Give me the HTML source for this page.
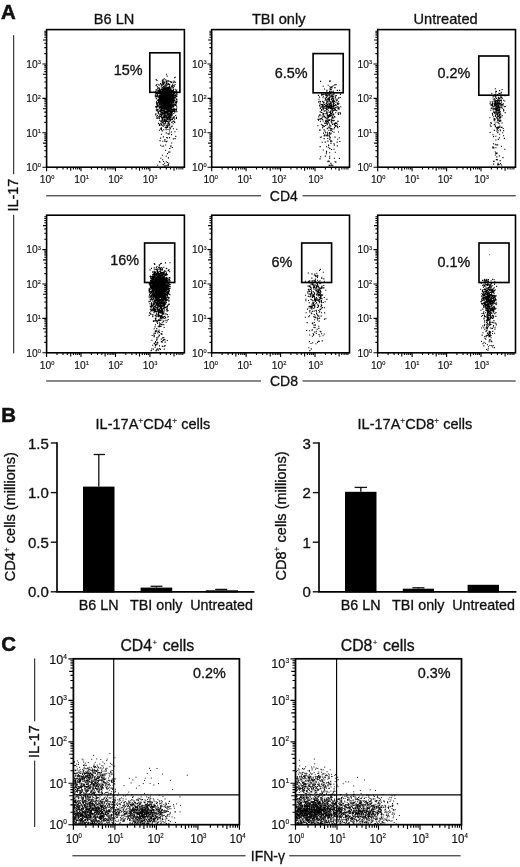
<!DOCTYPE html>
<html lang="en">
<head>
<meta charset="utf-8">
<title>Figure</title>
<style>
html,body{margin:0;padding:0;background:#fff;}
body{width:520px;height:867px;overflow:hidden;}
svg{display:block;will-change:transform;}
svg text{font-family:"Liberation Sans", sans-serif;fill:#111;}
svg text.h{stroke:#111;stroke-width:.32px;}
svg text.b{stroke:#111;stroke-width:.55px;}
svg text.k{stroke:#111;stroke-width:.16px;}
</style>
</head>
<body>
<svg width="520" height="867" viewBox="0 0 520 867">
<rect x="0" y="0" width="520" height="867" fill="#fff"/>
<g id="secA">
<text x="0.9" y="19.2" font-size="20.4" font-weight="bold" class="b">A</text>
<text x="114.1" y="23.9" font-size="14.6" text-anchor="middle" class="h">B6 LN</text>
<text x="278.7" y="23.9" font-size="14.6" text-anchor="middle" class="h">TBI only</text>
<text x="445.6" y="23.9" font-size="14.6" text-anchor="middle" class="h">Untreated</text>
<line x1="13.7" y1="35.2" x2="13.7" y2="174.2" stroke="#111" stroke-width="1.0"/>
<line x1="13.7" y1="214.8" x2="13.7" y2="353.4" stroke="#111" stroke-width="1.0"/>
<text transform="translate(17.9 211.5) rotate(-90)" font-size="14.4" class="h">IL-17</text>
<path d="M160.8 94.3h1.1M157.5 100.8h1.1M159.1 101.8h1.1M168.5 96.8h1.1M164.1 92.7h1.1M160.3 102.3h1.1M163.2 90.1h1.1M173.5 100.9h1.1M164.2 99.6h1.1M162.9 91.6h1.1M172.4 94.5h1.1M168.1 98h1.1M166 90h1.1M162.8 95.2h1.1M158.2 99.6h1.1M160.1 92.9h1.1M163.4 103.1h1.1M164.7 95.6h1.1M167.5 102.9h1.1M168.5 112h1.1M166.9 102.1h1.1M166.9 92.1h1.1M160.9 101.2h1.1M155.2 92.2h1.1M163.2 92h1.1M161.1 103.5h1.1M162.6 90.9h1.1M164.5 105.9h1.1M159.7 98h1.1M160.4 102.9h1.1M165.3 97.6h1.1M166.4 91.1h1.1M162.6 92.5h1.1M168.2 96.4h1.1M164.7 99.1h1.1M160.8 95.5h1.1M166 93.1h1.1M175 82.3h1.1M162.5 104.3h1.1M171.5 95.9h1.1M172.6 94.8h1.1M173.1 101.3h1.1M161.8 101.3h1.1M175.7 98.8h1.1M166.4 95.4h1.1M164.6 98.7h1.1M164.7 97.2h1.1M168.7 91.4h1.1M166.1 101.9h1.1M164.9 98.3h1.1M172.1 90.6h1.1M162.3 103.2h1.1M160.7 91.5h1.1M169.7 90.1h1.1M169.2 93.3h1.1M171.2 96.8h1.1M160.6 105.3h1.1M171.1 93.7h1.1M168.2 103.9h1.1M174.4 100.8h1.1M159.7 95.3h1.1M166.9 99.8h1.1M164.4 98.6h1.1M158 90.6h1.1M162.3 94.1h1.1M171.3 94.2h1.1M163.5 95.8h1.1M162.3 89.9h1.1M170.1 100.3h1.1M170.6 98.3h1.1M170.6 99.6h1.1M161.9 98.3h1.1M165.5 106h1.1M170.8 101.1h1.1M162.6 102.2h1.1M162.1 97.2h1.1M169.9 105.2h1.1M173.5 100h1.1M160.2 105.4h1.1M159.3 100h1.1M158.7 85.1h1.1M160.8 97.5h1.1M165.1 100.2h1.1M168.8 96.5h1.1M165.1 104.2h1.1M162.4 98.1h1.1M166.6 99.5h1.1M161.1 98.2h1.1M165.6 95.5h1.1M162.7 98.2h1.1M171.4 82.1h1.1M169.8 103.7h1.1M161.7 92.1h1.1M160.9 101.4h1.1M163.7 93.8h1.1M157.7 95.9h1.1M162.2 93.1h1.1M162.2 91.5h1.1M170.1 87.7h1.1M163.7 86h1.1M161.9 101.9h1.1M159.2 100.7h1.1M160 100.3h1.1M165.5 96.5h1.1M164.7 105.4h1.1M171.4 95.1h1.1M162.7 97.4h1.1M171 101.3h1.1M167.1 99.6h1.1M165.8 95.6h1.1M156 98.7h1.1M159.5 100.7h1.1M169.4 93.2h1.1M172.6 97.9h1.1M166.8 95.6h1.1M169.5 98h1.1M163.8 102.2h1.1M164 89.3h1.1M162.6 97.4h1.1M170.6 102h1.1M167.5 89.6h1.1M164.7 106.7h1.1M164.2 101.6h1.1M168.5 104.4h1.1M167.4 103.4h1.1M161.7 91h1.1M174.2 91.8h1.1M167.1 97.1h1.1M165.9 93.5h1.1M173 95.3h1.1M170.8 100.6h1.1M165.4 90h1.1M168.4 94.1h1.1M160.6 84.9h1.1M162.7 103.4h1.1M164.3 93.1h1.1M171.8 99.2h1.1M156.5 96.1h1.1M169.1 98.2h1.1M161.7 95.2h1.1M161 92.2h1.1M164.8 93.2h1.1M167.1 87.4h1.1M168.8 97h1.1M174.5 102.5h1.1M167.6 97.1h1.1M170.1 94.7h1.1M162.9 90.3h1.1M169.3 98.3h1.1M166.6 100.5h1.1M163.5 93.8h1.1M165.3 102.6h1.1M165.5 106.2h1.1M166.7 100h1.1M167.8 98.8h1.1M163.3 98h1.1M162.2 97.4h1.1M169.5 94.6h1.1M157.5 97h1.1M162.8 91.6h1.1M173.4 100.9h1.1M161.4 93.1h1.1M162.4 99.4h1.1M169.2 96.2h1.1M157.7 96.5h1.1M175.8 93.2h1.1M173.6 96.7h1.1M172.8 92.8h1.1M173.4 95.1h1.1M170.3 112.2h1.1M164.7 101.2h1.1M167.6 93.6h1.1M161.4 94.6h1.1M169.8 91.6h1.1M160.3 96.1h1.1M164.5 92.4h1.1M170.7 96.9h1.1M160.3 104h1.1M164 103h1.1M166.6 90.9h1.1M159.2 96.7h1.1M171.5 93.7h1.1M167.5 98.1h1.1M158.4 87.7h1.1M165.6 104.6h1.1M162 89.1h1.1M162.6 93.6h1.1M166.2 99.3h1.1M162.3 99h1.1M170.5 89.1h1.1M162.3 97h1.1M170.6 102.4h1.1M165.6 88.5h1.1M170 93.8h1.1M163.1 92.6h1.1M163.3 92.1h1.1M160.2 97.6h1.1M168.6 84.6h1.1M170.4 97.1h1.1M176.2 96.1h1.1M172.1 99.3h1.1M167 99.3h1.1M164.8 99.2h1.1M167.7 92.4h1.1M165.7 102.4h1.1M173 82.7h1.1M170.4 100.2h1.1M161.7 99h1.1M162.4 101.3h1.1M172.5 92.7h1.1M167.3 91.2h1.1M164.7 92.1h1.1M171.6 95.8h1.1M163.9 99.7h1.1M164.4 97.3h1.1M163.5 103.3h1.1M156.2 110.6h1.1M170 94h1.1M159.9 93.9h1.1M163 110.3h1.1M162.2 104.4h1.1M169.4 94.3h1.1M165.5 96.8h1.1M165.9 96.1h1.1M157.6 97.1h1.1M165.4 90h1.1M158.6 101.7h1.1M167.3 96.6h1.1M167.6 98.6h1.1M165.7 95.2h1.1M175.8 94.7h1.1M168.4 95.5h1.1M168.7 100.2h1.1M166.5 105.6h1.1M164.9 94.5h1.1M170.5 93.6h1.1M171.2 100h1.1M159.4 93.9h1.1M171 97h1.1M168.3 100.5h1.1M170.5 98.6h1.1M168.1 89.5h1.1M159.7 101.9h1.1M160.1 98.7h1.1M174.7 89.2h1.1M167 93.4h1.1M158.9 89.9h1.1M167.5 99.3h1.1M164 97.5h1.1M156.8 100.2h1.1M160.9 92.1h1.1M157.9 87.7h1.1M167.1 90.5h1.1M165.6 85.5h1.1M164.6 94.7h1.1M167.2 100.8h1.1M168.7 94.8h1.1M155.5 94h1.1M164.3 94.5h1.1M161.7 102h1.1M159.8 93.4h1.1M163.1 99.8h1.1M165.2 97.1h1.1M164.5 103h1.1M158.7 98.1h1.1M163.4 92.7h1.1M175.7 102.8h1.1M160.6 96.8h1.1M157.5 92.1h1.1M167.1 96.1h1.1M168.7 98.4h1.1M168.1 89.3h1.1M160.3 95.8h1.1M170.7 101.5h1.1M162 105.2h1.1M160.2 95.6h1.1M162.8 91.8h1.1M165.3 98.7h1.1M169.3 101.7h1.1M168.9 104.8h1.1M165.7 96.7h1.1M170.4 91.9h1.1M166.2 85h1.1M170.2 93.1h1.1M158.9 101.9h1.1M158.1 93.5h1.1M169.6 89.9h1.1M159 95.6h1.1M164.3 99.7h1.1M165.3 103.4h1.1M163.4 90.1h1.1M163.6 92.2h1.1M172.6 92.5h1.1M164.4 93.6h1.1M170.1 106.1h1.1M167.2 93.2h1.1M165.9 100.3h1.1M165.7 101.6h1.1M169.4 98.3h1.1M174.8 92.2h1.1M160 98.1h1.1M166.2 93.2h1.1M164.9 99.4h1.1M168.5 91.8h1.1M166.6 98.7h1.1M169 92.6h1.1M163.7 93.1h1.1M166 96.9h1.1M162.5 94.3h1.1M162.5 104.4h1.1M165.1 95.2h1.1M165.1 99.4h1.1M160.1 102.3h1.1M173.5 104.1h1.1M165.1 101.3h1.1M159 99.9h1.1M171.2 100.8h1.1M162.1 99h1.1M168.3 87h1.1M165.7 100.6h1.1M167 100.1h1.1M166.6 91.3h1.1M163 91.9h1.1M166 96.7h1.1M175.8 101.4h1.1M154.8 96.3h1.1M166.1 96.4h1.1M167.9 101.9h1.1M160.6 91.7h1.1M159.1 89.7h1.1M176.4 99.3h1.1M164 95.2h1.1M176 102.1h1.1M168.4 100.7h1.1M166.2 101.3h1.1M168.1 87.3h1.1M168.9 96.2h1.1M171.6 85.8h1.1M167.9 91.5h1.1M166.5 97h1.1M166.7 95.7h1.1M172.4 88.3h1.1M169.8 102h1.1M160.9 101.6h1.1M162.7 90.3h1.1M167.4 99.5h1.1M162.7 99.7h1.1M164 102.7h1.1M161.1 96.6h1.1M164.5 100.6h1.1M167.9 98.8h1.1M170.7 97.6h1.1M165.8 97.3h1.1M176 99.6h1.1M165.4 86.1h1.1M158.9 92.6h1.1M170.7 102.2h1.1M168.2 95h1.1M163.4 97.1h1.1M164.3 97.2h1.1M165 90.3h1.1M166.7 103.2h1.1M175.2 97.2h1.1M159 97.9h1.1M175.1 102.1h1.1M164.6 101.7h1.1M169.3 97.1h1.1M161.4 89.7h1.1M166.5 98.1h1.1M164.1 91.3h1.1M169.1 88.6h1.1M166.2 93.3h1.1M160.2 107.2h1.1M170.4 99.7h1.1M169.2 89h1.1M168.7 110.6h1.1M170.7 91.6h1.1M171.2 91.7h1.1M165.7 97.8h1.1M159.2 103.2h1.1M159 88.7h1.1M172.4 98.1h1.1M169.3 95.9h1.1M166.3 88.1h1.1M163.7 94.6h1.1M166 99.6h1.1M165.9 98.4h1.1M164.2 101.1h1.1M162.4 100.1h1.1M176.3 111.6h1.1M166.9 96.2h1.1M162.8 106.5h1.1M159.4 98.6h1.1M162.2 98.9h1.1M169.3 97.6h1.1M169.5 96.8h1.1M164.7 105h1.1M166.1 94.4h1.1M164.3 99h1.1M160.4 95.6h1.1M172.2 97h1.1M167.6 104.1h1.1M172.2 98.8h1.1M162.1 98.7h1.1M165.1 96.7h1.1M170.1 108.4h1.1M164.6 98.3h1.1M159 94h1.1M161.2 89.4h1.1M166.3 94.1h1.1M167.5 105.8h1.1M165.3 94.9h1.1M170.7 107h1.1M170.7 98.5h1.1M167.4 103.1h1.1M165.9 103.2h1.1M164.6 100.1h1.1M168.5 94.1h1.1M170.3 99.1h1.1M166.1 94.3h1.1M168 95.1h1.1M164.2 99.7h1.1M158.9 98.7h1.1M160.9 92.2h1.1M169.6 92.5h1.1M168 98.1h1.1M173.6 97.2h1.1M166.1 99.3h1.1M170 99h1.1M172.3 100.3h1.1M170.7 92.7h1.1M162.8 96.8h1.1M164.9 95h1.1M166.4 100.1h1.1M161 102.4h1.1M168.1 80.8h1.1M170.8 93.1h1.1M163.4 99.2h1.1M175.5 103.9h1.1M164.4 93.2h1.1M164.8 98.9h1.1M164.6 87.8h1.1M162.3 99.4h1.1M167.8 108.6h1.1M165.9 93.5h1.1M173.9 95.4h1.1M168.8 92.8h1.1M168.4 102.8h1.1M164.7 108.7h1.1M158.9 103.3h1.1M165.4 101.7h1.1M161.6 100.4h1.1M170.5 96.2h1.1M165.7 104.4h1.1M174 93.2h1.1M169.4 94.9h1.1M169.9 98.6h1.1M166.9 99.3h1.1M166.8 101.3h1.1M169 97.1h1.1M170.3 93.2h1.1M162.3 94.2h1.1M168.2 97.1h1.1M157.5 92h1.1M165.4 95h1.1M164.5 90.1h1.1M162.4 98.6h1.1M158.7 92.2h1.1M171.6 90.6h1.1M166.1 92.3h1.1M167.3 92.4h1.1M174.8 97.3h1.1M175.9 109.3h1.1M161.4 91.4h1.1M171 94.6h1.1M168.9 102.5h1.1M167.8 97.9h1.1M168.2 96.4h1.1M165.7 103.1h1.1M173.6 91.8h1.1M168.8 89.6h1.1M167.5 88.9h1.1M171.9 97.4h1.1M170.2 103.7h1.1M168.1 89.4h1.1M167.4 92.1h1.1M174.4 97.6h1.1M168.3 100.1h1.1M165.4 99.1h1.1M161.6 103.8h1.1M164.1 97.8h1.1M160.7 86.7h1.1M166.3 99.8h1.1M167.1 98.5h1.1M155.8 96.5h1.1M165.9 83h1.1M169 99.7h1.1M166.6 97.9h1.1M161.1 103.4h1.1M172 84.2h1.1M162.4 106.9h1.1M159.8 95.7h1.1M160.5 104.5h1.1M165.7 101.7h1.1M170.6 103.9h1.1M171.5 97h1.1M166.8 90.5h1.1M160 99.9h1.1M162.6 90.5h1.1M161.4 84.2h1.1M164.9 111h1.1M157.1 102.8h1.1M166.4 99.5h1.1M169 95.6h1.1M165.1 106.5h1.1M168.1 102.9h1.1M161.2 98.4h1.1M158.7 98.8h1.1M162.7 88.9h1.1M171.5 97.7h1.1M170.9 86.2h1.1M163.6 91.2h1.1M171.7 94.5h1.1M164.2 92.4h1.1M173.2 96.4h1.1M168.2 97.8h1.1M163.6 101.6h1.1M169.7 107.4h1.1M162 94.2h1.1M161.2 99.7h1.1M158.7 90.8h1.1M167.1 90.5h1.1M165.5 99.8h1.1M165.4 94.6h1.1M163.8 98h1.1M172.8 87.8h1.1M163.7 93.2h1.1M162.3 101.7h1.1M171.9 96.6h1.1M172.8 97.6h1.1M167.5 97.8h1.1M157.3 93.7h1.1M162.9 93h1.1M168.8 105.9h1.1M165.9 109.5h1.1M173.4 97.1h1.1M159.1 91.1h1.1M169.1 99.1h1.1M162.7 95.3h1.1M172.3 96.2h1.1M165.4 97.4h1.1M170.8 99.5h1.1M162.6 95.3h1.1M158.9 90.3h1.1M160.4 91.4h1.1M162.8 87.1h1.1M160.8 100.1h1.1M171.7 85.5h1.1M172.4 92.7h1.1M167.1 89h1.1M160.7 96.9h1.1M165.2 93.3h1.1M162.4 90.4h1.1M172.9 89.6h1.1M167.3 90.3h1.1M168.2 103.2h1.1M163.8 100.4h1.1M156 101.7h1.1M162 94.3h1.1M160.3 102h1.1M167.6 94h1.1M166.3 99.3h1.1M161.9 98.8h1.1M163.9 89.5h1.1M173.4 109.8h1.1M161.1 98.4h1.1M161.3 94.3h1.1M164.7 98.6h1.1M162.4 98.9h1.1M163.7 94h1.1M168.4 95.6h1.1M174.3 98.3h1.1M157.1 94.4h1.1M165.7 95.7h1.1M166 96.6h1.1M165.4 100.8h1.1M164.9 111.3h1.1M164.1 99.3h1.1M170.7 99.1h1.1M163.5 90.6h1.1M165.2 93.5h1.1M165.8 103.2h1.1M166.3 97.9h1.1M165 100.2h1.1M170.7 94.7h1.1M165.8 92.6h1.1M166.7 89.9h1.1M165.5 97.2h1.1M160.9 96.9h1.1M161.7 99.1h1.1M160.7 103.5h1.1M166.7 97.2h1.1M162.3 91.2h1.1M160.6 93.3h1.1M167 92.3h1.1M168.4 97.6h1.1M157.2 105.8h1.1M174.1 99.8h1.1M166 101.4h1.1M165.3 93.6h1.1M171 97.7h1.1M166.1 95h1.1M162.8 96.5h1.1M176.6 94.1h1.1M160.5 89.4h1.1M165.3 103.1h1.1M170 92.3h1.1M160.6 92h1.1M165.3 95h1.1M167.7 105.8h1.1M160.4 95.7h1.1M161.4 101.7h1.1M165.6 105.1h1.1M169 100.5h1.1M166.2 98h1.1M159.9 95.7h1.1M167.8 111.7h1.1M166.3 87.4h1.1M168 101.9h1.1M171.3 98.7h1.1M170.8 99.1h1.1M167.8 103.9h1.1M167.3 97.5h1.1M160.4 91.5h1.1M165.1 101.5h1.1M166.9 94.3h1.1M163.8 91.8h1.1M166.3 95.6h1.1M161.8 95.7h1.1M173.3 101.5h1.1M176.3 96.4h1.1M163.9 93.6h1.1M167.8 106.8h1.1M164.7 104.5h1.1M172 98.6h1.1M167.9 97.8h1.1M166.2 98.6h1.1M164.7 97.9h1.1M166.4 93.3h1.1M160.9 94.8h1.1M169.1 102.4h1.1M162.3 106h1.1M168.4 91.4h1.1M166.4 98.6h1.1M171.2 98h1.1M165.7 100.4h1.1M170.8 102.1h1.1M161.3 89.3h1.1M168.8 95.3h1.1M164.7 98.4h1.1M166.8 92.8h1.1M166.2 92.4h1.1M170.4 93.6h1.1M155.9 90h1.1M167.4 103.1h1.1M158.5 89.7h1.1M171.7 103.2h1.1M156.1 96.1h1.1M160.9 97.1h1.1M157.6 97.2h1.1M173.8 85.7h1.1M159.5 92h1.1M166.4 88h1.1M163.2 99.2h1.1M157 103.2h1.1M164.1 95.4h1.1M169 87.4h1.1M164.9 104.1h1.1M170.4 101.4h1.1M164 107.6h1.1M165.8 92.7h1.1M163.9 93.2h1.1M167.5 95h1.1M175.1 105h1.1M167.6 96.1h1.1M166.8 94.2h1.1M162.8 100.5h1.1M162.1 96h1.1M173 93.8h1.1M160.4 110.4h1.1M161.3 94.8h1.1M165.3 86.8h1.1M163.7 93.5h1.1M175.4 96.1h1.1M162.3 94.9h1.1M167.6 97h1.1M169.3 99h1.1M160.3 97.8h1.1M162.6 91.2h1.1M167.9 89.2h1.1M173.8 101h1.1M161.3 97.6h1.1M158.1 99.4h1.1M170.6 105.5h1.1M173.3 100.2h1.1M164.2 93.5h1.1M155 106.9h1.1M172.9 99.6h1.1M164.8 91.5h1.1M171.3 101.3h1.1M165.6 102.1h1.1M164 89h1.1M163.6 97.6h1.1M173 98.7h1.1M172.8 87.2h1.1M155.3 93.5h1.1M161.2 94.1h1.1M174.5 95.4h1.1M164 91.8h1.1M159.1 95.9h1.1M165.8 92.2h1.1M165.3 100.8h1.1M165.3 96.6h1.1M163.5 95.1h1.1M164.3 88.7h1.1M163.6 92.2h1.1M167.4 106.3h1.1M161.8 98.4h1.1M164.4 89.5h1.1M165.1 99.6h1.1M172.2 91.7h1.1M167.6 95.2h1.1M165.3 102.5h1.1M168.4 96.5h1.1M167.8 83.6h1.1M171.1 93.1h1.1M168.3 92.7h1.1M174.6 94.9h1.1M172.4 92.4h1.1M165.6 89.2h1.1M163.8 96.5h1.1M170.1 98.4h1.1M168.3 100.1h1.1M165.3 94.2h1.1M158.6 97.1h1.1M156.8 95.2h1.1M167.5 107h1.1M169.6 92.7h1.1M169.7 98.2h1.1M159.5 92.7h1.1M170.9 92.4h1.1M163.2 99.8h1.1M167.7 100.6h1.1M167.8 89.5h1.1M161.9 91.9h1.1M162.9 99.2h1.1M155.6 89.7h1.1M161.3 94.4h1.1M157 88.3h1.1M167.9 92.9h1.1M166.1 93h1.1M170.3 106.9h1.1M167.5 92.6h1.1M162.7 89.4h1.1M167.5 92.5h1.1M163.9 99h1.1M168.8 96.8h1.1M167.3 96.5h1.1M161 108.3h1.1M165.8 96.7h1.1M166.1 107.2h1.1M164.3 102.6h1.1M170.2 97.2h1.1M174.2 93.4h1.1M164 93.5h1.1M164.1 92.5h1.1M154.8 95.1h1.1M165.2 88.9h1.1M163.7 105.4h1.1M155.2 91.2h1.1M167.2 97.3h1.1M168.7 95.5h1.1M162.2 91.7h1.1M164 103.8h1.1M161.1 93.7h1.1M169.5 88.7h1.1M158.4 102.6h1.1M164.3 93h1.1M175.4 90.7h1.1M166.1 92.5h1.1M168.1 98.2h1.1M165.1 91.3h1.1M160.1 106.4h1.1M165.6 93.6h1.1M167.8 98.3h1.1M160.8 101.1h1.1M167.5 94.4h1.1M171.9 100.8h1.1M171 93.3h1.1M158 91.5h1.1M161 97h1.1M157.9 91.2h1.1M171 98.9h1.1M168.8 93.6h1.1M169.2 100.4h1.1M161.5 92.2h1.1M160.1 104.4h1.1M166.2 88.2h1.1M166.3 93.5h1.1M161.6 100h1.1M166.5 96.9h1.1M169 89.6h1.1M166.9 97.5h1.1M160.7 95.7h1.1M155.4 97.9h1.1M164.5 102h1.1M166.6 92.3h1.1M164.5 92.9h1.1M163.7 91.7h1.1M162.4 97.9h1.1M169.3 84.2h1.1M165.5 97.1h1.1M166.4 97.6h1.1M161 94.2h1.1M162.8 100.2h1.1M166.6 104.5h1.1M160.9 95.2h1.1M159.6 98.2h1.1M164.2 94.9h1.1M171.7 99.8h1.1M166.7 104.9h1.1M173 95h1.1M165.2 100.9h1.1M164.3 99h1.1M159 93.7h1.1M163 88.5h1.1M172.8 97.8h1.1M167.4 102.9h1.1M169.4 89h1.1M169.3 101.1h1.1M165.8 93h1.1M164.8 96.9h1.1M166.4 88.4h1.1M169.1 93.6h1.1M168 97.8h1.1M168.2 94.8h1.1M166.6 98.2h1.1M162 82.9h1.1M164.5 101.9h1.1M161.2 89.3h1.1M170.7 105.7h1.1M155.5 85.7h1.1M164.7 96.9h1.1M157.1 92.4h1.1M164.1 105.7h1.1M160.2 90.5h1.1M165.7 95.4h1.1M172.1 111.7h1.1M165 98.4h1.1M168.8 88.7h1.1M166.3 95.9h1.1M164 93.6h1.1M174.3 104.1h1.1M166.1 102.2h1.1M163.2 91.9h1.1M163.4 84h1.1M167.7 96.5h1.1M167.8 102h1.1M169.6 95.5h1.1M166.5 98.3h1.1M158.8 91.3h1.1M168.4 91.3h1.1M164.3 85.7h1.1M164.4 95.6h1.1M158.5 100.2h1.1M163 90.7h1.1M162.3 108.7h1.1M165.6 91.6h1.1M158.7 91.3h1.1M166 105.3h1.1M166.4 108.8h1.1M160.3 100.4h1.1M162.7 87.1h1.1M161.6 96.3h1.1M170.2 97.3h1.1M172.6 91.6h1.1M164.1 88.2h1.1M157.7 96.9h1.1M163.7 98.9h1.1M169.9 87.7h1.1M162.7 91.3h1.1M166.5 98.1h1.1M161.7 96.2h1.1M175.3 95.4h1.1M170.3 97h1.1M171.3 103.1h1.1M159.3 92.2h1.1M160.4 99h1.1M171.1 101.9h1.1M164.9 112.2h1.1M164.5 117.5h1.1M167.4 102.9h1.1M159.7 99.2h1.1M169.5 116.6h1.1M165.9 98.2h1.1M168.1 88h1.1M162.5 117.5h1.1M168.3 101.3h1.1M162.4 105.2h1.1M170.5 95.1h1.1M171.3 95.8h1.1M170.3 97.3h1.1M168.3 104.7h1.1M168.9 111.4h1.1M156.9 86.8h1.1M169.9 115h1.1M164.5 97.1h1.1M166.3 98.1h1.1M164.4 114.3h1.1M159 107.3h1.1M163.2 93.8h1.1M169 125h1.1M172.7 100h1.1M162.8 110.3h1.1M161.4 109.8h1.1M172.8 121h1.1M161.5 103.8h1.1M175.9 117.3h1.1M166 101.1h1.1M161.5 118.4h1.1M170.6 101h1.1M174.1 104.7h1.1M158.9 125.5h1.1M173.4 110.9h1.1M164.4 109h1.1M172.9 128.7h1.1M163.9 111.3h1.1M158.1 100.5h1.1M168.2 114.8h1.1M170.3 97.1h1.1M175.9 118.4h1.1M174.1 119.1h1.1M169.2 102.7h1.1M164.6 102.2h1.1M163.3 109.6h1.1M164.4 108.1h1.1M161.7 99h1.1M164.5 113.2h1.1M166.4 89.1h1.1M166.7 104h1.1M165.7 104.3h1.1M163.6 105.5h1.1M169.5 110.8h1.1M163.4 96.7h1.1M168.5 113.4h1.1M159.8 106.3h1.1M162.8 102h1.1M156.6 95.4h1.1M172.8 97.1h1.1M168.7 111.3h1.1M160 99.1h1.1M165.5 108.6h1.1M170.4 117.8h1.1M168.2 117.5h1.1M167.6 122.4h1.1M161.6 105.3h1.1M162.7 98h1.1M166.3 117.4h1.1M170.3 110.9h1.1M161.8 118.4h1.1M160.3 108.1h1.1M171.3 119h1.1M161.3 115.8h1.1M171 114.6h1.1M167 112.7h1.1M170.1 111.7h1.1M174.3 110.2h1.1M169.2 110.1h1.1M169.6 117.1h1.1M161.3 103.3h1.1M162.5 124h1.1M168.9 107h1.1M173.2 117.1h1.1M172.6 107.2h1.1M168 105.7h1.1M167.3 126.8h1.1M166.8 105.1h1.1M170.7 96.2h1.1M165.9 101.4h1.1M165.5 105.1h1.1M160.8 127.9h1.1M170.6 109.9h1.1M160.6 116.6h1.1M168.3 98.7h1.1M158.9 111.3h1.1M171.1 114.2h1.1M160.9 124.6h1.1M169.9 101.6h1.1M158.1 113.6h1.1M163.7 110.8h1.1M171.6 98.6h1.1M161.9 107.8h1.1M166.1 105.6h1.1M163.5 86.5h1.1M162.4 113.5h1.1M167.3 113h1.1M167.9 103.9h1.1M160.4 95.6h1.1M168.6 121.7h1.1M161.9 110.5h1.1M160.9 117.4h1.1M165.8 121h1.1M162.5 103.2h1.1M175.1 115.5h1.1M158.2 105.8h1.1M169.4 107.4h1.1M170.6 107.2h1.1M156.1 108h1.1M157.4 118.3h1.1M168.5 109.1h1.1M163.4 106.6h1.1M167.7 105.4h1.1M171.4 111.2h1.1M164 99.7h1.1M160.6 103.4h1.1M160 107.5h1.1M166.8 102.8h1.1M161.3 106.9h1.1M167.3 102.4h1.1M166.9 126.5h1.1M159.1 120.3h1.1M174.2 112.2h1.1M171.1 107.5h1.1M169.9 128.2h1.1M160 111h1.1M163.8 107.2h1.1M163.1 110.8h1.1M163.8 110.8h1.1M160.4 121h1.1M167.9 107.8h1.1M166.9 127.4h1.1M167.6 99.9h1.1M163.3 114.4h1.1M172.1 98.7h1.1M166.7 124.8h1.1M172.4 104.9h1.1M162.7 107.5h1.1M165.5 116.5h1.1M170.5 119.6h1.1M164.3 97.7h1.1M164.6 104.8h1.1M162.6 95.1h1.1M169 109.3h1.1M163.6 107.1h1.1M162.8 104.8h1.1M162.2 101.7h1.1M168.5 104.4h1.1M163.2 101.1h1.1M157.6 112.9h1.1M168.8 122h1.1M162.4 90.2h1.1M167.5 106.9h1.1M167.6 104.1h1.1M171.7 112.5h1.1M170.9 99.2h1.1M163 106.6h1.1M165 98.4h1.1M159.5 114.4h1.1M174 108.9h1.1M168 106.5h1.1M172.6 111.4h1.1M164.2 105.7h1.1M155.8 93.6h1.1M173.3 113.5h1.1M166.3 110.7h1.1M166.5 106.6h1.1M166.1 117.1h1.1M168.9 119.3h1.1M168.4 97.9h1.1M158 100.8h1.1M171 122.3h1.1M163.2 121.1h1.1M163.5 101.2h1.1M174.3 97.1h1.1M170.3 102.1h1.1M164.1 103.4h1.1M156.7 93.4h1.1M166.6 108.3h1.1M168.4 96.2h1.1M165.4 96.8h1.1M159.8 116.5h1.1M161.9 101.7h1.1M159.7 107.3h1.1M166.8 113.8h1.1M169.8 115.5h1.1M170.8 104.9h1.1M162.2 108.4h1.1M167 100.4h1.1M168.5 124.1h1.1M163.3 114h1.1M165.1 97.8h1.1M176.2 108h1.1M166.8 114.6h1.1M170.1 112.4h1.1M163.7 124.9h1.1M166 120.7h1.1M157.4 103h1.1M165.7 107.2h1.1M171.6 96.2h1.1M176 110.3h1.1M171.6 109.4h1.1M169.1 133h1.1M166.1 108.9h1.1M162.9 88.7h1.1M165 101.8h1.1M168.8 109h1.1M162 96.4h1.1M170.4 100h1.1M161 104.6h1.1M157.1 111.2h1.1M160.9 106.5h1.1M157.6 99.8h1.1M159.1 115.3h1.1M171.3 103h1.1M164.8 103.4h1.1M166.9 95.3h1.1M171.5 100.7h1.1M171.9 114h1.1M163.3 93.1h1.1M172.3 107.3h1.1M167.7 114.6h1.1M165.8 104.5h1.1M168 110.2h1.1M158.8 97.7h1.1M162 120.1h1.1M165.3 118.2h1.1M168.8 110.2h1.1M164 91.8h1.1M165.2 98.3h1.1M170.5 117h1.1M172.6 123.8h1.1M169.5 110.7h1.1M171.9 119.5h1.1M163.8 102.4h1.1M164.3 106.3h1.1M167.4 108h1.1M164.3 111.9h1.1M163.3 93.9h1.1M173.8 116.7h1.1M164.8 120.2h1.1M161.1 97.4h1.1M168.2 95.5h1.1M174.7 111.2h1.1M166.2 102h1.1M171.8 86.1h1.1M163.7 115.5h1.1M163.4 109.4h1.1M162.4 103.6h1.1M165.1 127.5h1.1M174.8 109.3h1.1M160.1 101h1.1M173.8 108.9h1.1M160.9 98.4h1.1M164.7 101h1.1M169.9 111.6h1.1M168.9 102.9h1.1M167.2 103.8h1.1M157.9 123.4h1.1M167.6 115.9h1.1M160.8 115.4h1.1M161 112.9h1.1M164.8 112.5h1.1M166.7 121.5h1.1M160.2 107.8h1.1M163.5 125.1h1.1M159.5 99.2h1.1M170.6 105.6h1.1M164.5 95.3h1.1M168.6 104.8h1.1M162.5 112.8h1.1M163.4 121.4h1.1M172.1 101.9h1.1M161.1 108h1.1M157 104.7h1.1M167.8 101.2h1.1M160.2 97h1.1M163.7 108.6h1.1M170.3 92h1.1M161.8 109h1.1M170.1 108.2h1.1M162.5 101.9h1.1M173.1 98.7h1.1M172.3 95.2h1.1M163.5 125.3h1.1M164.8 95.6h1.1M161.8 122.4h1.1M166.8 113.5h1.1M171.4 104.6h1.1M158.7 97.3h1.1M170.2 117.6h1.1M159.4 124h1.1M161.6 99.4h1.1M157.1 105.2h1.1M176 117.7h1.1M166.1 111.1h1.1M167 126.5h1.1M162.5 102.7h1.1M171 113h1.1M155.5 96.4h1.1M165.9 127.4h1.1M176.6 101.3h1.1M163.9 87.6h1.1M165.9 106.8h1.1M169.1 106.7h1.1M161.9 125.7h1.1M165.9 104.9h1.1M170.5 107.9h1.1M166.7 113.5h1.1M167.6 122.7h1.1M164.1 107.4h1.1M167.3 117.6h1.1M166.1 112.8h1.1M172.9 105.3h1.1M169.3 108.7h1.1M164.6 108.3h1.1M168.9 99.5h1.1M169.3 119.2h1.1M169.5 95.2h1.1M161.4 118.8h1.1M156.1 116.8h1.1M160.2 107.1h1.1M170.3 100.9h1.1M160.6 105.9h1.1M163.6 112.4h1.1M166.9 114.9h1.1M171.8 110.7h1.1M165.7 117.2h1.1M165.3 102.8h1.1M163.1 110.2h1.1M173.8 93.5h1.1M171 115.1h1.1M165.3 109.4h1.1M159 104.2h1.1M162 118.7h1.1M168.6 114.4h1.1M162.3 82h1.1M170.2 108.4h1.1M167.6 94.6h1.1M167.2 117.9h1.1M168.9 131h1.1M168.2 103.2h1.1M161.6 108.7h1.1M164.2 105.7h1.1M164.3 111.2h1.1M159.9 114h1.1M163.5 119.9h1.1M171 98.9h1.1M165 122.5h1.1M161.8 99.4h1.1M159.3 110.6h1.1M168.4 118.7h1.1M170.8 114.6h1.1M172.7 99.3h1.1M166.1 101.5h1.1M170.9 103.7h1.1M160.8 107.5h1.1M166.6 118.6h1.1M162.5 96.1h1.1M166.6 112.3h1.1M169.5 113.6h1.1M171 113.2h1.1M161 112.3h1.1M171.9 122h1.1M163.5 112.5h1.1M160.8 115.9h1.1M165 113.2h1.1M158.8 124.6h1.1M165.8 90.4h1.1M167.2 119.8h1.1M164.8 105.6h1.1M168.4 105.4h1.1M164.3 99h1.1M165.8 90.7h1.1M158.8 104.5h1.1M166 101.6h1.1M161.7 112.6h1.1M163.6 94.4h1.1M165.3 121.2h1.1M166.7 110.5h1.1M157.7 105.7h1.1M158.1 101.4h1.1M164.3 100.7h1.1M168.1 97.6h1.1M167.6 103h1.1M170.2 108.1h1.1M172.2 106.4h1.1M168.2 94.9h1.1M165.7 105.5h1.1M160.7 99.7h1.1M161.2 109.5h1.1M163.6 125.2h1.1M167.1 113.8h1.1M166.9 105.1h1.1M165.8 93h1.1M165.1 94.9h1.1M168.9 92.4h1.1M166.8 114.7h1.1M167.3 100.9h1.1M167.3 108.6h1.1M163.1 102.3h1.1M160.8 108.8h1.1M168.2 121h1.1M167.8 101.7h1.1M164.7 104.8h1.1M163.8 100.5h1.1M166.3 116.1h1.1M162.1 98.5h1.1M164.7 97.5h1.1M167.1 95.2h1.1M160.1 95h1.1M166.4 112.4h1.1M174.3 131.7h1.1M170.4 98.8h1.1M168.9 116.8h1.1M168.7 110.3h1.1M166.3 97.8h1.1M170.5 105.4h1.1M165 105.8h1.1M163.7 101.6h1.1M166.3 125.8h1.1M170.2 90.4h1.1M167.4 111.5h1.1M169.1 111.1h1.1M155.9 102.6h1.1M171.6 109.4h1.1M166.2 116.1h1.1M172.3 109.4h1.1M164.3 111.9h1.1M161.7 114.4h1.1M167.2 89.2h1.1M161 121.7h1.1M169.3 129.1h1.1M163.3 117.1h1.1M170.5 117.4h1.1M172.5 95h1.1M155.9 106.9h1.1M167.2 100.5h1.1M162.4 102.6h1.1M159 116.9h1.1M162.8 100.6h1.1M164.7 106.8h1.1M170.9 90.4h1.1M158.4 106.5h1.1M170.9 108.8h1.1M175.7 101.5h1.1M168.7 101.3h1.1M168.4 125.4h1.1M165.7 96.8h1.1M160 98.3h1.1M168.4 100.5h1.1M167.7 119.1h1.1M169.3 127.4h1.1M168.4 111.1h1.1M169.4 101.4h1.1M167.9 104h1.1M173.4 117.8h1.1M159.2 99.6h1.1M160.3 121.4h1.1M164 121.1h1.1M162.6 108.6h1.1M169.2 114h1.1M164.3 114.9h1.1M174.2 122.4h1.1M173.2 98.3h1.1M169.5 118.9h1.1M163.9 104.5h1.1M168.8 100.9h1.1M169.8 108.9h1.1M160.6 106h1.1M167.5 98.9h1.1M169.3 93.2h1.1M166.9 99.3h1.1M173.4 121.4h1.1M171.6 126.1h1.1M161.8 114h1.1M166.4 119h1.1M161.7 103.2h1.1M168.6 107.3h1.1M161.6 110.6h1.1M170.3 98h1.1M167.7 98.9h1.1M170.5 108.9h1.1M165.1 105h1.1M158.7 98.2h1.1M174.4 111.6h1.1M165 105.6h1.1M172.5 117.4h1.1M167.9 108h1.1M169.1 105.2h1.1M174.7 109.2h1.1M167.5 106.4h1.1M172.7 101.8h1.1M158.5 104.3h1.1M170 114.9h1.1M164.6 114h1.1M165.2 119.9h1.1M165.8 92.4h1.1M167.5 104.4h1.1M173.9 104.2h1.1M156.8 109.6h1.1M166 103.8h1.1M162.3 103.3h1.1M171.5 115.2h1.1M163.7 109.6h1.1M168 97.2h1.1M163.9 120.3h1.1M169 117.2h1.1M170.8 102.7h1.1M163.9 115.7h1.1M166 101.2h1.1M158.9 118.4h1.1M167.3 106h1.1M170 100.6h1.1M163.1 104.6h1.1M171.3 100.9h1.1M155.7 109.8h1.1M156.8 109.6h1.1M159 108.3h1.1M163.4 102.9h1.1M165.9 74.2h1.1M165.4 108.9h1.1M165.5 90.5h1.1M169.3 110.3h1.1M163.5 118.4h1.1M159.6 110.5h1.1M159.7 104.4h1.1M176.1 106.3h1.1M156.9 106.8h1.1M164.9 102.9h1.1M172.9 102.6h1.1M168.2 99.5h1.1M161.8 119h1.1M165.8 107.9h1.1M170 116.8h1.1M171.7 105.7h1.1M161.4 108.7h1.1M169.5 106.4h1.1M167 112.3h1.1M171.2 115.6h1.1M172.6 110.2h1.1M164.1 101.8h1.1M158.7 100.8h1.1M167.7 123.3h1.1M174.5 105.4h1.1M169.2 105.3h1.1M166.9 121.5h1.1M156.8 118.1h1.1M160.7 112.9h1.1M170.2 104.3h1.1M163.1 129.7h1.1M166 111.6h1.1M166.2 113.1h1.1M173.2 106.4h1.1M161.2 94.9h1.1M163.2 95.7h1.1M158 111.8h1.1M168.2 111.6h1.1M163.6 105.8h1.1M167.9 97.2h1.1M160.5 94.7h1.1M164 105h1.1M170.9 94.5h1.1M165 116.3h1.1M168.8 118.7h1.1M168.3 134.1h1.1M164.1 116.1h1.1M158.2 102.5h1.1M170.6 99.9h1.1M166.6 76.1h1.1M170.6 102.5h1.1M156 106.4h1.1M157.8 116.9h1.1M155.4 113.7h1.1M161.5 113.4h1.1M170.9 110h1.1M168.6 114.1h1.1M165.6 121.4h1.1M166.4 98.2h1.1M169.5 103.8h1.1M164.3 95.2h1.1M167.7 123h1.1M166.5 120h1.1M155.2 115h1.1M163.9 96.9h1.1M172.4 109.6h1.1M163.9 105.8h1.1M165.1 108.7h1.1M162.8 106.3h1.1M163.4 112.8h1.1M171.3 104.4h1.1M164.5 115.9h1.1M160.8 110.2h1.1M175.5 105.3h1.1M163 107h1.1M156.2 103.9h1.1M156.9 115.5h1.1M169.7 105.5h1.1M169.3 110.7h1.1M156.4 104.4h1.1M170 94.3h1.1M168 116.4h1.1M162 98.2h1.1M169.4 114.3h1.1M157.9 111.9h1.1M159.9 92.7h1.1M158.7 99.3h1.1M160.4 103.2h1.1M170.1 100.4h1.1M159.3 97.1h1.1M160.2 114.8h1.1M161.1 105.8h1.1M166.8 111.6h1.1M164.1 104h1.1M170 110.8h1.1M162.3 101.1h1.1M159.5 107.8h1.1M163.3 113.4h1.1M166 108.4h1.1M161.2 103.8h1.1M167.1 98h1.1M174.6 109.5h1.1M162.9 111.2h1.1M166 105.6h1.1M172.4 100.9h1.1M162.6 113h1.1M161.7 130.9h1.1M160.4 105.2h1.1M167.7 111.1h1.1M168.2 111.5h1.1M165 84.3h1.1M165.9 109.1h1.1M172 101.5h1.1M169.9 120.8h1.1M158.9 105.7h1.1M165.7 100.8h1.1M166.2 106h1.1M169.2 109.5h1.1M164.6 102.8h1.1M162.5 107.5h1.1M163.4 95.5h1.1M157 105.9h1.1M165.5 115.2h1.1M162.8 126.2h1.1M167.9 114.5h1.1M160.7 110.5h1.1M163.5 118.9h1.1M160.9 117.4h1.1M160.5 123.4h1.1M169 118h1.1M163.4 106.9h1.1M167.8 110.4h1.1M160.2 109.7h1.1M166.1 110.8h1.1M157.4 109.9h1.1M163.3 100.8h1.1M163.2 88.6h1.1M168.5 101.8h1.1M166.5 89.3h1.1M164.8 108.6h1.1M169.7 108h1.1M166.5 92.5h1.1M168.2 114.4h1.1M169.3 116h1.1M165.3 108.9h1.1M164.2 123.4h1.1M167.2 125.3h1.1M163.5 96.9h1.1M167.5 117.6h1.1M171 112.1h1.1M169.7 111.9h1.1M163.7 116.6h1.1M159.3 101.4h1.1M165.3 102.5h1.1M165 100.4h1.1M171 101h1.1M163.7 107.1h1.1M164.6 94.6h1.1M169.2 98.3h1.1M163.3 113.3h1.1M164.8 107.3h1.1M173.9 111.5h1.1M172.9 90.5h1.1M168.6 100.8h1.1M166.9 102.9h1.1M160.8 108.3h1.1M168.3 102.6h1.1M165.9 116.6h1.1M166.6 107.5h1.1M163 108.2h1.1M165.5 108.1h1.1M164.7 114.5h1.1M167.1 103.6h1.1M172.5 118.4h1.1M167.3 112.3h1.1M157.5 109.4h1.1M160.8 108.4h1.1M157.9 112.8h1.1M161.7 117.4h1.1M168.3 116.7h1.1M167.5 111.5h1.1M162.7 116.1h1.1M166.9 109.1h1.1M161.9 119.6h1.1M158.6 107.8h1.1M158.7 88.8h1.1M161.4 120.4h1.1M172.5 109h1.1M159 97.2h1.1M171.6 106.2h1.1M172.1 99.8h1.1M164.7 127.4h1.1M165.3 112.6h1.1M162.6 93.5h1.1M165.4 113h1.1M168.8 104.3h1.1M165.6 125.7h1.1M170.4 98.3h1.1M171.4 87.2h1.1M167.2 108.6h1.1M167.1 104.8h1.1M165.3 104.2h1.1M167.2 88.2h1.1M160.1 111.9h1.1M167.5 123.5h1.1M166.6 90.4h1.1M161.4 118.8h1.1M176.1 102.7h1.1M160.9 129.7h1.1M161.3 112h1.1M166.9 106.3h1.1M156.2 118.2h1.1M161.7 112.9h1.1M158.1 102.5h1.1M160.9 114.6h1.1M164.9 103.3h1.1M167.1 91.5h1.1M170.8 126.8h1.1M169.5 104.8h1.1M171.3 102.4h1.1M168.4 111.1h1.1M163.2 93.6h1.1M171 95.5h1.1M163.2 103.4h1.1M162.5 103.2h1.1M173 108.7h1.1M169.3 118.4h1.1M166.6 103.6h1.1M169.2 119.9h1.1M169.8 112.3h1.1M158.9 108.3h1.1M165.1 150.2h1.1M159.9 129h1.1M166.1 137.5h1.1M162.7 164.6h1.1M171.8 147.5h1.1M167.9 157.9h1.1M161.9 155.2h1.1M165.5 165.6h1.1M159.6 109.9h1.1M165.7 132.9h1.1M167.9 165.3h1.1M166.8 137.9h1.1M157.2 165.2h1.1M163.9 119.4h1.1M168 109.3h1.1M166.9 162.5h1.1M171 134.6h1.1M159.5 140.6h1.1M167.8 164.6h1.1M162.4 121.9h1.1M167.5 133.7h1.1M168.8 123.9h1.1M162.7 122.9h1.1M166.4 141.2h1.1M160.1 138.1h1.1M159.4 162h1.1M168.2 108.4h1.1M165.3 107.8h1.1M157.7 117h1.1M161.6 146.3h1.1M165.6 156.2h1.1M172.8 138.9h1.1M170.3 146.8h1.1M169.2 148.5h1.1M156.8 105.2h1.1M165.1 123.8h1.1M167.4 129.5h1.1M167.3 165.2h1.1M164.4 139.6h1.1M174 122.1h1.1M172.7 102.9h1.1M165.1 121.8h1.1M160.8 128.9h1.1M175.2 136.4h1.1M162.9 136.9h1.1M171.1 143h1.1M174.5 138.5h1.1M160.9 106.7h1.1M166.9 125.2h1.1M164 166h1.1M168 106.1h1.1M167 153.6h1.1M174.6 138.6h1.1M168.2 152.1h1.1M165.5 129.6h1.1M170.9 132h1.1M164.3 141.1h1.1M164 163.2h1.1M176.2 129.3h1.1M161.5 111.6h1.1M163.1 107.2h1.1M165.7 161.7h1.1M160.5 128.4h1.1M155.3 114.4h1.1M170.4 145.8h1.1M162.1 159.7h1.1M163 146h1.1M163.7 116.9h1.1M160.9 134.3h1.1M160.4 125.2h1.1M166.3 104.9h1.1M169 137.6h1.1M169.1 115.6h1.1M158.9 161.9h1.1M160.3 158.2h1.1M169.2 124.3h1.1M164.4 119.8h1.1M165.7 141.6h1.1M165.1 145h1.1M163 161.5h1.1M168.1 163.3h1.1M158.9 130.2h1.1M160.1 145.2h1.1M164.1 114.7h1.1M162.2 141.2h1.1M166.8 110.3h1.1M170.4 113.7h1.1M166.7 114.6h1.1M166.5 127.5h1.1M165.6 128.1h1.1M169.4 152h1.1M156.5 110.8h1.1M167.3 113.7h1.1M160.9 89h1.1M159.5 91.1h1.1M165.5 90.3h1.1M163.6 96.9h1.1M168.4 88.8h1.1M170.9 93.8h1.1M162.9 81.8h1.1M165.2 79.9h1.1M175.1 94.9h1.1M169.8 95.1h1.1M172.6 90h1.1M166 88.5h1.1M158.5 88.2h1.1M160 83.6h1.1M169 95.5h1.1M170.2 90.8h1.1M161.9 90h1.1M164.2 89.3h1.1M166.8 92.9h1.1M156.9 90h1.1M163.8 91.2h1.1M173.4 81.1h1.1M176.2 90h1.1M165 98.9h1.1M174.5 84.5h1.1M162.9 86.6h1.1M161.5 92h1.1M160.4 92.4h1.1M170.2 90.6h1.1M163.7 78.7h1.1M168.8 89.9h1.1M167.1 81h1.1M166.4 82.9h1.1M156.7 90.2h1.1M172.9 85.7h1.1M163.7 91.6h1.1M164.7 104h1.1M175.8 91.4h1.1M170.1 91.1h1.1M170.4 82.5h1.1M162.5 83.9h1.1M166 81.6h1.1M167.4 84.4h1.1M170.2 81.5h1.1M166 83.8h1.1M174 86.2h1.1M164.3 82h1.1M162.6 79.7h1.1M163.2 80h1.1M163.8 89.7h1.1M161.6 87.6h1.1M170.5 92.7h1.1M166.8 92.8h1.1M161.5 85.5h1.1M167.2 90.8h1.1M155.6 79.6h1.1M164.1 99.4h1.1M168.1 93.6h1.1M169 86.1h1.1M161.7 81.1h1.1M170 89.3h1.1M174.7 77.3h1.1M163.4 83.1h1.1M169.2 91.3h1.1M157.9 87.7h1.1M155.9 84.7h1.1M168.5 92.3h1.1M165.7 81.8h1.1M166.5 88.8h1.1M162.7 84.6h1.1M164.1 82.8h1.1M169.5 89.7h1.1M174 82h1.1M164.5 97.4h1.1M157.5 84.2h1.1M171.8 97.9h1.1M168.5 81.5h1.1M168.9 90.5h1.1M166.4 80.9h1.1M162.1 80.1h1.1M165.9 88.1h1.1M168.1 90.9h1.1M156.5 80.5h1.1M162.7 93.6h1.1M162.2 83h1.1M165.4 88h1.1M167.3 89.3h1.1M161.9 90.4h1.1M174 77.7h1.1M160.3 95.9h1.1M163.3 90.3h1.1M166.7 85h1.1" stroke="#000" stroke-opacity="1.0" stroke-width="1.1" fill="none"/>
<rect x="46.6" y="29.6" width="137.8" height="137.6" fill="none" stroke="#000" stroke-width="1.6"/>
<path d="M42.4 167.2H46.6M46.6 167.2V171.3M44.3 156.8H46.6M57 167.2V169.5M44.3 150.7H46.6M63 167.2V169.5M44.3 146.4H46.6M67.3 167.2V169.5M43 143.1H46.6M70.7 167.2V170.8M44.3 140.4H46.6M73.4 167.2V169.5M44.3 138.1H46.6M75.7 167.2V169.5M44.3 136.1H46.6M77.7 167.2V169.5M44.3 134.3H46.6M79.5 167.2V169.5M42.4 132.8H46.6M81 167.2V171.3M44.3 122.4H46.6M91.4 167.2V169.5M44.3 116.4H46.6M97.5 167.2V169.5M44.3 112.1H46.6M101.8 167.2V169.5M43 108.7H46.6M105.1 167.2V170.8M44.3 106H46.6M107.8 167.2V169.5M44.3 103.7H46.6M110.1 167.2V169.5M44.3 101.7H46.6M112.1 167.2V169.5M44.3 99.9H46.6M113.9 167.2V169.5M42.4 98.4H46.6M115.5 167.2V171.3M44.3 88H46.6M125.8 167.2V169.5M44.3 82H46.6M131.9 167.2V169.5M44.3 77.7H46.6M136.2 167.2V169.5M43 74.3H46.6M139.5 167.2V170.8M44.3 71.6H46.6M142.3 167.2V169.5M44.3 69.3H46.6M144.6 167.2V169.5M44.3 67.3H46.6M146.6 167.2V169.5M44.3 65.6H46.6M148.3 167.2V169.5M42.4 64H46.6M149.9 167.2V171.3M44.3 53.6H46.6M160.3 167.2V169.5M44.3 47.6H46.6M166.3 167.2V169.5M44.3 43.3H46.6M170.6 167.2V169.5M43 40H46.6M174 167.2V170.8M44.3 37.2H46.6M176.7 167.2V169.5M44.3 34.9H46.6M179 167.2V169.5M44.3 32.9H46.6M181 167.2V169.5M44.3 31.2H46.6M182.8 167.2V169.5" stroke="#000" stroke-width="1.1" fill="none"/>
<text transform="translate(41 171.1) scale(0.92 1)" font-size="11.2" text-anchor="end" class="k">10<tspan font-size="6.2" dy="-3.7">0</tspan></text>
<text transform="translate(39.8 183) scale(0.92 1)" font-size="11.2" class="k">10<tspan font-size="6.2" dy="-3.7">0</tspan></text>
<text transform="translate(41 136.6) scale(0.92 1)" font-size="11.2" text-anchor="end" class="k">10<tspan font-size="6.2" dy="-3.7">1</tspan></text>
<text transform="translate(74.2 183) scale(0.92 1)" font-size="11.2" class="k">10<tspan font-size="6.2" dy="-3.7">1</tspan></text>
<text transform="translate(41 102.2) scale(0.92 1)" font-size="11.2" text-anchor="end" class="k">10<tspan font-size="6.2" dy="-3.7">2</tspan></text>
<text transform="translate(108.2 183) scale(0.92 1)" font-size="11.2" class="k">10<tspan font-size="6.2" dy="-3.7">2</tspan></text>
<text transform="translate(41 67.7) scale(0.92 1)" font-size="11.2" text-anchor="end" class="k">10<tspan font-size="6.2" dy="-3.7">3</tspan></text>
<text transform="translate(142.8 183) scale(0.92 1)" font-size="11.2" class="k">10<tspan font-size="6.2" dy="-3.7">3</tspan></text>
<rect x="149.8" y="52.8" width="30.1" height="39.5" fill="none" stroke="#000" stroke-width="1.65"/>
<text x="113.7" y="75.4" font-size="14.4" class="h">15%</text>
<path d="M319 97.1h1.1M332.6 102.2h1.1M329.4 104.1h1.1M326.7 93.2h1.1M326.5 108.7h1.1M337.7 121.2h1.1M336.7 100h1.1M338.2 97.9h1.1M322.7 107.1h1.1M325.3 94.6h1.1M333.4 106.1h1.1M322.4 97.7h1.1M325 93.9h1.1M319.4 114.5h1.1M338.3 103.6h1.1M334.2 105.5h1.1M331.1 113.6h1.1M329.8 93.3h1.1M326.5 107.3h1.1M326.6 105.2h1.1M331.9 101.6h1.1M325 117.5h1.1M335.1 99h1.1M326.1 106.4h1.1M324.2 116.4h1.1M335.4 102.3h1.1M328 106.4h1.1M331.6 95.9h1.1M326.5 102.3h1.1M333.5 101.1h1.1M331.5 109.9h1.1M321.7 104.8h1.1M334.3 109.5h1.1M320.7 112.5h1.1M319 105.9h1.1M330.9 89.7h1.1M329.3 97.4h1.1M322.4 108.6h1.1M333.3 103.3h1.1M321.1 110.4h1.1M326.3 113.4h1.1M324.6 108h1.1M326.7 107h1.1M333.1 115h1.1M325.4 95h1.1M331.6 108.8h1.1M332.3 111.1h1.1M319.8 108.4h1.1M322.6 86.3h1.1M326.7 112.3h1.1M325.6 95.3h1.1M330.3 107h1.1M318.7 115.6h1.1M332.4 100.2h1.1M332.6 107.3h1.1M327.8 110.7h1.1M321.5 107.3h1.1M328.7 99.7h1.1M325.9 102.1h1.1M331.6 100.3h1.1M328.3 100h1.1M332.5 102.6h1.1M326.4 106.8h1.1M336.2 100.6h1.1M329.4 93h1.1M323.4 108.2h1.1M331.3 105.8h1.1M320.9 110.4h1.1M332.5 97.7h1.1M322.4 101.7h1.1M329.2 99.6h1.1M324 111h1.1M326.4 90.4h1.1M329.6 114.9h1.1M328.2 103.1h1.1M326.7 106.5h1.1M339.9 94.4h1.1M328.7 94.5h1.1M323.7 111.1h1.1M333.5 100.9h1.1M333 105.6h1.1M335.1 104.6h1.1M338 101.7h1.1M323.8 104.7h1.1M334.2 87.7h1.1M334.6 107.8h1.1M328.7 94.2h1.1M330 112.8h1.1M332.1 116h1.1M325.7 103.5h1.1M338 114.4h1.1M319.4 101.4h1.1M325.9 97.5h1.1M330.2 87.7h1.1M331.7 117.4h1.1M337.2 106.9h1.1M319.5 104.9h1.1M328.9 97.6h1.1M333.2 98.9h1.1M321.9 104.6h1.1M328.5 95.7h1.1M338.5 107.5h1.1M335.5 105.6h1.1M331.5 86.6h1.1M322.7 114.6h1.1M328 94.1h1.1M330.7 96.3h1.1M327.1 117.8h1.1M328.4 100.1h1.1M329.4 105.5h1.1M327.6 107.5h1.1M323.7 94.2h1.1M330 113.6h1.1M327.1 95.8h1.1M327.1 116.1h1.1M328.2 108.4h1.1M332.7 110.3h1.1M329.9 103.4h1.1M322.5 113.2h1.1M328 98.2h1.1M331.2 107.5h1.1M326.3 103.8h1.1M334.7 107.6h1.1M332.7 100h1.1M323.6 106.7h1.1M330.4 101.8h1.1M339 90.4h1.1M336.8 104.1h1.1M328.4 101.4h1.1M333.4 108.4h1.1M325.2 98.6h1.1M321.2 112.5h1.1M331.6 108.9h1.1M330 111.8h1.1M331.4 88h1.1M328.6 106.9h1.1M330.4 116.3h1.1M326 95.8h1.1M331.2 114h1.1M333 103.1h1.1M328.4 98.5h1.1M332.9 100.4h1.1M319.5 103.2h1.1M324.6 98h1.1M336.2 110.6h1.1M337.9 98.2h1.1M330 101.9h1.1M328.2 98.7h1.1M322.1 101.4h1.1M330.6 102.2h1.1M332.7 85.7h1.1M321 93.8h1.1M331.6 94.5h1.1M331.3 104.6h1.1M331 99.5h1.1M322.8 105.1h1.1M331.5 96.9h1.1M320.9 104.6h1.1M336.4 99.3h1.1M329.4 88.9h1.1M322.7 109.6h1.1M335.7 95.6h1.1M334.7 110.3h1.1M325.3 95.8h1.1M340.2 106.8h1.1M323.5 106.9h1.1M330.3 105h1.1M334.8 107.6h1.1M331.5 108.2h1.1M333.9 108.2h1.1M328.4 101.3h1.1M328.6 112.5h1.1M323.1 94.4h1.1M330.4 115.8h1.1M322.9 102.9h1.1M323.7 106.5h1.1M326.4 100.6h1.1M322.3 115h1.1M336.9 103h1.1M321.8 94.6h1.1M324.8 110.8h1.1M327.1 109.3h1.1M328.7 108h1.1M332.8 96.5h1.1M333 106.1h1.1M327.1 104.6h1.1M326.7 113.9h1.1M328.9 104.5h1.1M333 105h1.1M332.3 100h1.1M326 108.2h1.1M318 101.9h1.1M339.8 97.5h1.1M333.6 110.3h1.1M330.1 107.4h1.1M330.5 103.2h1.1M326 105.4h1.1M323.5 102.3h1.1M327 99.2h1.1M327.5 107h1.1M325.4 105.6h1.1M321.1 94.9h1.1M327.1 115.3h1.1M331.7 112.8h1.1M326.1 111.9h1.1M328.8 98.4h1.1M317.9 95.4h1.1M327.6 94.1h1.1M328.1 99.3h1.1M322.3 105.8h1.1M319.7 108.3h1.1M330.8 119.6h1.1M324.5 117.6h1.1M331.2 95.4h1.1M326.5 96.6h1.1M331.9 108.6h1.1M326.9 101.9h1.1M320.9 118.5h1.1M328.3 116.8h1.1M327 98.9h1.1M332.1 96h1.1M326.4 109.1h1.1M326.7 104.3h1.1M333.2 101.5h1.1M334.8 97.4h1.1M332.6 106.5h1.1M334.1 101.8h1.1M331.1 108.6h1.1M332.7 96.2h1.1M333.3 93.6h1.1M330.8 105h1.1M329 81.1h1.1M329.4 95.1h1.1M330.2 111.4h1.1M328.8 97.6h1.1M327.5 106.4h1.1M326.8 109.2h1.1M328.5 94.2h1.1M330 108.6h1.1M322.8 96.3h1.1M318.4 99.3h1.1M330.2 105.7h1.1M320.4 112.3h1.1M330 137.3h1.1M329.4 125.5h1.1M334.5 137h1.1M337.2 127.6h1.1M330.6 103.4h1.1M325.9 122.7h1.1M322.7 125.7h1.1M324.6 100.2h1.1M328.9 136.9h1.1M318 120.2h1.1M329.1 124.1h1.1M328.6 107.4h1.1M332 120.2h1.1M327 123.2h1.1M329.2 114.9h1.1M324.9 120.3h1.1M326.3 91.3h1.1M319.8 137.2h1.1M329.3 104.5h1.1M336.8 90.4h1.1M329.5 106.6h1.1M330.6 108.2h1.1M323.7 126.4h1.1M336.1 107.2h1.1M324.8 123h1.1M332.9 106.6h1.1M329.2 148.4h1.1M323.8 126.4h1.1M333.8 145.1h1.1M328.8 105.8h1.1M329.6 128h1.1M331.1 106.6h1.1M328.6 126.9h1.1M326.8 128.2h1.1M331.1 98.2h1.1M326.6 104.2h1.1M329 103.8h1.1M325.2 99.4h1.1M321 109.6h1.1M325.2 106.5h1.1M326.1 100.1h1.1M328.8 120.5h1.1M334.8 126.4h1.1M319.9 101.8h1.1M329.4 111.8h1.1M317.3 119.3h1.1M323.3 116.1h1.1M326.1 109.9h1.1M323.5 129.9h1.1M319.3 130.4h1.1M329.5 128.1h1.1M329.1 116.4h1.1M328.1 145.4h1.1M324.7 142.1h1.1M339.9 113.9h1.1M327.9 117.6h1.1M324.4 134.8h1.1M337.4 108.6h1.1M331.9 124.4h1.1M326.8 119.8h1.1M334.9 109.9h1.1M329.5 116.1h1.1M332 98.4h1.1M329.9 112h1.1M323.4 92.8h1.1M333.4 149.2h1.1M329.5 139h1.1M323.6 135.3h1.1M324.8 123.1h1.1M333.5 132.3h1.1M326.8 135.9h1.1M328.9 132.5h1.1M332 131.2h1.1M329.4 107.1h1.1M320.9 124.8h1.1M332 112h1.1M333.6 103.5h1.1M333.2 104h1.1M337 124.7h1.1M330.5 133h1.1M332.7 101h1.1M336.6 142.1h1.1M327.2 138.5h1.1M337.7 114h1.1M337.7 112.9h1.1M332.7 118.1h1.1M338 132h1.1M333.1 114h1.1M324.1 104.4h1.1M334.5 123.6h1.1M330.4 91.8h1.1M330.8 120.9h1.1M329.5 134.3h1.1M335.7 123.1h1.1M331.5 129.3h1.1M325.1 125.5h1.1M331.2 128.6h1.1M332.5 120.9h1.1M324.9 108.1h1.1M326.5 116h1.1M326.7 118h1.1M325.6 135.6h1.1M330.4 140.5h1.1M333.9 124.6h1.1M338.5 109.1h1.1M334.9 109.4h1.1M334 116.5h1.1M334.4 137.3h1.1M335.6 123.4h1.1M326.8 118.3h1.1M332.3 108.9h1.1M330.3 130.6h1.1M328 122.8h1.1M326.4 118.3h1.1M326.1 120.4h1.1M327.4 141.3h1.1M322.3 116.9h1.1M331.3 141.3h1.1M328.6 135.4h1.1M329.2 119.7h1.1M330.4 130.7h1.1M332.4 117.4h1.1M325.6 108.1h1.1M328.1 115.5h1.1M320.3 107h1.1M317.3 125.8h1.1M318.7 119.2h1.1M336.6 126.5h1.1M319.4 129.9h1.1M336.3 123.1h1.1M326.3 95.2h1.1M337.1 121.2h1.1M338.3 107.4h1.1M333.6 120.4h1.1M320.8 137h1.1M331.9 96.5h1.1M325 121.5h1.1M331.4 118h1.1M326.4 94h1.1M322.1 127.6h1.1M322.1 119.5h1.1M332.1 112.3h1.1M325.9 109.5h1.1M328.6 161.4h1.1M325.3 113.8h1.1M329.5 95.2h1.1M327.5 106.7h1.1M326.6 114.2h1.1M322.5 113.9h1.1M321.5 118h1.1M324.9 105.2h1.1M330.3 126.1h1.1M339.5 112.6h1.1M334.2 101h1.1M338.2 108.2h1.1M331.3 113.9h1.1M328.3 130.2h1.1M322 125.4h1.1M328.8 114.5h1.1M317.7 119.3h1.1M327.2 121.8h1.1M336.8 145.9h1.1M330.5 110.8h1.1M334.6 125.2h1.1M326.8 128.6h1.1M321.6 106.4h1.1M326.3 121.5h1.1M326.8 121.2h1.1M335.1 112.8h1.1M338.9 126.5h1.1M325.1 132.6h1.1M327 133.9h1.1M328.1 116.5h1.1M327 121.5h1.1M322.8 150h1.1M329.3 104.4h1.1M330.7 121.9h1.1M330.8 130.7h1.1M322.6 121h1.1M328.2 127.7h1.1M319.9 121.3h1.1M333.5 128.9h1.1M323.7 135.9h1.1M327.4 116.1h1.1M326.5 121.6h1.1M325.8 118.3h1.1M323.4 113.7h1.1M319.7 118.7h1.1M337.9 104.1h1.1M330.1 128.8h1.1M330.2 141.5h1.1M339.3 141.5h1.1M328.3 135.8h1.1M331.7 106.3h1.1M329 139.1h1.1M335 109.6h1.1M331.4 118.3h1.1M330.4 143.4h1.1M327.5 104.9h1.1M330.3 130.1h1.1M334.8 122.7h1.1M318.1 117h1.1M328.2 107.4h1.1M326.7 124.6h1.1M327.3 123.3h1.1M319.5 158.9h1.1M332.2 165.4h1.1M324.8 156.1h1.1M327.7 121.1h1.1M326.3 123.7h1.1M320.3 119.1h1.1M326.6 134.7h1.1M320.1 156.7h1.1M324 123.2h1.1M327.3 141h1.1M328.8 115.7h1.1M329.1 152.8h1.1M328.2 119.9h1.1M338.9 158.4h1.1M331 149.5h1.1M322.6 126.1h1.1M325.9 153.8h1.1M325.6 135.6h1.1M328 145h1.1M325.9 146.7h1.1M324.5 131.1h1.1M337.1 139.3h1.1M329.1 158h1.1M327.3 161.7h1.1M327.7 161h1.1M327.8 147.3h1.1M335.3 162.1h1.1M331.3 122.9h1.1M320.3 115.8h1.1M330.4 163.4h1.1M333.9 158.3h1.1M338.8 137.8h1.1M329 158.2h1.1M331.9 124.4h1.1M326 151.4h1.1M319.6 111.7h1.1M325.9 152.1h1.1M334.3 117.1h1.1M334.7 152.3h1.1M332.6 114.2h1.1M323.6 138.6h1.1M334.5 161.8h1.1M323 133.1h1.1M321.7 142.2h1.1M335.6 125.6h1.1M330.9 165.1h1.1M333.4 123.9h1.1M329.3 148.6h1.1M328.6 165.4h1.1M329.7 165.3h1.1M319.6 146.6h1.1M334 127.5h1.1M333.4 143.8h1.1M326.9 132.3h1.1M328.8 133.6h1.1M330.4 133.8h1.1M336.9 126.8h1.1M331.1 115.2h1.1M329.1 156.3h1.1M326.3 112.8h1.1M321.1 95.1h1.1M325.8 105.2h1.1M329.3 86.8h1.1M327.6 85.3h1.1M332.8 91.2h1.1M331.2 95.9h1.1M330.4 87.4h1.1M332.3 98.4h1.1M329.9 89.6h1.1M328.8 100.9h1.1M331.4 91.9h1.1M320 81.4h1.1M335.5 84.6h1.1M329 91.4h1.1M334.7 96h1.1M329.1 104.3h1.1M324 89h1.1M334.5 87.6h1.1M329.9 81h1.1M329.6 96.9h1.1M329.4 92.4h1.1M334.2 84.9h1.1M333.2 94.6h1.1M330.2 93.7h1.1" stroke="#000" stroke-opacity="1.0" stroke-width="1.1" fill="none"/>
<rect x="211.7" y="29.6" width="137.8" height="137.6" fill="none" stroke="#000" stroke-width="1.6"/>
<path d="M207.5 167.2H211.7M211.7 167.2V171.3M209.4 156.8H211.7M222.1 167.2V169.5M209.4 150.7H211.7M228.1 167.2V169.5M209.4 146.4H211.7M232.4 167.2V169.5M208.1 143.1H211.7M235.8 167.2V170.8M209.4 140.4H211.7M238.5 167.2V169.5M209.4 138.1H211.7M240.8 167.2V169.5M209.4 136.1H211.7M242.8 167.2V169.5M209.4 134.3H211.7M244.6 167.2V169.5M207.5 132.8H211.7M246.1 167.2V171.3M209.4 122.4H211.7M256.5 167.2V169.5M209.4 116.4H211.7M262.6 167.2V169.5M209.4 112.1H211.7M266.9 167.2V169.5M208.1 108.7H211.7M270.2 167.2V170.8M209.4 106H211.7M272.9 167.2V169.5M209.4 103.7H211.7M275.2 167.2V169.5M209.4 101.7H211.7M277.2 167.2V169.5M209.4 99.9H211.7M279 167.2V169.5M207.5 98.4H211.7M280.6 167.2V171.3M209.4 88H211.7M290.9 167.2V169.5M209.4 82H211.7M297 167.2V169.5M209.4 77.7H211.7M301.3 167.2V169.5M208.1 74.3H211.7M304.6 167.2V170.8M209.4 71.6H211.7M307.4 167.2V169.5M209.4 69.3H211.7M309.7 167.2V169.5M209.4 67.3H211.7M311.7 167.2V169.5M209.4 65.6H211.7M313.4 167.2V169.5M207.5 64H211.7M315 167.2V171.3M209.4 53.6H211.7M325.4 167.2V169.5M209.4 47.6H211.7M331.4 167.2V169.5M209.4 43.3H211.7M335.7 167.2V169.5M208.1 40H211.7M339.1 167.2V170.8M209.4 37.2H211.7M341.8 167.2V169.5M209.4 34.9H211.7M344.1 167.2V169.5M209.4 32.9H211.7M346.1 167.2V169.5M209.4 31.2H211.7M347.9 167.2V169.5" stroke="#000" stroke-width="1.1" fill="none"/>
<text transform="translate(206.6 171.1) scale(0.92 1)" font-size="11.2" text-anchor="end" class="k">10<tspan font-size="6.2" dy="-3.7">0</tspan></text>
<text transform="translate(203.4 183) scale(0.92 1)" font-size="11.2" class="k">10<tspan font-size="6.2" dy="-3.7">0</tspan></text>
<text transform="translate(206.6 136.6) scale(0.92 1)" font-size="11.2" text-anchor="end" class="k">10<tspan font-size="6.2" dy="-3.7">1</tspan></text>
<text transform="translate(237.5 183) scale(0.92 1)" font-size="11.2" class="k">10<tspan font-size="6.2" dy="-3.7">1</tspan></text>
<text transform="translate(206.6 102.2) scale(0.92 1)" font-size="11.2" text-anchor="end" class="k">10<tspan font-size="6.2" dy="-3.7">2</tspan></text>
<text transform="translate(271.8 183) scale(0.92 1)" font-size="11.2" class="k">10<tspan font-size="6.2" dy="-3.7">2</tspan></text>
<text transform="translate(206.6 67.7) scale(0.92 1)" font-size="11.2" text-anchor="end" class="k">10<tspan font-size="6.2" dy="-3.7">3</tspan></text>
<text transform="translate(308.2 183) scale(0.92 1)" font-size="11.2" class="k">10<tspan font-size="6.2" dy="-3.7">3</tspan></text>
<rect x="313.1" y="53.6" width="30.1" height="39.2" fill="none" stroke="#000" stroke-width="1.65"/>
<text x="274.7" y="77.6" font-size="14.4" class="h">6.5%</text>
<path d="M500.3 97.8h1.1M495.8 106.5h1.1M495.4 106.1h1.1M499.1 112.5h1.1M492.6 108.5h1.1M497 103.7h1.1M498.9 110.2h1.1M494.2 112.5h1.1M494 104.7h1.1M497.7 108.4h1.1M496.5 113.2h1.1M496 108.5h1.1M497.6 103.2h1.1M497.6 99.6h1.1M493.6 100.8h1.1M494.5 104.1h1.1M498.4 100.5h1.1M500.8 100.1h1.1M501.6 115.8h1.1M493.9 109h1.1M500.7 101.2h1.1M499.5 120.5h1.1M496.8 108.4h1.1M498.6 106.9h1.1M499.8 111.8h1.1M503.1 111h1.1M493.2 106.9h1.1M499 114.4h1.1M496.4 107.4h1.1M496.2 100.5h1.1M500.9 104.3h1.1M499.7 104.9h1.1M493.4 101.2h1.1M495.9 112.8h1.1M497.7 116.4h1.1M492 103.1h1.1M499.9 103.5h1.1M496.6 114.6h1.1M497.5 105.7h1.1M498.1 105.6h1.1M503.2 110.5h1.1M497 112.8h1.1M495.7 113.3h1.1M502.9 104h1.1M495.2 103.3h1.1M495.1 107.8h1.1M492.1 104.7h1.1M500.6 106.1h1.1M497.8 100.4h1.1M498.5 97.9h1.1M497.5 106.1h1.1M496.4 106.9h1.1M494.2 105.1h1.1M494.2 113.5h1.1M498.4 107.8h1.1M497.3 104.3h1.1M502.5 105.9h1.1M494.3 99.3h1.1M495.2 91.3h1.1M493.4 111.2h1.1M501.7 98.4h1.1M492.6 99.1h1.1M499.6 100.5h1.1M501.9 115.8h1.1M496.4 103.1h1.1M499.4 103.4h1.1M489.5 103.7h1.1M495.6 100.7h1.1M491.2 93.2h1.1M497.5 115.4h1.1M496.9 114.4h1.1M494.2 105.7h1.1M500.2 116.7h1.1M498.1 106h1.1M495.1 104.7h1.1M495.1 103.6h1.1M491.8 101.8h1.1M496.3 107.8h1.1M504.2 101h1.1M494.5 119.4h1.1M498.4 102.1h1.1M495 109.3h1.1M499.7 107.2h1.1M498.4 103.1h1.1M496.1 104.4h1.1M490.7 108.4h1.1M495.1 108.5h1.1M501.1 97.1h1.1M496.1 100.9h1.1M499.1 110h1.1M495.2 105.7h1.1M490.5 105.1h1.1M498.4 104.6h1.1M498 103.4h1.1M494.9 105.8h1.1M495.6 109.8h1.1M497.9 110.1h1.1M494.9 102.9h1.1M498.1 107.5h1.1M496.2 108.9h1.1M495.7 109.1h1.1M496.4 111.3h1.1M494.9 108.2h1.1M494 118.5h1.1M498.3 106h1.1M495.2 110.2h1.1M498.8 101.2h1.1M500.7 92.4h1.1M497.4 107.3h1.1M491.6 105.6h1.1M494.4 95.8h1.1M500.1 96.7h1.1M496 104.9h1.1M494.1 102.2h1.1M496.6 105.1h1.1M498.7 116.7h1.1M497.8 106.4h1.1M499.2 109.3h1.1M494.1 104.8h1.1M496 98.3h1.1M496.1 117.8h1.1M496.9 94.6h1.1M489.7 102h1.1M496.1 110.4h1.1M492.3 104h1.1M501.7 108.3h1.1M502.3 95.3h1.1M502.7 103.9h1.1M499.7 113.9h1.1M495.3 111.6h1.1M500.2 114.3h1.1M496.2 109.8h1.1M499 115.3h1.1M493.8 106h1.1M494.9 101.3h1.1M498.5 109.9h1.1M503.1 109.4h1.1M496.8 101.6h1.1M504.7 106.5h1.1M504.2 106.6h1.1M492.5 96.9h1.1M496.8 108.8h1.1M493.6 96h1.1M496.5 114.7h1.1M495.1 97.1h1.1M496.7 118.3h1.1M500.3 120.9h1.1M500.2 116.3h1.1M497.8 105.6h1.1M497 100h1.1M497.4 114.2h1.1M497.4 108.8h1.1M498.9 103.8h1.1M497 101.8h1.1M498.7 117.4h1.1M492.4 103.2h1.1M499.7 103.2h1.1M503 100.2h1.1M497.6 103h1.1M492.1 114.6h1.1M501.6 104.5h1.1M495.8 98.4h1.1M492.1 106.2h1.1M496.2 102.2h1.1M499 118.7h1.1M498.3 93.2h1.1M501.2 107.6h1.1M499.1 115.4h1.1M497.4 95.4h1.1M490.1 102h1.1M493.1 116.8h1.1M497.6 106.9h1.1M499.3 99.2h1.1M493.4 109.3h1.1M494.8 101.9h1.1M498.6 111.7h1.1M490.3 110.2h1.1M490.3 122.6h1.1M496.2 131h1.1M497.8 122.9h1.1M495.3 96h1.1M490.4 126.4h1.1M497 120.1h1.1M492.4 109.8h1.1M499.2 134.3h1.1M496.6 100.8h1.1M497.8 139.4h1.1M499.2 112.7h1.1M495.2 136.2h1.1M499.8 119h1.1M501.3 105.2h1.1M498.3 120.4h1.1M501.5 123h1.1M494.8 125.2h1.1M500.1 130.8h1.1M497.9 109.8h1.1M493.6 124.7h1.1M496.7 127.3h1.1M495.1 116.5h1.1M495 109.4h1.1M497.3 109.2h1.1M500.6 127.4h1.1M495.9 127.9h1.1M497.4 110.6h1.1M491.9 105.1h1.1M497.3 132.6h1.1M501 102.8h1.1M499.7 121.1h1.1M498.6 110.8h1.1M495.1 100.7h1.1M493.6 120.7h1.1M496.6 117.4h1.1M492.4 134.8h1.1M492.9 143.7h1.1M500.2 117.4h1.1M493.8 130.4h1.1M503.1 130.6h1.1M492 113.8h1.1M498.5 110.1h1.1M493 136.6h1.1M497.6 115.5h1.1M493.4 119.1h1.1M497.1 116.3h1.1M496.4 118h1.1M495.4 113h1.1M498.7 127.4h1.1M502.1 132.8h1.1M494.9 115.4h1.1M500 104.7h1.1M497.3 119.9h1.1M496.9 103.5h1.1M504.6 112.6h1.1M489.6 132.5h1.1M494.7 144.2h1.1M490.7 123.4h1.1M495.9 108h1.1M496.2 127.7h1.1M496.8 95.4h1.1M498.2 112h1.1M503 135.7h1.1M501.4 127.4h1.1M495.4 104.7h1.1M498.6 101.6h1.1M502.7 128.5h1.1M497.6 118.9h1.1M497.7 113.1h1.1M498.7 123.8h1.1M491.8 113.3h1.1M494.1 98.9h1.1M498.1 128h1.1M498.8 112.5h1.1M493.8 108.7h1.1M495.8 105.2h1.1M496.5 122.1h1.1M496.4 110.8h1.1M499.3 126.1h1.1M497.3 116.5h1.1M497.5 130.9h1.1M492.1 115.3h1.1M493.3 112.4h1.1M498.1 98.4h1.1M491.4 107.7h1.1M497.9 127.1h1.1M494.8 152h1.1M494.1 106h1.1M499.2 108.3h1.1M494.6 123h1.1M494 124.5h1.1M494.8 155h1.1M497.1 144.9h1.1M498.8 155.9h1.1M489.7 125h1.1M496.9 159.8h1.1M499.9 163.6h1.1M495.8 159.6h1.1M495.3 140h1.1M501 165h1.1M493.4 147.9h1.1M496.7 129.4h1.1M492.4 146.9h1.1M493.5 161.4h1.1M495.3 153.4h1.1M499.6 160.6h1.1M499.8 117.2h1.1M498.5 164.6h1.1M495.7 144.9h1.1M497.3 164.6h1.1M497.4 127.4h1.1M499 137.8h1.1M494.8 126.6h1.1M496.5 153.1h1.1M497.6 164.4h1.1M497.2 165h1.1M494.2 120.7h1.1M502.4 157.6h1.1M495.4 147.7h1.1M499.5 129.8h1.1M497.5 163.4h1.1M500.9 146.2h1.1M489.3 117.8h1.1M503.8 138.4h1.1M496.2 153.6h1.1M493.1 161.4h1.1M497.3 128.5h1.1M504.3 149.3h1.1M498.6 121.2h1.1M493.1 164.1h1.1M495.3 114.8h1.1M492.3 148h1.1M496.3 156.9h1.1M496 153h1.1M504.4 95.6h1.1M495.9 91.4h1.1M501.5 89.5h1.1M494.5 100h1.1M494.1 103.6h1.1M500.4 93.9h1.1M499.1 98.5h1.1M490.9 104.2h1.1M499.1 90.6h1.1M499.1 93.6h1.1M494.8 88.8h1.1M497.7 102.9h1.1M497.8 97.3h1.1M495.2 92.9h1.1M494.6 94.6h1.1" stroke="#000" stroke-opacity="1.0" stroke-width="1.1" fill="none"/>
<rect x="377.7" y="29.6" width="137.8" height="137.6" fill="none" stroke="#000" stroke-width="1.6"/>
<path d="M373.5 167.2H377.7M377.7 167.2V171.3M375.4 156.8H377.7M388.1 167.2V169.5M375.4 150.7H377.7M394.1 167.2V169.5M375.4 146.4H377.7M398.4 167.2V169.5M374.1 143.1H377.7M401.8 167.2V170.8M375.4 140.4H377.7M404.5 167.2V169.5M375.4 138.1H377.7M406.8 167.2V169.5M375.4 136.1H377.7M408.8 167.2V169.5M375.4 134.3H377.7M410.6 167.2V169.5M373.5 132.8H377.7M412.1 167.2V171.3M375.4 122.4H377.7M422.5 167.2V169.5M375.4 116.4H377.7M428.6 167.2V169.5M375.4 112.1H377.7M432.9 167.2V169.5M374.1 108.7H377.7M436.2 167.2V170.8M375.4 106H377.7M438.9 167.2V169.5M375.4 103.7H377.7M441.2 167.2V169.5M375.4 101.7H377.7M443.2 167.2V169.5M375.4 99.9H377.7M445 167.2V169.5M373.5 98.4H377.7M446.6 167.2V171.3M375.4 88H377.7M456.9 167.2V169.5M375.4 82H377.7M463 167.2V169.5M375.4 77.7H377.7M467.3 167.2V169.5M374.1 74.3H377.7M470.6 167.2V170.8M375.4 71.6H377.7M473.4 167.2V169.5M375.4 69.3H377.7M475.7 167.2V169.5M375.4 67.3H377.7M477.7 167.2V169.5M375.4 65.6H377.7M479.4 167.2V169.5M373.5 64H377.7M481 167.2V171.3M375.4 53.6H377.7M491.4 167.2V169.5M375.4 47.6H377.7M497.4 167.2V169.5M375.4 43.3H377.7M501.7 167.2V169.5M374.1 40H377.7M505.1 167.2V170.8M375.4 37.2H377.7M507.8 167.2V169.5M375.4 34.9H377.7M510.1 167.2V169.5M375.4 32.9H377.7M512.1 167.2V169.5M375.4 31.2H377.7M513.9 167.2V169.5" stroke="#000" stroke-width="1.1" fill="none"/>
<text transform="translate(372.1 171.1) scale(0.92 1)" font-size="11.2" text-anchor="end" class="k">10<tspan font-size="6.2" dy="-3.7">0</tspan></text>
<text transform="translate(370.9 183) scale(0.92 1)" font-size="11.2" class="k">10<tspan font-size="6.2" dy="-3.7">0</tspan></text>
<text transform="translate(372.1 136.6) scale(0.92 1)" font-size="11.2" text-anchor="end" class="k">10<tspan font-size="6.2" dy="-3.7">1</tspan></text>
<text transform="translate(404.7 183) scale(0.92 1)" font-size="11.2" class="k">10<tspan font-size="6.2" dy="-3.7">1</tspan></text>
<text transform="translate(372.1 102.2) scale(0.92 1)" font-size="11.2" text-anchor="end" class="k">10<tspan font-size="6.2" dy="-3.7">2</tspan></text>
<text transform="translate(437.8 183) scale(0.92 1)" font-size="11.2" class="k">10<tspan font-size="6.2" dy="-3.7">2</tspan></text>
<text transform="translate(372.1 67.7) scale(0.92 1)" font-size="11.2" text-anchor="end" class="k">10<tspan font-size="6.2" dy="-3.7">3</tspan></text>
<text transform="translate(474.2 183) scale(0.92 1)" font-size="11.2" class="k">10<tspan font-size="6.2" dy="-3.7">3</tspan></text>
<rect x="478.8" y="56" width="29.9" height="39.2" fill="none" stroke="#000" stroke-width="1.65"/>
<text x="437.5" y="77.6" font-size="14.4" class="h">0.2%</text>
<line x1="46.2" y1="195.8" x2="261" y2="195.8" stroke="#111" stroke-width="1.0"/>
<line x1="302.5" y1="195.8" x2="515.7" y2="195.8" stroke="#111" stroke-width="1.0"/>
<text x="283.8" y="200.7" font-size="14" text-anchor="middle" class="h">CD4</text>
<path d="M159.1 274.7h1.1M159.1 286.1h1.1M161.8 287.2h1.1M150.8 285.5h1.1M151.9 286.8h1.1M163 289.4h1.1M157 283.1h1.1M165.1 282.2h1.1M160.6 288.4h1.1M152.3 288.2h1.1M161.8 283.5h1.1M154.2 295.1h1.1M160.4 286.3h1.1M165.1 280.6h1.1M169.4 282.5h1.1M158.8 288.4h1.1M162.6 283h1.1M160.5 294.3h1.1M163 288.6h1.1M150.4 282h1.1M157.3 289.5h1.1M160.4 295.3h1.1M161.5 284.1h1.1M155.5 289.5h1.1M163.1 292.2h1.1M164.4 293.1h1.1M159.5 288.2h1.1M158 292.8h1.1M157.4 292.3h1.1M159.8 288.7h1.1M164.9 279.6h1.1M166.4 286.3h1.1M156.9 278.7h1.1M154.6 289.6h1.1M155.3 287.3h1.1M164 283.3h1.1M160.2 290.2h1.1M160.5 292.6h1.1M161.5 279.9h1.1M161 287h1.1M158.4 296.1h1.1M154.2 285h1.1M156.2 289.4h1.1M159.7 289.9h1.1M161.1 281.6h1.1M157.4 283.8h1.1M157.1 290.6h1.1M165.8 284.8h1.1M156.9 273.6h1.1M160.2 288.4h1.1M157.6 290.7h1.1M155.1 281.5h1.1M151.8 289.6h1.1M156.6 278.9h1.1M155.2 281.5h1.1M163.2 293.3h1.1M153.5 293.8h1.1M157.2 285.8h1.1M162.3 283.4h1.1M158.7 281.6h1.1M161.6 285.8h1.1M163.1 292.7h1.1M151.2 280.4h1.1M157.2 285h1.1M154.6 272.1h1.1M165.7 283.7h1.1M158.6 285.2h1.1M161.5 289.4h1.1M167.3 292.1h1.1M157.4 289.8h1.1M159.5 287.4h1.1M161.1 289.4h1.1M157.8 293.1h1.1M165.2 286.3h1.1M163.1 287.8h1.1M164 283.1h1.1M159.3 296.7h1.1M157.5 279.4h1.1M157.5 284.1h1.1M157.4 279h1.1M151.3 278.2h1.1M160.9 289.8h1.1M163 290.1h1.1M159.1 290h1.1M156.8 288.4h1.1M159.3 292.3h1.1M160.3 275.7h1.1M160.7 288.8h1.1M167.6 297.9h1.1M154.9 298.1h1.1M160.9 281.4h1.1M162.5 280h1.1M159.6 285.5h1.1M158 287.5h1.1M154.3 279.8h1.1M156.3 285.3h1.1M162.6 282.7h1.1M166.1 281.4h1.1M156 288.4h1.1M161.4 288.3h1.1M161.7 283.8h1.1M163.9 293.6h1.1M160.4 285.5h1.1M161.3 286.2h1.1M163.5 283.4h1.1M153.6 281.8h1.1M159.4 277.9h1.1M150.8 285h1.1M149.8 285.8h1.1M155.2 291h1.1M151.8 287.2h1.1M161.6 272.9h1.1M163.9 284.2h1.1M157.6 290.6h1.1M158.5 275h1.1M158.1 282.1h1.1M157.9 284.2h1.1M159.8 286.3h1.1M160.8 281.8h1.1M156.9 290h1.1M155.4 279.5h1.1M156.7 276.9h1.1M163 278.1h1.1M157.1 289.7h1.1M166 289.3h1.1M158 278.3h1.1M165.7 268.2h1.1M153.4 290.9h1.1M155.9 279.2h1.1M161.4 288h1.1M161.5 282.8h1.1M158.4 290.3h1.1M168.8 277.6h1.1M159.5 285.1h1.1M160.5 290.2h1.1M156.5 284.1h1.1M167 274.8h1.1M163.2 276.7h1.1M161.1 288.5h1.1M151.3 295.1h1.1M160.9 281.4h1.1M156.9 288.8h1.1M161 286.5h1.1M163.5 287.3h1.1M155.6 286.3h1.1M160.2 281.4h1.1M163.3 285.6h1.1M159.9 283h1.1M157.6 288.2h1.1M154.1 287.9h1.1M156 275.5h1.1M153.2 284.1h1.1M163.8 281.8h1.1M159.6 285.7h1.1M153.3 294.4h1.1M159.1 284.5h1.1M153 289.1h1.1M165.5 290.5h1.1M164.9 280.6h1.1M164.7 284h1.1M152.2 287.3h1.1M155.8 280h1.1M160.1 280.3h1.1M157.2 293.7h1.1M155 293.4h1.1M156.7 284.3h1.1M157.9 291.2h1.1M156.5 288.9h1.1M160.1 290.6h1.1M157.9 299.1h1.1M155.5 292h1.1M159.3 282.7h1.1M151.3 285.1h1.1M165.9 289.4h1.1M150.9 285.3h1.1M158.7 279.2h1.1M160.7 287.6h1.1M161.1 277.5h1.1M160.4 277h1.1M165.1 282.4h1.1M153.8 283.1h1.1M158.8 282.2h1.1M159.8 272.3h1.1M156.7 292h1.1M156.3 286.9h1.1M165.1 288.9h1.1M155.8 283.4h1.1M156.8 287.9h1.1M157.8 279.5h1.1M158 294.4h1.1M159.9 282.8h1.1M158.1 290.9h1.1M160.7 294.5h1.1M159.7 288h1.1M161.4 287.5h1.1M165.6 280h1.1M155 293.8h1.1M166.9 279.8h1.1M157 284h1.1M162.1 292.3h1.1M159.9 286.6h1.1M157.7 284.7h1.1M149.9 286h1.1M166.7 280.6h1.1M155.4 294.7h1.1M155.3 293.2h1.1M164.1 284.7h1.1M159.5 282h1.1M168 282.6h1.1M166.9 292.1h1.1M162.3 291.9h1.1M160.2 291.5h1.1M162.7 283.4h1.1M152.9 278.7h1.1M159.9 285.7h1.1M159.6 296.6h1.1M156.7 296.2h1.1M160.3 283.4h1.1M152.3 282.9h1.1M163.3 282.7h1.1M165.1 289.1h1.1M153 283.7h1.1M159.7 290.3h1.1M166.3 281.9h1.1M161 288.2h1.1M154.3 273.3h1.1M154.5 287.4h1.1M163.1 287.6h1.1M167.7 270.6h1.1M153.9 291.1h1.1M159.3 284.7h1.1M155.5 277.9h1.1M157.8 284.2h1.1M160.4 293.1h1.1M158.9 285.3h1.1M155.8 294.2h1.1M168.9 279.4h1.1M158.4 280.1h1.1M158.1 294.1h1.1M164.3 287.1h1.1M159 293.1h1.1M158.1 274.2h1.1M163.5 282.2h1.1M154.3 273.7h1.1M162.6 285.9h1.1M163.9 282.2h1.1M162.2 274.3h1.1M158.3 283.4h1.1M159.1 281.6h1.1M150.9 297.9h1.1M158.3 295.3h1.1M160.4 284.7h1.1M163.1 287.5h1.1M159.8 283h1.1M157.3 278h1.1M155.2 278.7h1.1M158.9 286.5h1.1M159.7 274.5h1.1M164.7 282.1h1.1M159.1 278.7h1.1M156.8 284.4h1.1M158.5 289.4h1.1M156.8 287.1h1.1M158 282h1.1M148.8 282.6h1.1M151.6 288.3h1.1M153.5 281.2h1.1M161.3 274.7h1.1M158.7 286.8h1.1M159.8 286.5h1.1M164.5 284h1.1M154.1 292.9h1.1M164.4 281.9h1.1M160.7 298.7h1.1M155.7 286.8h1.1M166 273.9h1.1M152.5 276.5h1.1M153.8 290.6h1.1M158 291h1.1M161 285.7h1.1M158.2 286.6h1.1M149.1 291.6h1.1M157.7 281.8h1.1M158.7 284.3h1.1M154.8 282.7h1.1M165.5 280.4h1.1M159.7 277.3h1.1M153.9 290.1h1.1M160.7 284h1.1M153.7 276.1h1.1M159.9 292.6h1.1M160.6 295.1h1.1M157.2 284.1h1.1M160.2 289.5h1.1M157.5 288h1.1M156.4 286.7h1.1M166.2 285.9h1.1M161.8 283.3h1.1M157.6 286.6h1.1M155.5 288.6h1.1M159.8 290.3h1.1M161.6 290.9h1.1M163 286.1h1.1M165.9 288.6h1.1M161.2 281.6h1.1M153.9 286h1.1M168.5 283.6h1.1M164.5 279.8h1.1M162.9 283.8h1.1M165.3 281.1h1.1M152.2 283.3h1.1M157.3 283.4h1.1M156.7 285.7h1.1M164.4 294.4h1.1M153.5 296.1h1.1M157.6 286.8h1.1M166.1 288.2h1.1M162.1 282.3h1.1M157.3 280.9h1.1M167.8 285.5h1.1M152.9 277.2h1.1M161.2 273.8h1.1M158 276.2h1.1M161.4 282.2h1.1M157.6 295h1.1M155.2 283.5h1.1M160 288h1.1M152.9 289.1h1.1M161.5 282.1h1.1M157.6 279.5h1.1M163.3 284.5h1.1M156.9 290.7h1.1M155.9 269.5h1.1M160.9 287.6h1.1M164.7 290h1.1M149.5 269.9h1.1M159.5 290.9h1.1M161.9 287.6h1.1M152.5 284.6h1.1M154.9 287.5h1.1M162 288.9h1.1M155.2 280.2h1.1M156.1 282.9h1.1M167 284.3h1.1M154.6 289.6h1.1M154.9 297.5h1.1M165.9 277.6h1.1M153.9 289.5h1.1M153.2 292.7h1.1M166.9 291.9h1.1M164.7 287.2h1.1M153.2 282.3h1.1M168.1 291.7h1.1M162.5 291.4h1.1M158.2 280.6h1.1M162.8 273h1.1M160.8 285.1h1.1M155.5 283.9h1.1M150.9 288h1.1M154.8 280.9h1.1M159 275.4h1.1M157.3 291h1.1M155.5 291.4h1.1M163.6 279.9h1.1M154.1 286.5h1.1M163 293.2h1.1M156.8 287.6h1.1M159.5 282.7h1.1M153.8 282.9h1.1M159 282h1.1M155.4 288.2h1.1M150.9 292.7h1.1M158.9 283.4h1.1M158.8 284.1h1.1M162.7 295.8h1.1M160.4 279.1h1.1M154.3 281h1.1M156.1 289.3h1.1M152.1 272.3h1.1M153.8 288h1.1M165 273.8h1.1M166.1 282.3h1.1M162.6 277.4h1.1M160.4 275.6h1.1M161.8 280.3h1.1M161.3 280.6h1.1M151 281.5h1.1M154.9 288.2h1.1M164.5 286.1h1.1M164.4 294.3h1.1M160.1 282.8h1.1M157.6 278.6h1.1M157.2 280.7h1.1M156.2 304.8h1.1M154.6 298.8h1.1M150.1 284.3h1.1M159.7 283.2h1.1M156.9 284.7h1.1M158 286.5h1.1M166.8 297.3h1.1M161.8 285.3h1.1M155.8 284.9h1.1M161.6 294.8h1.1M152 277.1h1.1M163.9 282.2h1.1M160.2 281.2h1.1M158.1 285.8h1.1M161.7 287.2h1.1M165.8 280.5h1.1M156.9 282.6h1.1M154.4 287.8h1.1M168.8 290.5h1.1M159.1 283h1.1M165.9 287.1h1.1M155.9 278.5h1.1M160.7 293h1.1M156 281.8h1.1M161.9 287.8h1.1M157.7 285.7h1.1M155.9 278.8h1.1M166.2 289.5h1.1M160.5 290.1h1.1M149.6 276.4h1.1M157.9 288.3h1.1M154.8 272.8h1.1M153.3 292.1h1.1M156.3 279.8h1.1M156.8 281.2h1.1M159.2 285.1h1.1M155.3 280.7h1.1M150.3 289h1.1M156.5 284.7h1.1M163 290.4h1.1M152.6 292.7h1.1M161.9 281.7h1.1M161.2 280.4h1.1M156.8 296.2h1.1M160.5 279.7h1.1M155.5 286.9h1.1M157.1 283.1h1.1M154.3 275.5h1.1M161.2 282.3h1.1M165.4 285.5h1.1M155.8 274.6h1.1M164.6 286.2h1.1M149 290.7h1.1M154.8 293.1h1.1M154.3 285.7h1.1M167 280.7h1.1M156.2 291.5h1.1M162.6 290.1h1.1M149.4 283.2h1.1M159.5 279.5h1.1M161.6 289.6h1.1M158.7 296.1h1.1M149.4 297h1.1M159.8 279.6h1.1M162.8 278.5h1.1M165.2 283.6h1.1M160.8 289.5h1.1M151.1 279.9h1.1M158 285.5h1.1M163.2 283.6h1.1M155.2 278.7h1.1M161.6 270.1h1.1M156.8 282.5h1.1M159.4 286h1.1M162.5 290.1h1.1M155.7 274h1.1M166 288.4h1.1M159.7 278.1h1.1M160.5 289.8h1.1M155.5 281.1h1.1M159.3 285.8h1.1M157.6 293.8h1.1M152.2 284.4h1.1M151.8 278.6h1.1M160.2 294.7h1.1M158.5 288.8h1.1M166.7 285.9h1.1M148.8 292.2h1.1M157.4 295.2h1.1M158.6 293.2h1.1M161.8 290.5h1.1M153.2 285.6h1.1M161.8 283.9h1.1M157.6 278.5h1.1M156.6 280.4h1.1M158.3 285.9h1.1M163.6 281.4h1.1M161.6 282.2h1.1M163.2 286.6h1.1M155.7 289.3h1.1M157.7 272.3h1.1M153.5 288.6h1.1M156.4 283h1.1M157.1 281.8h1.1M156.8 288.6h1.1M162.3 287.1h1.1M161 280h1.1M162.6 279.3h1.1M159.6 279.9h1.1M164 283.5h1.1M159.4 295h1.1M163.5 286.4h1.1M161.4 283h1.1M162.5 285.3h1.1M158.7 279.1h1.1M153.2 286.4h1.1M152.2 271.7h1.1M168.2 270.6h1.1M160.7 293.5h1.1M161 291.4h1.1M158.2 282.2h1.1M156.8 287.1h1.1M158.8 287.7h1.1M153.7 280.6h1.1M158.7 283.8h1.1M158.7 286.8h1.1M153.7 286.4h1.1M153 284h1.1M155.6 288.9h1.1M157.3 289.1h1.1M156.7 282.9h1.1M162.8 276.2h1.1M153.5 285h1.1M160.9 287.4h1.1M165.9 273.4h1.1M163 295.1h1.1M153.6 276.7h1.1M167.1 287.9h1.1M163 281.7h1.1M161.3 280.1h1.1M156.1 296.1h1.1M164.9 291.4h1.1M157.1 285.9h1.1M159.5 285.4h1.1M154.1 279.9h1.1M160.4 292.4h1.1M156.9 290.3h1.1M156.6 282h1.1M163.9 294.2h1.1M159.9 290.5h1.1M151.9 293.2h1.1M162.3 284.3h1.1M162.9 283.5h1.1M155.1 286.4h1.1M157.1 288.3h1.1M159.3 277.5h1.1M157.8 282.6h1.1M159.6 283.4h1.1M162 286.5h1.1M156.7 285h1.1M168.5 300.8h1.1M155.6 287.4h1.1M156.4 292.5h1.1M168.3 285.1h1.1M150.9 268.4h1.1M159.2 279.8h1.1M158 292.2h1.1M154 275.7h1.1M164.2 295.1h1.1M159.8 286.1h1.1M155 286.2h1.1M160.9 285h1.1M165.4 274.8h1.1M162.2 288.7h1.1M169.4 280.5h1.1M164.5 285.2h1.1M161 291.5h1.1M158.7 297h1.1M161.5 290.7h1.1M164.7 282.9h1.1M163 282.9h1.1M163.9 287.9h1.1M160 288.4h1.1M162.4 296.9h1.1M164.6 291.5h1.1M158.2 286.6h1.1M152.9 288h1.1M166.9 295.5h1.1M161.7 272.3h1.1M156.9 283.2h1.1M160.1 283.2h1.1M157.8 288.2h1.1M151 281.9h1.1M158.1 284.4h1.1M152.3 281.7h1.1M159.9 289.1h1.1M158.5 276.8h1.1M164.3 278.1h1.1M158.4 289.9h1.1M160.7 288.8h1.1M157.5 288.9h1.1M157.2 279.8h1.1M152.4 278.7h1.1M163.4 301.6h1.1M159.7 292.2h1.1M156.3 280.9h1.1M159.9 288h1.1M156.9 296.1h1.1M155.6 285.4h1.1M160.2 277.1h1.1M164.7 288.3h1.1M157.7 286.8h1.1M152.3 279.4h1.1M156.1 277.2h1.1M167.4 280.6h1.1M155.2 282.6h1.1M164.6 282.3h1.1M157.8 291.6h1.1M162.5 274h1.1M158.5 277.7h1.1M151.6 285.6h1.1M156.9 293.9h1.1M168.9 289h1.1M158.3 289.4h1.1M161.7 270.3h1.1M157.4 279.6h1.1M158.4 280.9h1.1M160.5 285.1h1.1M161.2 280h1.1M169.4 286.8h1.1M158.9 282.7h1.1M158 296.5h1.1M155.8 288.8h1.1M152.8 284.7h1.1M151.4 279h1.1M162.1 282.6h1.1M150.2 287.1h1.1M165.6 286.1h1.1M163 284.3h1.1M157.5 293.2h1.1M153.5 289.2h1.1M159.1 285.1h1.1M159.1 288.3h1.1M164.2 290h1.1M155.5 286h1.1M157.2 280h1.1M158.8 278.6h1.1M157.7 287.6h1.1M156.1 287.2h1.1M150.8 295.6h1.1M151.3 276.5h1.1M155.8 284.9h1.1M157.9 288.5h1.1M163.5 295.2h1.1M152.1 284.4h1.1M167.1 280.8h1.1M160.7 294.1h1.1M167.8 287.2h1.1M158.5 281.8h1.1M156.5 270.9h1.1M168.2 290.2h1.1M153.9 289.1h1.1M157.1 285.6h1.1M157.8 277.2h1.1M165.9 275.1h1.1M156.2 287.1h1.1M162.7 285.4h1.1M157 293.4h1.1M153.3 278.6h1.1M160.1 289h1.1M159.8 289.2h1.1M153.6 287.4h1.1M155 275.3h1.1M155.3 285.3h1.1M163.5 290.4h1.1M161.2 282.2h1.1M160.1 284.1h1.1M161.3 280.4h1.1M156.8 283.1h1.1M161.3 280.8h1.1M156.2 274.2h1.1M152.8 283.7h1.1M155.7 279.8h1.1M160 285.7h1.1M159.4 281.7h1.1M164 272.3h1.1M151.1 283.5h1.1M158 287.5h1.1M160.9 282.3h1.1M154.4 291.2h1.1M160.1 290h1.1M157.1 286.4h1.1M153.6 291h1.1M164.3 281.9h1.1M152.5 285.8h1.1M163.7 280.9h1.1M157.1 272.6h1.1M154.6 274.5h1.1M154.9 282.2h1.1M155.5 289.4h1.1M155 286.8h1.1M160.2 290h1.1M150.3 281.3h1.1M164.9 284.6h1.1M162.8 293h1.1M165.4 292.9h1.1M154.4 284.5h1.1M167.6 288.5h1.1M156.1 279h1.1M158.2 284.8h1.1M160.4 290.3h1.1M156.6 282.8h1.1M158.6 277.9h1.1M159.7 285.5h1.1M151.8 283.1h1.1M167.5 278.3h1.1M153.8 280.5h1.1M160.3 285h1.1M164.1 283.8h1.1M155.2 294h1.1M159 289.7h1.1M166.6 292.4h1.1M157.6 293.9h1.1M163.9 288.6h1.1M160.4 278.8h1.1M160.1 288.2h1.1M162.4 285.1h1.1M157.7 300.5h1.1M158 288.7h1.1M163.5 291.4h1.1M160.1 295.7h1.1M161.4 273.4h1.1M153.4 287.7h1.1M159.1 284.6h1.1M164.8 281.9h1.1M163.3 280.8h1.1M160.7 280.1h1.1M156.6 288.9h1.1M156.1 293.4h1.1M161.1 286.8h1.1M165.6 291.2h1.1M159.3 274h1.1M165.1 289.6h1.1M157.6 288.6h1.1M164.7 274.6h1.1M154.3 287.9h1.1M159.9 283h1.1M154.1 282.1h1.1M162.2 276.9h1.1M161.8 283.4h1.1M154.6 283.1h1.1M155.5 292.4h1.1M156.9 291.3h1.1M152 292.8h1.1M154.7 290.4h1.1M155 285.9h1.1M162.6 292.1h1.1M165.6 277.2h1.1M157 285.8h1.1M157.7 287.8h1.1M160.1 283.3h1.1M156.6 283.4h1.1M157.7 287.4h1.1M163 274.4h1.1M160.2 283.6h1.1M158.7 279.1h1.1M156.4 277.5h1.1M166 285.8h1.1M156.2 284.8h1.1M159.6 269.1h1.1M154.2 275.2h1.1M156.3 281.4h1.1M159.4 290.4h1.1M157.2 282.7h1.1M161.5 292.8h1.1M159.3 290.2h1.1M152.5 287.6h1.1M162.8 288.2h1.1M163.7 289.9h1.1M156.3 284.5h1.1M166 281.3h1.1M159.1 285.1h1.1M155.5 279.2h1.1M161.7 286.7h1.1M157.6 295.2h1.1M159.1 281.9h1.1M154.7 282.6h1.1M162 287.4h1.1M164.2 281h1.1M156.6 286.4h1.1M167.4 286.5h1.1M156.3 292.4h1.1M160.2 269.2h1.1M151.4 287.7h1.1M150 280.4h1.1M168.9 288.6h1.1M165.6 295.9h1.1M164.5 282.9h1.1M151.1 282.7h1.1M160.1 277.5h1.1M161 281.8h1.1M159.3 294.5h1.1M160.4 286.6h1.1M154.7 288.2h1.1M158.3 288.9h1.1M153.7 287.8h1.1M157.4 287.7h1.1M160.6 295.6h1.1M155.4 280.8h1.1M157.8 285.8h1.1M157 281.3h1.1M159.1 285.3h1.1M163.4 281.8h1.1M160.2 280.9h1.1M160.9 278.7h1.1M152.3 279.5h1.1M157.4 284.2h1.1M162.9 287.6h1.1M155 286.6h1.1M157 287.6h1.1M154.5 286h1.1M165.1 298.4h1.1M156.9 286h1.1M155.6 280.3h1.1M161.9 278.3h1.1M164.1 291.3h1.1M161.4 285.2h1.1M163.7 280.5h1.1M160 284.3h1.1M158.3 291.7h1.1M156.9 288.5h1.1M156.7 285.1h1.1M156.2 281.6h1.1M160.8 279.1h1.1M158.5 267.2h1.1M159.5 283.9h1.1M161.7 296.3h1.1M158.8 286.4h1.1M152.6 289.6h1.1M155.3 284.9h1.1M153.8 284.3h1.1M150.1 282.1h1.1M159.5 276.3h1.1M153.4 276.7h1.1M153 281.4h1.1M153.9 292.9h1.1M163 293.4h1.1M157.6 278.6h1.1M163.6 290.9h1.1M158.5 291.3h1.1M157 281.2h1.1M161.7 275.6h1.1M161.8 275.9h1.1M159.6 273.4h1.1M154.2 282.4h1.1M156.9 279.9h1.1M153.4 290.4h1.1M157.8 286.4h1.1M159.5 285.3h1.1M166 282.1h1.1M165.7 285.4h1.1M162.2 282.8h1.1M163.5 285.7h1.1M160 289.7h1.1M155.7 277.8h1.1M166.2 277.6h1.1M163.1 291h1.1M160.8 280.9h1.1M161 283.6h1.1M163.9 288.6h1.1M159.8 289.4h1.1M160.5 284.9h1.1M154.2 295.9h1.1M163.4 287.9h1.1M159.6 285.8h1.1M162.8 280.4h1.1M157.9 289.6h1.1M150.7 286.4h1.1M161.4 284.5h1.1M164.4 289.7h1.1M153 279.8h1.1M154.4 280.9h1.1M157.6 276.3h1.1M157.7 296.3h1.1M151 285.9h1.1M167.3 282.7h1.1M163.8 273.8h1.1M156.1 280.2h1.1M150.5 277.6h1.1M160.4 304.4h1.1M168.3 285.3h1.1M162.9 284.6h1.1M164.4 288.5h1.1M154.5 290.4h1.1M160.1 276.6h1.1M151.9 290.4h1.1M168.3 283.3h1.1M161.7 275.8h1.1M149 289.5h1.1M150.3 278.5h1.1M161.2 286.2h1.1M159.6 278.1h1.1M157.5 289.1h1.1M161.9 275.4h1.1M168.3 291.9h1.1M160.7 282.3h1.1M150.5 283.6h1.1M158.1 295.3h1.1M152.8 284.7h1.1M155.1 296.5h1.1M160.5 289h1.1M158.1 293h1.1M154 284.1h1.1M158.9 285.8h1.1M155.1 278.5h1.1M161.5 283.4h1.1M157.7 291.3h1.1M160.8 277.6h1.1M157.7 287h1.1M162.5 281h1.1M158.3 283.4h1.1M158.9 282.4h1.1M156.3 283.8h1.1M159.6 282.3h1.1M150.6 287h1.1M149.1 284.8h1.1M155.8 283h1.1M159.3 291.9h1.1M156.7 274.8h1.1M156.6 286.3h1.1M160.8 288.4h1.1M156.5 284.1h1.1M156.9 289.4h1.1M152.3 297.2h1.1M154.6 279.6h1.1M153.3 293.6h1.1M167.4 288.3h1.1M152.7 279.5h1.1M153.9 284.9h1.1M159.8 289.1h1.1M165.5 294.4h1.1M150.9 292.1h1.1M151.6 286.3h1.1M159.4 294.7h1.1M160.5 288.3h1.1M152.3 276.9h1.1M150.5 283.7h1.1M154.4 276.5h1.1M162.4 277.7h1.1M158.7 285.9h1.1M162.4 277.6h1.1M158.3 293.1h1.1M158.8 284.3h1.1M161.8 279.5h1.1M158.3 286.7h1.1M160 278.9h1.1M154.6 279.8h1.1M156.1 279.1h1.1M161.1 280.3h1.1M157.8 279.1h1.1M155.4 278.9h1.1M161.9 291.9h1.1M161.5 278.4h1.1M158.8 289.3h1.1M155.3 285.7h1.1M163.1 286.8h1.1M156.1 287.9h1.1M154.8 302.9h1.1M151.6 287.2h1.1M155.1 292.2h1.1M154.4 294.5h1.1M153 274.7h1.1M153.3 287.8h1.1M162.9 285.6h1.1M162.9 276.9h1.1M165.7 294.8h1.1M162.3 291.6h1.1M156.5 294.7h1.1M164 282.6h1.1M156 287.8h1.1M157.2 286.8h1.1M153.4 283.7h1.1M164.7 275.5h1.1M163.5 292.2h1.1M156.7 285.9h1.1M157.4 278.5h1.1M159 276.3h1.1M159.8 280.6h1.1M162.8 290.3h1.1M159.2 288.1h1.1M160.7 287.4h1.1M151.7 291.4h1.1M157.4 289.7h1.1M150.4 284.8h1.1M167.2 287.2h1.1M165.3 291.1h1.1M162.2 285.5h1.1M164.1 282.5h1.1M168.3 286h1.1M163.3 285.9h1.1M151.3 288.4h1.1M157.9 287.3h1.1M166 279.2h1.1M155 277.9h1.1M152.9 295.4h1.1M158.8 287.9h1.1M160.7 279.8h1.1M154.4 290.2h1.1M157.5 284.8h1.1M160.2 283.7h1.1M158.1 287.1h1.1M158 284.1h1.1M153.6 281.1h1.1M156.8 285.5h1.1M162.4 294.8h1.1M160 290.5h1.1M151.9 280.2h1.1M157.6 282h1.1M160 290.8h1.1M154.3 283.6h1.1M161.9 294.1h1.1M155 293.2h1.1M157.3 285.1h1.1M158.3 285.6h1.1M169.3 281.5h1.1M157.2 292.4h1.1M156.1 289.6h1.1M162.2 286.7h1.1M156.5 292.2h1.1M159.7 285.3h1.1M151.6 289.3h1.1M160.2 284.2h1.1M158.7 284.5h1.1M152.6 295.5h1.1M165.2 283.8h1.1M157.7 283.9h1.1M157.9 285.5h1.1M152.7 285.2h1.1M151.2 285.2h1.1M156.2 285.4h1.1M151.7 281h1.1M161 290.6h1.1M162.8 290.7h1.1M155.8 288.1h1.1M151.3 279.4h1.1M157 277.8h1.1M153.8 283.5h1.1M159.4 299.5h1.1M159.7 273.9h1.1M156.8 289.5h1.1M159.1 291.8h1.1M163.7 279.3h1.1M166.8 289.8h1.1M156.3 286.8h1.1M162.2 278.8h1.1M157.7 281.8h1.1M153.8 290.4h1.1M164.8 286.3h1.1M160.6 290.7h1.1M159.4 288h1.1M160.5 285.9h1.1M157.9 295.5h1.1M153.8 288.6h1.1M167.2 285.4h1.1M162.9 293h1.1M159.9 293.6h1.1M163.3 285.9h1.1M164.8 288.2h1.1M157.9 279.4h1.1M161.6 275.5h1.1M157.2 292.8h1.1M161.8 285.9h1.1M157.6 284.3h1.1M158.7 295.4h1.1M157 292.8h1.1M161.2 284h1.1M161 284.4h1.1M157.2 287.3h1.1M163.1 293.6h1.1M158.4 273.8h1.1M156.9 284.7h1.1M158.8 283.4h1.1M155.3 276.7h1.1M164.4 282.3h1.1M161.7 275.9h1.1M163.4 280.9h1.1M152.4 289.1h1.1M160 289h1.1M155.2 284.1h1.1M159.2 285.2h1.1M164.8 283.2h1.1M159.9 292.6h1.1M158 277.6h1.1M164.1 279h1.1M163.4 293.5h1.1M167.5 281.6h1.1M150 287.4h1.1M160.3 288.9h1.1M156.8 290.7h1.1M154.7 283.6h1.1M159.3 276.6h1.1M153.2 294.2h1.1M162.4 282.3h1.1M154.5 287.7h1.1M157.5 290.4h1.1M167.5 291.5h1.1M155.4 282.4h1.1M153.1 303.9h1.1M149.4 292.3h1.1M157.1 288.3h1.1M157.7 286.5h1.1M159.4 295h1.1M151.9 295.2h1.1M155.2 288.2h1.1M155.3 286.1h1.1M159.5 288.8h1.1M151.4 285.6h1.1M165.3 286.8h1.1M164.2 286.6h1.1M161.2 286.1h1.1M160.5 281.6h1.1M160.3 292.5h1.1M153.9 277.4h1.1M163.8 289.5h1.1M153.9 281.8h1.1M167.7 292.8h1.1M159.9 269.7h1.1M150 296h1.1M162.9 279.8h1.1M168.1 279.8h1.1M157.5 294.5h1.1M163.8 277.2h1.1M157.8 281h1.1M155.9 273.5h1.1M167 285.5h1.1M164.6 287.8h1.1M156.6 291.4h1.1M160.5 288.9h1.1M153.5 280.7h1.1M154.5 288.4h1.1M164.1 281.4h1.1M157 284.6h1.1M156.8 295h1.1M152.9 279.9h1.1M159.8 285.2h1.1M162.5 283.7h1.1M156.6 291.7h1.1M157.9 280.8h1.1M153.1 286.6h1.1M165.4 289.1h1.1M155.9 282.6h1.1M158 291.5h1.1M166.7 280.5h1.1M157.8 284.5h1.1M151.5 283.1h1.1M154.3 294.2h1.1M157.1 286.6h1.1M167.2 285.1h1.1M159.9 277.9h1.1M157.7 290.9h1.1M162.7 277.8h1.1M164.8 296.7h1.1M155.3 281.9h1.1M165.5 294h1.1M162.9 283.9h1.1M161 286.2h1.1M153.4 289h1.1M159.8 277.8h1.1M165.4 283.1h1.1M157.6 281.7h1.1M156.7 285h1.1M159.2 284.2h1.1M154.1 275h1.1M161.7 282.6h1.1M160.3 276.1h1.1M162.8 276.1h1.1M157.7 291.5h1.1M165 287.6h1.1M156.2 277.1h1.1M159.4 293.1h1.1M153 277.3h1.1M155.1 272h1.1M159.8 290h1.1M155.6 296.1h1.1M156.7 289.9h1.1M157.8 294.9h1.1M160 290.9h1.1M162.5 283.8h1.1M162.5 284.7h1.1M163.7 289.2h1.1M159.7 295.5h1.1M156.3 286.2h1.1M151.4 281.2h1.1M157.2 272.2h1.1M155.1 286.2h1.1M150.3 277.5h1.1M166.5 294.8h1.1M150.2 277.6h1.1M160.5 291.3h1.1M161.5 280.9h1.1M157.7 291.8h1.1M165.6 277.3h1.1M159 284.5h1.1M155.1 296.1h1.1M167.3 283.3h1.1M155.1 278.2h1.1M152 294.4h1.1M154.1 289.3h1.1M155.8 291.2h1.1M159.1 279.2h1.1M160.5 284.6h1.1M151.7 281.4h1.1M160.5 291.9h1.1M169.5 282.2h1.1M155.5 278h1.1M158.3 285.9h1.1M162.2 282.5h1.1M164.6 281.9h1.1M155.6 294.1h1.1M154.3 278.7h1.1M154.1 283.2h1.1M164 295h1.1M163.1 293.4h1.1M148.4 297h1.1M148.7 288.6h1.1M153 277.6h1.1M151.6 293.5h1.1M160.6 299.9h1.1M159.9 284h1.1M168.1 293.1h1.1M162.7 278.8h1.1M159.3 295.4h1.1M164.5 285h1.1M154.6 282.7h1.1M152.2 274.6h1.1M159.1 284.2h1.1M163.3 288.5h1.1M151.1 291.1h1.1M163.2 279.2h1.1M163 285.2h1.1M156.5 280.6h1.1M159.7 281.5h1.1M157.6 284.2h1.1M159.3 283.7h1.1M162.7 290.9h1.1M155 287.7h1.1M163.9 280.6h1.1M163 289.2h1.1M163.2 277.9h1.1M149.4 289.8h1.1M150 287.2h1.1M162.1 289.4h1.1M156.1 283.7h1.1M155.5 290.2h1.1M155.1 292.5h1.1M152.4 290h1.1M157.5 282.5h1.1M155.4 283.6h1.1M155.8 282.8h1.1M161.1 291h1.1M153.2 285.1h1.1M164.1 297.6h1.1M159.1 278.3h1.1M163.9 280.2h1.1M152.4 285.1h1.1M161.7 281.2h1.1M163.3 280.1h1.1M158.7 294.6h1.1M162.4 291h1.1M158.4 284.5h1.1M150.4 288.4h1.1M160.5 280.6h1.1M164.4 282.9h1.1M156.2 288.2h1.1M150.8 286.7h1.1M155.9 296.3h1.1M160.4 279.5h1.1M160.3 290.7h1.1M164.1 288.5h1.1M161.5 290.3h1.1M161.3 286.4h1.1M149.3 283.1h1.1M169.6 284.6h1.1M159.1 284.3h1.1M163 283.8h1.1M157.2 282.8h1.1M158.1 291.3h1.1M159 296.2h1.1M166.4 288.1h1.1M166.2 268.6h1.1M161.8 288.1h1.1M168.4 280h1.1M157 288.1h1.1M161.3 292.6h1.1M156.7 276.6h1.1M165.1 281.8h1.1M159.1 286h1.1M163.6 283.1h1.1M167.1 292h1.1M148.9 289.4h1.1M169.2 294.4h1.1M160.3 293.5h1.1M157.4 281.8h1.1M149.7 287.3h1.1M157.5 282.8h1.1M155.3 285.8h1.1M159.2 292.4h1.1M158 294.1h1.1M167.6 288.7h1.1M157.4 278.3h1.1M164.1 284.1h1.1M164.5 278.3h1.1M168.8 291h1.1M157.6 293.5h1.1M162.6 278.6h1.1M151.6 279.5h1.1M153.6 288.7h1.1M157.6 273.1h1.1M158.8 290.5h1.1M153.1 274.4h1.1M156.8 295h1.1M162.2 291.8h1.1M156.8 285.6h1.1M158.1 291.7h1.1M154.7 281.5h1.1M165.5 290.1h1.1M167.3 299.5h1.1M159.9 284.7h1.1M158.4 288.2h1.1M167 279.7h1.1M161.3 283.4h1.1M155.7 290.2h1.1M152.4 289.8h1.1M156.1 281.6h1.1M169.4 294.8h1.1M156.1 280.2h1.1M165.2 289.5h1.1M159 286h1.1M157.8 293.5h1.1M165.3 274.3h1.1M157.7 290.9h1.1M160.8 287.2h1.1M154 282.6h1.1M152.9 290.5h1.1M155.3 295.2h1.1M159.9 294.3h1.1M155.8 282.5h1.1M149.5 285.1h1.1M161.3 284.2h1.1M158.2 281.5h1.1M157.6 286.9h1.1M156 281.7h1.1M165.3 302.1h1.1M166.6 278.5h1.1M156.6 291h1.1M161.5 285.9h1.1M165.6 291.6h1.1M164.3 290.6h1.1M160 275.1h1.1M159 280.3h1.1M160.4 291.7h1.1M163.4 285.5h1.1M161.6 295h1.1M156.8 284.2h1.1M161.1 286.9h1.1M160.8 287.2h1.1M162.3 289.7h1.1M159.9 291.1h1.1M165.6 282h1.1M160 285.7h1.1M163.3 281.1h1.1M159.2 287.9h1.1M156.2 274.7h1.1M154.4 284.7h1.1M158.2 287h1.1M161.6 280.9h1.1M165.1 278.9h1.1M158.5 290.4h1.1M156.5 278.7h1.1M156.4 294h1.1M165.2 284.5h1.1M159.3 297.4h1.1M156.6 280.3h1.1M162.6 283.7h1.1M152.6 283.3h1.1M159.6 282.6h1.1M158.6 295.1h1.1M158.3 290.2h1.1M153.4 289.8h1.1M163.7 287.7h1.1M166.8 300.1h1.1M152.5 291.3h1.1M159.6 285.2h1.1M162.1 285.1h1.1M164.4 289.5h1.1M156.9 290.6h1.1M154.3 295.4h1.1M159 279.1h1.1M168.6 288.9h1.1M159.3 280.7h1.1M160.1 295.4h1.1M167.5 288.3h1.1M148.6 289.8h1.1M148.5 290.9h1.1M163.3 288.1h1.1M162.7 281.4h1.1M152.3 279.2h1.1M161.4 290.9h1.1M159.1 293.3h1.1M160 290.8h1.1M155 294h1.1M156.8 282.2h1.1M154.8 283.6h1.1M159.1 293.2h1.1M157.9 280.5h1.1M166.9 296.7h1.1M162 287.9h1.1M151.4 287h1.1M160.9 290.7h1.1M165.9 280.9h1.1M160.4 277h1.1M164.2 284.5h1.1M158.8 286.3h1.1M162.4 287.4h1.1M154.4 294.3h1.1M162.8 276.7h1.1M152.4 275.8h1.1M165.2 281.7h1.1M151.7 279.2h1.1M148.8 282.5h1.1M161.6 282.5h1.1M158 294.6h1.1M159.5 285.5h1.1M161.1 283.1h1.1M158.9 280h1.1M154.4 310.2h1.1M159.6 312.4h1.1M160.7 283.2h1.1M161.4 282.2h1.1M168.3 300.2h1.1M155.1 310h1.1M159 309.2h1.1M161.4 300.8h1.1M156.6 305.8h1.1M153 302.2h1.1M156.2 293.2h1.1M163.5 318.4h1.1M157.5 298.8h1.1M161.9 287.5h1.1M155.3 294.1h1.1M161.1 283.1h1.1M155.6 299h1.1M154.6 310.1h1.1M159.5 285.9h1.1M158.9 310.4h1.1M165.3 320.3h1.1M151 302.7h1.1M161.4 287h1.1M166.7 290.1h1.1M165.4 295.4h1.1M157.1 285.8h1.1M155.7 286.1h1.1M156.5 296.2h1.1M160.3 297h1.1M159.6 305.1h1.1M160.7 286.6h1.1M161.3 318h1.1M153.6 309.7h1.1M153.3 308h1.1M153 292.2h1.1M152.2 316.7h1.1M158.4 295.4h1.1M160 317.5h1.1M166 309.8h1.1M161.5 289.7h1.1M158.9 294.2h1.1M165.1 318h1.1M155.2 309.1h1.1M160.5 297.3h1.1M163.4 301h1.1M162.5 300.9h1.1M160.9 291h1.1M157.2 296.8h1.1M152.9 292.1h1.1M158.1 294.5h1.1M155.9 303.7h1.1M162.3 289.1h1.1M158 306.3h1.1M161.5 300h1.1M151 306.7h1.1M163.3 308h1.1M154.6 311.6h1.1M151.3 305.3h1.1M152.1 306.1h1.1M155.8 297h1.1M164.1 304.7h1.1M162.4 289.6h1.1M153.2 296.4h1.1M159.1 306.5h1.1M158.3 298.3h1.1M151.2 303.4h1.1M154.2 288h1.1M149 312.9h1.1M154.7 293h1.1M156.6 302.9h1.1M155 298.6h1.1M154.2 308.4h1.1M155 295h1.1M155 288.6h1.1M164.6 279.4h1.1M157.2 295.7h1.1M160.1 286.6h1.1M162.3 304.4h1.1M162.8 313.7h1.1M162.3 276.1h1.1M156.3 285.6h1.1M153.5 302h1.1M154.9 311.5h1.1M156.5 302h1.1M158.8 302.2h1.1M158.3 304.1h1.1M163.9 304.8h1.1M158.1 315.7h1.1M167.2 305.2h1.1M163.9 286.1h1.1M156.6 294h1.1M162.9 301h1.1M159.2 290.5h1.1M165.4 296.2h1.1M160.9 293.5h1.1M160.8 291.7h1.1M150.7 306h1.1M164.9 294.9h1.1M157.7 287.6h1.1M158.2 291.5h1.1M164.2 299.3h1.1M157.6 320.6h1.1M154.7 301.5h1.1M161.7 314.1h1.1M153.9 303.9h1.1M162.6 276.8h1.1M159.4 302.8h1.1M164.3 290.1h1.1M153.2 284.9h1.1M165 287.8h1.1M159.9 317.3h1.1M168.5 282.6h1.1M155.8 292.5h1.1M167.4 310.8h1.1M162 305.7h1.1M162.8 281.3h1.1M155.3 297.7h1.1M161.6 293.5h1.1M162 296.8h1.1M154.7 306.6h1.1M153.3 292.9h1.1M155.1 295.6h1.1M165.4 313.9h1.1M159.8 279.9h1.1M163.3 295h1.1M160.1 303.7h1.1M159.6 286h1.1M160 292.4h1.1M157 285.3h1.1M164.6 300.4h1.1M159.7 292.4h1.1M159.7 306.9h1.1M152.1 309.4h1.1M160.3 299.3h1.1M155.6 294.9h1.1M156.4 301.5h1.1M163.7 299.4h1.1M153.7 286.3h1.1M157.7 309.9h1.1M161.8 301.2h1.1M164.1 307h1.1M156.5 284.8h1.1M160.2 307.9h1.1M159.8 320.5h1.1M153.3 305.2h1.1M148.7 283.9h1.1M149.6 299.2h1.1M161.7 298.2h1.1M159.2 301.1h1.1M152.4 296.4h1.1M155.7 303.9h1.1M157 294h1.1M157.1 301.2h1.1M158.8 291.7h1.1M163.2 299.8h1.1M154.9 309.1h1.1M159.6 293.7h1.1M155 305.7h1.1M155.9 289.7h1.1M154.6 295h1.1M157.7 296.4h1.1M156 311.7h1.1M160.6 290.9h1.1M159.6 311.4h1.1M154.7 283.7h1.1M168 297.2h1.1M153.1 308.2h1.1M160.4 306h1.1M169.4 288.4h1.1M155.6 286.2h1.1M164.9 307.8h1.1M165.8 285.8h1.1M160.3 304.8h1.1M150 293.4h1.1M165.6 298.7h1.1M158.9 322.7h1.1M156 314.8h1.1M164.7 307.5h1.1M155.5 284.5h1.1M163.8 302.1h1.1M156.2 299.3h1.1M161.4 297.7h1.1M153.5 312.6h1.1M157.1 281h1.1M154.4 302h1.1M155.4 300.1h1.1M159.8 291h1.1M157.7 316.6h1.1M159.9 285.6h1.1M164.9 299h1.1M158.2 299.6h1.1M150.1 276.1h1.1M157.6 283.9h1.1M159.3 288.7h1.1M163.5 306.9h1.1M163.5 308.5h1.1M163.2 304.9h1.1M157.7 301.2h1.1M162.1 276h1.1M151.9 301h1.1M165.1 293.4h1.1M160.7 310.9h1.1M161 312.7h1.1M156.7 321.9h1.1M158.9 306.1h1.1M155.5 307.2h1.1M161.7 288h1.1M152.4 299.5h1.1M163.7 285.9h1.1M161.2 308h1.1M168.7 286.3h1.1M158.6 296.5h1.1M158.5 290.2h1.1M159.8 293.8h1.1M158.9 303.4h1.1M158.4 292.9h1.1M153.5 301h1.1M153.6 288.3h1.1M155.9 313.2h1.1M157.5 292h1.1M153 309.2h1.1M153.1 320.9h1.1M157.6 273.4h1.1M162.5 288.4h1.1M157.9 296.5h1.1M161.8 310.8h1.1M163.5 293.6h1.1M162.4 302.6h1.1M156.9 291.1h1.1M156.8 304.5h1.1M150 286.1h1.1M155.4 307.4h1.1M161.2 267.6h1.1M153.8 279h1.1M164.8 317.6h1.1M165.6 300.4h1.1M157.2 289.3h1.1M162.7 321.6h1.1M151.9 309.6h1.1M153.7 310.4h1.1M157.1 294.3h1.1M158.7 305.1h1.1M157.8 303.9h1.1M154.9 281.4h1.1M168 304.8h1.1M160.2 296.7h1.1M159.9 312h1.1M161.8 312.2h1.1M159.7 291.9h1.1M157.8 292.3h1.1M156.1 300.6h1.1M150.9 305.5h1.1M166 294.3h1.1M154.4 297.4h1.1M150.8 305h1.1M154.9 303h1.1M151.1 310.8h1.1M168.3 301.1h1.1M160.7 289.4h1.1M165.8 280.2h1.1M165.6 307.1h1.1M161.6 295.1h1.1M161.6 295h1.1M155.4 295.6h1.1M158.6 282.2h1.1M156 294.5h1.1M159.2 271.4h1.1M155.5 294.4h1.1M165 289.2h1.1M162.1 317.8h1.1M158.2 303.3h1.1M150.8 296.4h1.1M162 300.3h1.1M162.9 306.2h1.1M158.6 290.7h1.1M152.8 296.2h1.1M160.9 294.9h1.1M163.2 324.6h1.1M149.6 299.3h1.1M161.7 278h1.1M150.1 306.9h1.1M158.7 325.7h1.1M167.3 288.6h1.1M158.7 335.1h1.1M161.1 297.9h1.1M157.1 309.1h1.1M158.9 292.7h1.1M159.6 295.7h1.1M165.4 285.6h1.1M157.5 287.5h1.1M157.2 276.1h1.1M158.7 310.6h1.1M169.5 286.5h1.1M159.7 302.5h1.1M164 302h1.1M157.2 291.7h1.1M152.7 299.1h1.1M165.1 297.6h1.1M158.5 293.3h1.1M155.1 299.1h1.1M155.5 299.1h1.1M155.8 287.8h1.1M156.1 284.9h1.1M151.6 289.6h1.1M164.5 299.8h1.1M160.4 313.1h1.1M163.1 314h1.1M157.1 301.8h1.1M160.3 308.5h1.1M159.6 299.8h1.1M164.2 310.2h1.1M162.7 299.9h1.1M160.4 302.7h1.1M155.7 295.5h1.1M153.1 298.5h1.1M154.8 318.5h1.1M156 285.9h1.1M156.2 298.5h1.1M153 292.3h1.1M166.5 308.6h1.1M159.8 317.7h1.1M149.2 295.2h1.1M153.8 269.2h1.1M152.4 305h1.1M159.8 305h1.1M164.1 280.7h1.1M154.1 295.9h1.1M161.8 297.8h1.1M157.7 274h1.1M164.1 305.6h1.1M165.2 303.1h1.1M160.2 301h1.1M162.4 287.2h1.1M158.9 290.9h1.1M157.1 291.8h1.1M153.2 303.5h1.1M160.5 288h1.1M158.2 314h1.1M156.9 302.5h1.1M158.6 275.4h1.1M157.7 316.3h1.1M153.9 300.1h1.1M156.4 292.6h1.1M164.2 299.5h1.1M157.9 279.1h1.1M165.4 300.4h1.1M153.5 272.3h1.1M152.5 287.6h1.1M159.2 312.8h1.1M162.2 311.8h1.1M155.7 294.8h1.1M161.9 288.1h1.1M163 308.3h1.1M163.9 297.9h1.1M158.2 300.7h1.1M158.5 305.1h1.1M151.1 287h1.1M158.8 306.8h1.1M160.3 275.9h1.1M165.1 313.9h1.1M152.9 281.7h1.1M154.9 291.7h1.1M154.1 291.3h1.1M162.9 306.1h1.1M149.6 306.3h1.1M153.6 302.2h1.1M168.4 304.1h1.1M161.8 303.3h1.1M152.5 297.6h1.1M158.7 278h1.1M163 273.8h1.1M161.6 273.8h1.1M157.8 297.8h1.1M155.1 295.9h1.1M162.8 296.8h1.1M158.7 300.7h1.1M162.7 295.8h1.1M160.9 287.7h1.1M156.8 282.3h1.1M165.9 278.1h1.1M156.3 311.3h1.1M160.7 308h1.1M156 283.8h1.1M157.8 295.4h1.1M157.6 303h1.1M155.5 315.3h1.1M160 291.8h1.1M165 300.1h1.1M167.3 310.6h1.1M165.8 279.7h1.1M158.1 290.4h1.1M165.7 297.8h1.1M160.9 290.6h1.1M166.7 320.8h1.1M152.8 307.5h1.1M165.8 300.3h1.1M156.1 288h1.1M164.1 307.5h1.1M156.5 305h1.1M163.2 292.7h1.1M157.5 293.6h1.1M150.1 282.6h1.1M154.2 297.4h1.1M157.5 307.5h1.1M158.8 308.9h1.1M153.2 304.4h1.1M153.1 307h1.1M155.4 291.9h1.1M157.9 293.2h1.1M159.6 311.1h1.1M154.9 303h1.1M151.8 289.7h1.1M160.1 303.6h1.1M157.1 307.1h1.1M162.8 305.8h1.1M156.3 299.3h1.1M161.9 292.7h1.1M154.6 302.5h1.1M159.8 316.3h1.1M159.2 299.8h1.1M161 291.1h1.1M154.4 301.8h1.1M158.4 285h1.1M154.8 300.6h1.1M158.1 295h1.1M161.6 308.4h1.1M157.9 299.3h1.1M158.8 309.4h1.1M161.7 322.7h1.1M159.4 295.8h1.1M164.3 289.3h1.1M160.9 303.1h1.1M163.8 297.2h1.1M160.5 299.7h1.1M163.9 291.7h1.1M165.2 304.1h1.1M150.8 298.9h1.1M160.4 275.1h1.1M159.2 295.6h1.1M148.4 301.7h1.1M154.6 310.7h1.1M156.7 292h1.1M155.5 289.6h1.1M159.2 310.4h1.1M150.4 291.6h1.1M162.3 299.3h1.1M162.4 303.2h1.1M160.4 306h1.1M157.3 298.2h1.1M159 286.3h1.1M156.5 308.9h1.1M164.3 293.5h1.1M161.3 292.6h1.1M167.6 319.5h1.1M157 307.5h1.1M165.9 286.8h1.1M156.2 293h1.1M158.1 295.5h1.1M154 290.2h1.1M161.5 277.7h1.1M158.4 306.6h1.1M161.6 306.4h1.1M165.8 300.7h1.1M158.6 293.8h1.1M160.6 300.4h1.1M162.9 304.9h1.1M158.7 287h1.1M156.3 294.6h1.1M160.6 292.2h1.1M161.1 305.5h1.1M162.5 300.9h1.1M163 284.3h1.1M155.8 291.6h1.1M160.6 316.9h1.1M164.8 287.8h1.1M156.6 299.7h1.1M160.7 291.4h1.1M155.8 311.3h1.1M159.6 297.4h1.1M167.1 293.5h1.1M159.8 285.6h1.1M154.3 295.5h1.1M160.3 306.9h1.1M159.7 305.2h1.1M164.3 284h1.1M152.3 314.6h1.1M154.6 295.5h1.1M158.6 286.9h1.1M151.5 299.4h1.1M164.3 291.5h1.1M149.4 291.9h1.1M155 291.4h1.1M151.9 297.1h1.1M155.8 292.7h1.1M162.8 279.9h1.1M161.6 303.6h1.1M163.3 292.5h1.1M161.4 310.7h1.1M149.3 303.7h1.1M160.2 304.6h1.1M150.2 300h1.1M156.3 311.7h1.1M157.1 294.6h1.1M156.4 287.5h1.1M161.1 301.7h1.1M155.2 269.2h1.1M167 294.1h1.1M161.6 300.3h1.1M164.5 293.6h1.1M162.1 311.3h1.1M162.9 305.4h1.1M158.6 299.2h1.1M168.1 293.8h1.1M153.8 309.6h1.1M161.1 290.8h1.1M158.9 293.6h1.1M157.7 305.9h1.1M160.2 304.3h1.1M155.1 319.5h1.1M163 295.7h1.1M162.7 278.1h1.1M159.2 305h1.1M162.1 311.3h1.1M154 296.2h1.1M150.3 314.5h1.1M155.9 316.8h1.1M157.8 290.9h1.1M166.9 292.9h1.1M158 284.7h1.1M163.6 303.7h1.1M162.7 305.6h1.1M168.6 304.4h1.1M159.6 284.9h1.1M162.1 289.9h1.1M158.1 282.8h1.1M155 280.9h1.1M154.3 283.7h1.1M155.4 281.3h1.1M165.6 296h1.1M160.1 302.4h1.1M158 304.5h1.1M158.9 297.7h1.1M156.3 290.9h1.1M158.7 297.8h1.1M158.6 304h1.1M162 294.8h1.1M163.1 298.5h1.1M151.2 294.7h1.1M160 292.4h1.1M165.3 298.3h1.1M154.2 286.1h1.1M157.5 309h1.1M159.8 281.4h1.1M163.9 302.8h1.1M161.9 283.6h1.1M157.6 313.8h1.1M161 307.1h1.1M163.9 289.4h1.1M160.8 293.2h1.1M167.8 286h1.1M160.9 297.3h1.1M153.9 302.2h1.1M154.9 324.8h1.1M158.4 283.5h1.1M157.7 311h1.1M161.9 291.8h1.1M160.5 300.8h1.1M166.7 307.2h1.1M162.6 303.6h1.1M165.7 302.4h1.1M155.3 295.8h1.1M156.9 297.8h1.1M162 299.5h1.1M159.1 310.5h1.1M162 282.4h1.1M160.1 292.7h1.1M156.1 284.8h1.1M167 287.8h1.1M164.4 289.5h1.1M151.5 309.5h1.1M155.7 320.5h1.1M158.8 312.2h1.1M162.3 285.4h1.1M158.5 298.7h1.1M152.7 286h1.1M162.7 302.6h1.1M157.7 311.3h1.1M164.4 304.1h1.1M160.2 307.1h1.1M163.6 296.3h1.1M163 277.2h1.1M163.2 277.1h1.1M156.5 296.9h1.1M163.6 303.9h1.1M159.6 311.3h1.1M153.1 294.2h1.1M157 298.7h1.1M157.3 300.6h1.1M160.9 309.1h1.1M162.1 297.2h1.1M153.8 286.4h1.1M162.1 309.3h1.1M158.5 302.2h1.1M153.9 301.9h1.1M163 284.5h1.1M155.4 297.8h1.1M153.5 279.8h1.1M162.7 276.8h1.1M163.2 295.4h1.1M155.9 293.3h1.1M163.7 303.9h1.1M163.3 313h1.1M156.5 297.5h1.1M167.8 316.7h1.1M158.7 291.7h1.1M159.8 305.9h1.1M168.6 284.6h1.1M161.9 299.2h1.1M156.1 294.6h1.1M161 295.7h1.1M150.9 304.1h1.1M164.5 278.1h1.1M165.7 299.1h1.1M167.9 289.4h1.1M156.5 299.1h1.1M161.6 302h1.1M160.6 294h1.1M168.1 294h1.1M155.7 285.8h1.1M158.5 303.7h1.1M165.7 290.8h1.1M155 302.6h1.1M160.1 282.9h1.1M158.5 312.3h1.1M160.8 287.2h1.1M156.9 310h1.1M163.2 293.2h1.1M163.4 303.6h1.1M152.6 296.4h1.1M164.1 305h1.1M155.5 297.9h1.1M157.5 311.2h1.1M164.1 304.9h1.1M159.3 305h1.1M161.4 315.4h1.1M162.8 290.6h1.1M161.5 311.6h1.1M156.5 298.6h1.1M154.7 282.4h1.1M162.1 302.9h1.1M162.6 295.8h1.1M160.4 315.6h1.1M158.2 292.7h1.1M163 298.4h1.1M158.9 300.4h1.1M152.8 277.9h1.1M160.3 303.2h1.1M161.6 287.5h1.1M162.4 312.7h1.1M154.7 315.4h1.1M155.5 297.8h1.1M160.8 281.3h1.1M156.9 299.8h1.1M158.7 299.7h1.1M163.3 305.5h1.1M160.9 294.8h1.1M167.8 285.4h1.1M160.5 296.4h1.1M167.2 288.2h1.1M163.6 316.5h1.1M156.6 290.5h1.1M159.3 291.1h1.1M158.7 297.4h1.1M165.4 284.9h1.1M156.8 293.2h1.1M157 296.5h1.1M160.4 292.8h1.1M160.9 295.3h1.1M152.5 310.9h1.1M160.3 302.4h1.1M157.9 283.9h1.1M159.1 293.4h1.1M159.9 305.7h1.1M158.4 291.1h1.1M164.2 298.8h1.1M161.5 297.6h1.1M158.2 303.4h1.1M159.6 296h1.1M164.1 296.4h1.1M163 288.9h1.1M165 301.7h1.1M158.7 288.2h1.1M159.6 316.1h1.1M168.6 297.7h1.1M159.1 295.6h1.1M166.9 306.2h1.1M163.2 297h1.1M157.3 298.8h1.1M152.8 297.3h1.1M162.3 290.3h1.1M156.1 288.2h1.1M156.1 290.6h1.1M151.1 309.8h1.1M164.9 291.3h1.1M159.8 293.6h1.1M159.5 293.2h1.1M161 305.2h1.1M160.1 318.7h1.1M159.9 288.2h1.1M161.6 303.6h1.1M158 299.2h1.1M152.6 294.7h1.1M162.6 303.2h1.1M161.5 284.6h1.1M159.3 306.6h1.1M166.6 300.2h1.1M152.9 287.5h1.1M166.8 314.6h1.1M166 306.8h1.1M161 310.1h1.1M151.8 282.7h1.1M157.4 295.1h1.1M162.3 292.4h1.1M153.6 304.5h1.1M161.6 312.1h1.1M169.4 277.9h1.1M165.8 298.1h1.1M159.2 296.6h1.1M160.6 308.4h1.1M154.9 297.5h1.1M160.1 284.6h1.1M157.8 295.9h1.1M154.8 287.1h1.1M153.2 289.8h1.1M168.3 298.3h1.1M159.8 292.9h1.1M154.5 300.8h1.1M157.5 282h1.1M165.6 322.2h1.1M166.5 311.1h1.1M156.3 305.4h1.1M160.4 284.4h1.1M163.6 275.3h1.1M157.8 288.9h1.1M153.9 295.5h1.1M154.5 321.2h1.1M159.1 311.6h1.1M155.8 292.4h1.1M153.2 310.5h1.1M158 310.7h1.1M163.6 298.1h1.1M162.2 310.6h1.1M158.2 301.4h1.1M168.3 291h1.1M155.8 285.6h1.1M159 296.6h1.1M152.8 308.3h1.1M163.1 283.7h1.1M158.9 281h1.1M151.4 303.7h1.1M155.6 269.5h1.1M167.1 317h1.1M162.7 293.3h1.1M159.7 305.6h1.1M162.9 317.3h1.1M152 282.7h1.1M155.6 286.9h1.1M152.9 321.4h1.1M155.5 294.9h1.1M157.5 296.6h1.1M161.7 300.3h1.1M163.7 309h1.1M163.5 311.8h1.1M151.1 299h1.1M157 294.4h1.1M159.2 297.5h1.1M161.6 301.1h1.1M155.3 311.6h1.1M157.9 299.3h1.1M160.8 316.9h1.1M155.3 288.9h1.1M161.3 303.5h1.1M164.5 316.3h1.1M153.9 311.4h1.1M148.6 301.4h1.1M159.8 288.7h1.1M154.5 290.4h1.1M160.1 296.3h1.1M157.1 301.1h1.1M160.7 295.3h1.1M164.7 282.7h1.1M163.2 290.2h1.1M157.5 303.3h1.1M153.7 306.6h1.1M158.5 283.3h1.1M149.2 294.1h1.1M155.7 280.4h1.1M159.5 308.8h1.1M156 302.6h1.1M156.3 304h1.1M151.6 335.5h1.1M151.4 340.2h1.1M151.2 349h1.1M161.7 316.6h1.1M149.9 301.3h1.1M161.5 334h1.1M154.5 344.8h1.1M160.7 339.1h1.1M159.7 326.4h1.1M162.2 313.1h1.1M163.5 339.3h1.1M155 345.8h1.1M154.4 309.9h1.1M156.5 338.3h1.1M155 341.5h1.1M158.1 319.7h1.1M158.6 320.7h1.1M160.9 296.8h1.1M156.6 305.8h1.1M162.9 340.1h1.1M150.2 313.4h1.1M159.1 348.6h1.1M160.9 316.3h1.1M154.9 342.8h1.1M155.4 318.8h1.1M162.1 340.7h1.1M157 323.4h1.1M149.8 309.4h1.1M152.5 309h1.1M163.2 314.2h1.1M154.7 302.9h1.1M163.6 346.4h1.1M163.7 349.1h1.1M157.3 342.8h1.1M161.4 292.5h1.1M154.6 347.2h1.1M156.4 342.7h1.1M155.2 345.1h1.1M160.8 334.1h1.1M152.7 309.1h1.1M157.9 315h1.1M158.7 320.5h1.1M161 307.6h1.1M148.9 295.2h1.1M150.6 350.7h1.1M154.5 320.5h1.1M157.3 332.9h1.1M159.4 302h1.1M158.9 345.9h1.1M166.8 340.5h1.1M161.9 296.4h1.1M161.3 308.7h1.1M156 340.1h1.1M162.4 297.9h1.1M162 294.8h1.1M161.8 302.8h1.1M158.1 304.6h1.1M160.8 341.6h1.1M164.6 342.1h1.1M154.8 330.9h1.1M148.7 315.4h1.1M161.6 342.1h1.1M161.4 334.3h1.1M157.7 298.3h1.1M156.6 307.9h1.1M163.2 337.5h1.1M156.2 330.6h1.1M152.9 320.8h1.1M156.2 328.6h1.1M160.8 311.5h1.1M155.5 331.7h1.1M156.8 304.3h1.1M156.2 344.2h1.1M158.9 326.7h1.1M153.6 336.6h1.1M158.5 331.3h1.1M153.1 335h1.1M162.1 337.9h1.1M157.1 342.2h1.1M150.2 311.1h1.1M156.7 298.1h1.1M152.8 349.1h1.1M164.5 339.8h1.1M157.7 331.5h1.1M160.6 326.3h1.1M150.7 350.5h1.1M153 296.6h1.1M157.8 305.5h1.1M152.3 316.2h1.1M156.4 337.5h1.1M158.8 332.5h1.1M159.8 317.7h1.1M157.9 305.7h1.1M162.4 294h1.1M155.5 304.6h1.1M160.3 306.8h1.1M163.6 327.5h1.1M159.3 319.1h1.1M156.6 349.1h1.1M158.5 330h1.1M161.7 306.3h1.1M157.3 316.2h1.1M150.9 295.1h1.1M158.8 335.8h1.1M157.7 320.3h1.1M159.9 349.4h1.1M158.6 316.1h1.1M164.5 345.6h1.1M153 320.8h1.1M153.9 335.3h1.1M161.3 318.5h1.1M153.7 343.4h1.1M160 310.2h1.1M158.5 305.9h1.1M149.6 297.4h1.1M161.3 320h1.1M163.9 339.6h1.1M159.2 324.8h1.1M152.1 345.2h1.1M161.6 331.7h1.1M153.7 328.8h1.1M157.7 326.8h1.1M160.6 296.4h1.1M154.8 331.9h1.1M150.8 308h1.1M158 300h1.1M158.4 301.6h1.1M154.7 306.2h1.1M154.8 333.5h1.1M161.8 314.2h1.1M158 314.8h1.1M156.2 321.9h1.1M155.5 350.9h1.1M159.2 312.4h1.1M158.8 315.2h1.1M157.7 312h1.1M152.2 316h1.1M156.7 315h1.1M155.4 344.5h1.1M163.4 320.8h1.1M161.8 346.4h1.1M161.5 301.9h1.1M158.7 325.9h1.1M156.6 344.1h1.1M160.1 300.7h1.1M156.8 321.1h1.1M154.5 326.9h1.1M157.7 350.3h1.1M157.6 349h1.1M166.8 309.2h1.1M160.7 324.4h1.1M156.4 339.6h1.1M161.6 324.6h1.1M156 350h1.1M163 308.6h1.1M160.6 333.6h1.1M153.5 333.2h1.1M157.8 336.9h1.1M157.9 312.9h1.1M159.6 323.7h1.1M161.7 309.9h1.1M153.9 343.3h1.1M155.1 317h1.1M160.2 277h1.1M163.3 274.3h1.1M153.7 263.6h1.1M151.8 280.8h1.1M164.1 270.7h1.1M162.7 272.4h1.1M163.8 276.6h1.1M154.4 275.8h1.1M157.9 282h1.1M159.9 271.1h1.1M160.8 276.2h1.1M158.3 276.9h1.1M158.6 275.4h1.1M163.4 279.3h1.1M156.9 273.7h1.1M156.4 282.5h1.1M156.9 270.9h1.1M156.5 266.5h1.1M159.4 275h1.1M157.9 282.4h1.1M156.8 272.1h1.1M165.3 271.4h1.1M160.2 273.1h1.1M157.3 276.2h1.1M164.6 274.1h1.1M156.3 277.1h1.1M158.8 264.8h1.1M158.4 284.3h1.1M156.2 278.7h1.1M157.1 270h1.1M159.2 283.5h1.1M152.4 277.9h1.1M157.1 284.1h1.1M160 268.1h1.1M160.1 285.3h1.1M160.2 275.5h1.1M169.4 262.7h1.1M161.8 279.8h1.1M158.2 273.4h1.1M158.3 269.1h1.1M158.8 273.9h1.1M160.8 263.4h1.1M157.5 278.8h1.1M165.6 273.9h1.1M153.9 273.6h1.1M161.7 283.8h1.1M161.1 275.4h1.1M153.7 271.2h1.1M161.7 269.4h1.1M161.3 274.8h1.1M156 281.7h1.1M169.2 271.7h1.1M162 268.9h1.1M157.4 280.8h1.1M156.7 275.6h1.1M155.5 275.1h1.1M160 287.9h1.1M159.1 267.8h1.1M152.5 276.4h1.1M154.2 264.4h1.1M155.6 273.4h1.1M157 278.8h1.1M157.2 282h1.1M155.8 267.5h1.1M161.7 280.3h1.1M163.1 280h1.1M159.2 274.5h1.1M148.9 290.1h1.1M158.1 275.2h1.1M161.3 269.9h1.1M158.5 277.8h1.1M160 263.9h1.1M159.3 284.7h1.1M152.2 281.2h1.1M165.9 272.8h1.1M161.6 278.9h1.1M156.5 278.5h1.1M160.7 286.9h1.1M157.5 271.5h1.1M158.1 267.4h1.1M164.9 262.9h1.1M153.5 273.4h1.1M158.8 265.7h1.1M153.9 274.2h1.1M159.1 277.7h1.1M160.9 272.5h1.1M161.7 269.5h1.1M159.5 282.4h1.1M152.7 274h1.1M159.9 276.6h1.1M162.8 281h1.1M163.3 267.3h1.1M168.4 269.6h1.1M161.3 290.4h1.1M154.3 274.2h1.1M156.5 268.9h1.1M159.2 273.7h1.1M163.5 271.7h1.1M153.7 267.7h1.1M162.9 272.7h1.1" stroke="#000" stroke-opacity="1.0" stroke-width="1.1" fill="none"/>
<rect x="46.6" y="215.2" width="137.8" height="137.6" fill="none" stroke="#000" stroke-width="1.6"/>
<path d="M42.4 352.8H46.6M46.6 352.8V356.9M44.3 342.4H46.6M57 352.8V355.1M44.3 336.3H46.6M63 352.8V355.1M44.3 332H46.6M67.3 352.8V355.1M43 328.7H46.6M70.7 352.8V356.4M44.3 326H46.6M73.4 352.8V355.1M44.3 323.7H46.6M75.7 352.8V355.1M44.3 321.7H46.6M77.7 352.8V355.1M44.3 319.9H46.6M79.5 352.8V355.1M42.4 318.4H46.6M81 352.8V356.9M44.3 308H46.6M91.4 352.8V355.1M44.3 302H46.6M97.5 352.8V355.1M44.3 297.7H46.6M101.8 352.8V355.1M43 294.3H46.6M105.1 352.8V356.4M44.3 291.6H46.6M107.8 352.8V355.1M44.3 289.3H46.6M110.1 352.8V355.1M44.3 287.3H46.6M112.1 352.8V355.1M44.3 285.5H46.6M113.9 352.8V355.1M42.4 284H46.6M115.5 352.8V356.9M44.3 273.6H46.6M125.8 352.8V355.1M44.3 267.6H46.6M131.9 352.8V355.1M44.3 263.3H46.6M136.2 352.8V355.1M43 259.9H46.6M139.5 352.8V356.4M44.3 257.2H46.6M142.3 352.8V355.1M44.3 254.9H46.6M144.6 352.8V355.1M44.3 252.9H46.6M146.6 352.8V355.1M44.3 251.2H46.6M148.3 352.8V355.1M42.4 249.6H46.6M149.9 352.8V356.9M44.3 239.2H46.6M160.3 352.8V355.1M44.3 233.2H46.6M166.3 352.8V355.1M44.3 228.9H46.6M170.6 352.8V355.1M43 225.6H46.6M174 352.8V356.4M44.3 222.8H46.6M176.7 352.8V355.1M44.3 220.5H46.6M179 352.8V355.1M44.3 218.5H46.6M181 352.8V355.1M44.3 216.8H46.6M182.8 352.8V355.1" stroke="#000" stroke-width="1.1" fill="none"/>
<text transform="translate(41 356.6) scale(0.92 1)" font-size="11.2" text-anchor="end" class="k">10<tspan font-size="6.2" dy="-3.7">0</tspan></text>
<text transform="translate(39.8 368.6) scale(0.92 1)" font-size="11.2" class="k">10<tspan font-size="6.2" dy="-3.7">0</tspan></text>
<text transform="translate(41 322.2) scale(0.92 1)" font-size="11.2" text-anchor="end" class="k">10<tspan font-size="6.2" dy="-3.7">1</tspan></text>
<text transform="translate(74.2 368.6) scale(0.92 1)" font-size="11.2" class="k">10<tspan font-size="6.2" dy="-3.7">1</tspan></text>
<text transform="translate(41 287.8) scale(0.92 1)" font-size="11.2" text-anchor="end" class="k">10<tspan font-size="6.2" dy="-3.7">2</tspan></text>
<text transform="translate(108.2 368.6) scale(0.92 1)" font-size="11.2" class="k">10<tspan font-size="6.2" dy="-3.7">2</tspan></text>
<text transform="translate(41 253.3) scale(0.92 1)" font-size="11.2" text-anchor="end" class="k">10<tspan font-size="6.2" dy="-3.7">3</tspan></text>
<text transform="translate(142.8 368.6) scale(0.92 1)" font-size="11.2" class="k">10<tspan font-size="6.2" dy="-3.7">3</tspan></text>
<rect x="144.6" y="243" width="30.1" height="39.5" fill="none" stroke="#000" stroke-width="1.65"/>
<text x="110.2" y="265.2" font-size="14.4" class="h">16%</text>
<path d="M319 298h1.1M316.7 283.8h1.1M316.9 285.3h1.1M313.5 302.7h1.1M316 285.8h1.1M321.2 287.1h1.1M313.2 295.1h1.1M317.8 289.2h1.1M318.9 289.1h1.1M314.1 300.1h1.1M316.5 291.9h1.1M316.4 288h1.1M312.9 286.3h1.1M317.7 286.4h1.1M313.2 289h1.1M323.7 297.5h1.1M320.6 295.5h1.1M305.3 299.2h1.1M316.5 291.1h1.1M320.4 291.9h1.1M319.3 299.9h1.1M310.8 288.3h1.1M316.6 295h1.1M309.4 286.9h1.1M310.2 287.4h1.1M314.1 293.1h1.1M316.2 273.3h1.1M323.2 285.5h1.1M317.1 291.4h1.1M320.5 288.2h1.1M309.4 296.6h1.1M309.6 289.4h1.1M312.9 287.5h1.1M323.9 281.2h1.1M308.7 282.7h1.1M307.5 291.6h1.1M314.9 275.5h1.1M321.1 302.6h1.1M307.2 293h1.1M314 299.6h1.1M308.6 281.2h1.1M322.4 287.7h1.1M318.7 294.9h1.1M316.6 275.2h1.1M315 279.1h1.1M314.1 285h1.1M316 290.1h1.1M312.1 296.9h1.1M310.9 291.1h1.1M309.8 293.7h1.1M315.3 276.3h1.1M311.3 278.1h1.1M319.6 293.1h1.1M304.9 281.2h1.1M318.1 281.9h1.1M317.9 295.7h1.1M321.3 278.5h1.1M314 286.2h1.1M307.8 296.4h1.1M310.7 289.8h1.1M320.9 301.8h1.1M313.8 296.4h1.1M313.2 287.7h1.1M312.4 302.1h1.1M314.9 299.6h1.1M314.1 299.2h1.1M307.5 286.1h1.1M312.3 280.9h1.1M320.3 282.9h1.1M322.4 288.1h1.1M314.7 301.2h1.1M312.7 285.1h1.1M322 295.1h1.1M314.4 280.9h1.1M309.4 291.8h1.1M314.6 299.3h1.1M318.7 297.8h1.1M323 287.8h1.1M312.9 304.3h1.1M317.9 300h1.1M313.6 280.2h1.1M320.9 288.1h1.1M316.5 286.5h1.1M316.6 289.8h1.1M310.4 287.8h1.1M313.7 275h1.1M313.6 296.6h1.1M320.7 304.9h1.1M319.5 288h1.1M315.2 290.8h1.1M314.2 305.3h1.1M313.5 286.2h1.1M315.4 299.9h1.1M316.4 298.5h1.1M308.8 286.1h1.1M315.9 287.8h1.1M315.8 286.9h1.1M315.4 300.4h1.1M307.9 289.4h1.1M314.6 300.9h1.1M308.9 291.4h1.1M317 277.4h1.1M321.8 295h1.1M319.5 309.4h1.1M313.6 292.8h1.1M312.6 291.6h1.1M312.4 300.5h1.1M317 284.1h1.1M311.9 283.9h1.1M312.6 284h1.1M308.4 290.4h1.1M311 292.5h1.1M311.4 281.1h1.1M312.6 294.6h1.1M321.3 277.2h1.1M308.5 294.1h1.1M308.7 302.8h1.1M318.2 287.1h1.1M310.4 299.3h1.1M314.4 281.5h1.1M316.1 282.7h1.1M315.3 288.3h1.1M311.4 282.6h1.1M319.8 290.3h1.1M322.7 272.2h1.1M310.3 296.1h1.1M313.9 297.7h1.1M319.9 298.4h1.1M314.2 287.4h1.1M310.3 295.1h1.1M313.1 296.4h1.1M319.4 283.6h1.1M310.3 284h1.1M316.5 299.6h1.1M317.1 300.2h1.1M312 295.9h1.1M318 294.4h1.1M318.5 299.5h1.1M320.2 288.8h1.1M319.9 282.5h1.1M307.8 273h1.1M319.7 291h1.1M318.1 291.5h1.1M320.1 295.7h1.1M311 293.4h1.1M319.7 297.2h1.1M317.1 293.7h1.1M309.5 285.9h1.1M321.5 298.7h1.1M311.4 293.9h1.1M310.2 294.8h1.1M317.2 285.1h1.1M312.3 305.9h1.1M317 285.3h1.1M314 294.2h1.1M316.6 295h1.1M319.3 295.4h1.1M315.1 281.5h1.1M319.5 294h1.1M319.4 290.4h1.1M311.1 308.8h1.1M319.5 294.5h1.1M318.3 287.7h1.1M315.9 297.6h1.1M320.8 297h1.1M323.4 287.8h1.1M319 292.6h1.1M308 300.5h1.1M317.4 318.6h1.1M314.6 289.3h1.1M313.9 304.8h1.1M317 280.2h1.1M313.7 314.5h1.1M323.3 278.9h1.1M316.6 293.7h1.1M315.4 310.4h1.1M319.1 302.6h1.1M319.2 301.5h1.1M321.1 294.9h1.1M318.4 301.2h1.1M315.1 285h1.1M315.9 311.1h1.1M304.8 317.2h1.1M308.2 316.7h1.1M320.4 306.6h1.1M313.7 322.5h1.1M324.1 312.9h1.1M323.9 319.1h1.1M309.2 312h1.1M316.8 307.5h1.1M311.8 297.5h1.1M311.4 273.9h1.1M317.2 315.2h1.1M314.1 305.6h1.1M314.2 332.1h1.1M313.9 282.1h1.1M315.2 317.6h1.1M319 295.1h1.1M311.3 307h1.1M317.8 295.9h1.1M311.8 311.4h1.1M317.9 306.7h1.1M316.8 318.1h1.1M311.5 308.9h1.1M316 313.1h1.1M311.8 323.1h1.1M311.2 313.6h1.1M321 305.4h1.1M306.6 322.6h1.1M318 305.6h1.1M318.7 312.2h1.1M312.4 303h1.1M320.7 298.7h1.1M319.8 269.4h1.1M309 315.8h1.1M317.9 292.6h1.1M317.5 316.3h1.1M311.8 329.7h1.1M318.1 290.5h1.1M318.9 318.1h1.1M311.7 305.9h1.1M305.6 312.8h1.1M317.3 292.1h1.1M311.6 307.5h1.1M306.9 309.1h1.1M313.5 325.1h1.1M323.7 334h1.1M313.6 311.1h1.1M322.7 302.5h1.1M309.1 335h1.1M317.5 305.8h1.1M310.8 306.4h1.1M313.3 308.4h1.1M310.8 313h1.1M318.4 316h1.1M315.2 299.9h1.1M311.4 305.8h1.1M309.1 330.7h1.1M313.3 327.3h1.1M320.9 312.7h1.1M309.3 310.6h1.1M317.3 304.3h1.1M316.9 320h1.1M305.4 300.7h1.1M320.7 308.7h1.1M315.1 301.4h1.1M326.3 299.4h1.1M323.8 307.7h1.1M314.1 307.2h1.1M314.5 299.9h1.1M310.3 306.4h1.1M308.5 308h1.1M319.2 301.3h1.1M314 299h1.1M313.3 305.5h1.1M314.5 316h1.1M318.6 321.1h1.1M319.9 309.5h1.1M315.3 303.8h1.1M314.3 306.8h1.1M315.8 331.2h1.1M325.3 318.7h1.1M305 295.3h1.1M309.6 306.6h1.1M317.6 300.6h1.1M316 302.6h1.1M321.4 286.1h1.1M321.8 307.6h1.1M325.2 290.2h1.1M311.3 299.8h1.1M318.2 326.3h1.1M314.1 319.8h1.1M320.1 296.3h1.1M316.2 294.2h1.1M319.7 295.8h1.1M311.6 283.6h1.1M316.1 294.9h1.1M312.8 303.8h1.1M314 294.1h1.1M313.1 316.7h1.1M310.2 306.6h1.1M320.9 300.6h1.1M316.7 329.2h1.1M320.6 316.1h1.1M310.4 308.1h1.1M306.1 330.5h1.1M312.2 323.7h1.1M314.6 298.4h1.1M319.2 311.3h1.1M320.3 331.9h1.1M321 333.7h1.1M322.5 335.7h1.1M318.6 341.4h1.1M315.8 333.3h1.1M311.5 304.1h1.1M318.5 334.6h1.1M313 335.2h1.1M311.5 330.2h1.1M318.2 310.5h1.1M316.4 314.3h1.1M319.3 336.2h1.1M312.1 342.8h1.1M321.1 305.7h1.1M317 342.4h1.1M314.5 327.6h1.1M311.8 336.2h1.1M310.4 343.5h1.1M308.6 306.4h1.1M321.7 340.9h1.1M308.8 341.6h1.1M318.3 328.4h1.1M314.1 317.3h1.1M312.6 333.7h1.1M313.1 334.3h1.1M314.9 325.1h1.1M319.6 331.3h1.1M317.9 341.3h1.1M315.3 343.8h1.1M309.3 350.6h1.1M324.6 301.7h1.1M310.8 348.9h1.1M308.3 347.8h1.1M307.8 281.2h1.1M319 270.5h1.1M320 291.7h1.1M316.6 276.2h1.1M320.1 294h1.1M308.4 282.4h1.1M309.2 280.9h1.1M314.4 274h1.1M315.3 276.7h1.1M314.9 280.9h1.1M311.6 284.8h1.1M317.3 275.7h1.1M319.4 280.9h1.1" stroke="#000" stroke-opacity="1.0" stroke-width="1.1" fill="none"/>
<rect x="211.7" y="215.2" width="137.8" height="137.6" fill="none" stroke="#000" stroke-width="1.6"/>
<path d="M207.5 352.8H211.7M211.7 352.8V356.9M209.4 342.4H211.7M222.1 352.8V355.1M209.4 336.3H211.7M228.1 352.8V355.1M209.4 332H211.7M232.4 352.8V355.1M208.1 328.7H211.7M235.8 352.8V356.4M209.4 326H211.7M238.5 352.8V355.1M209.4 323.7H211.7M240.8 352.8V355.1M209.4 321.7H211.7M242.8 352.8V355.1M209.4 319.9H211.7M244.6 352.8V355.1M207.5 318.4H211.7M246.1 352.8V356.9M209.4 308H211.7M256.5 352.8V355.1M209.4 302H211.7M262.6 352.8V355.1M209.4 297.7H211.7M266.9 352.8V355.1M208.1 294.3H211.7M270.2 352.8V356.4M209.4 291.6H211.7M272.9 352.8V355.1M209.4 289.3H211.7M275.2 352.8V355.1M209.4 287.3H211.7M277.2 352.8V355.1M209.4 285.5H211.7M279 352.8V355.1M207.5 284H211.7M280.6 352.8V356.9M209.4 273.6H211.7M290.9 352.8V355.1M209.4 267.6H211.7M297 352.8V355.1M209.4 263.3H211.7M301.3 352.8V355.1M208.1 259.9H211.7M304.6 352.8V356.4M209.4 257.2H211.7M307.4 352.8V355.1M209.4 254.9H211.7M309.7 352.8V355.1M209.4 252.9H211.7M311.7 352.8V355.1M209.4 251.2H211.7M313.4 352.8V355.1M207.5 249.6H211.7M315 352.8V356.9M209.4 239.2H211.7M325.4 352.8V355.1M209.4 233.2H211.7M331.4 352.8V355.1M209.4 228.9H211.7M335.7 352.8V355.1M208.1 225.6H211.7M339.1 352.8V356.4M209.4 222.8H211.7M341.8 352.8V355.1M209.4 220.5H211.7M344.1 352.8V355.1M209.4 218.5H211.7M346.1 352.8V355.1M209.4 216.8H211.7M347.9 352.8V355.1" stroke="#000" stroke-width="1.1" fill="none"/>
<text transform="translate(206.6 356.6) scale(0.92 1)" font-size="11.2" text-anchor="end" class="k">10<tspan font-size="6.2" dy="-3.7">0</tspan></text>
<text transform="translate(203.4 368.6) scale(0.92 1)" font-size="11.2" class="k">10<tspan font-size="6.2" dy="-3.7">0</tspan></text>
<text transform="translate(206.6 322.2) scale(0.92 1)" font-size="11.2" text-anchor="end" class="k">10<tspan font-size="6.2" dy="-3.7">1</tspan></text>
<text transform="translate(237.5 368.6) scale(0.92 1)" font-size="11.2" class="k">10<tspan font-size="6.2" dy="-3.7">1</tspan></text>
<text transform="translate(206.6 287.8) scale(0.92 1)" font-size="11.2" text-anchor="end" class="k">10<tspan font-size="6.2" dy="-3.7">2</tspan></text>
<text transform="translate(271.8 368.6) scale(0.92 1)" font-size="11.2" class="k">10<tspan font-size="6.2" dy="-3.7">2</tspan></text>
<text transform="translate(206.6 253.3) scale(0.92 1)" font-size="11.2" text-anchor="end" class="k">10<tspan font-size="6.2" dy="-3.7">3</tspan></text>
<text transform="translate(308.2 368.6) scale(0.92 1)" font-size="11.2" class="k">10<tspan font-size="6.2" dy="-3.7">3</tspan></text>
<rect x="301.7" y="243" width="29.9" height="39.5" fill="none" stroke="#000" stroke-width="1.65"/>
<text x="271.6" y="267.2" font-size="14.4" class="h">6%</text>
<path d="M487.3 289.6h1.1M488.1 297.6h1.1M487.5 299.1h1.1M485.7 292.5h1.1M488.4 299h1.1M491.7 301h1.1M485.8 307.9h1.1M486.6 294.5h1.1M489.4 295.6h1.1M485.2 285h1.1M491.3 298h1.1M490.7 299.2h1.1M482.7 297.3h1.1M485.6 296.5h1.1M484 304.6h1.1M491.1 297.6h1.1M491.6 296h1.1M483.5 297.8h1.1M485.5 301.4h1.1M487.7 293.7h1.1M486.7 304.1h1.1M490.7 283.6h1.1M491.7 285.7h1.1M490.3 285.7h1.1M492.1 279.4h1.1M491.5 301.2h1.1M487.8 293.8h1.1M486.4 297.1h1.1M485.3 292.4h1.1M491.1 292.4h1.1M491.4 296.8h1.1M491.8 289.3h1.1M486.8 304.5h1.1M486.6 311h1.1M489 297.5h1.1M492.7 312.8h1.1M489.4 301.5h1.1M488.9 297.4h1.1M485 299.3h1.1M489.7 292.4h1.1M490.1 298.9h1.1M484.5 283.3h1.1M494.6 303.6h1.1M484.6 301.9h1.1M491.5 289.4h1.1M487.3 300.4h1.1M488.7 284.7h1.1M485.1 293h1.1M485.9 305.7h1.1M490.7 295.4h1.1M487.3 283.6h1.1M486.8 294.3h1.1M491.4 303.5h1.1M490.7 290.1h1.1M488.7 312.7h1.1M488.9 301.9h1.1M494.5 298.9h1.1M487.4 300.9h1.1M489.5 289.2h1.1M489.6 304.2h1.1M482.8 295.8h1.1M480.8 283.3h1.1M488.5 300.8h1.1M491.3 303.5h1.1M488.8 294.8h1.1M486.1 297.9h1.1M485.6 291.5h1.1M491.1 294.1h1.1M486.9 301.3h1.1M482 290.1h1.1M490.6 286.5h1.1M488.9 296h1.1M489.5 303h1.1M491.9 290h1.1M493 297.9h1.1M490.1 304h1.1M487.4 285.2h1.1M480.1 289.3h1.1M489.2 294.5h1.1M487.5 299.4h1.1M492.8 291.3h1.1M489.8 301h1.1M493.2 296h1.1M487.8 300h1.1M487.9 279.5h1.1M484.9 298.5h1.1M486.9 308.4h1.1M488.8 309.2h1.1M492 296.5h1.1M485.3 287h1.1M491 301.8h1.1M489.7 285.9h1.1M483 300.2h1.1M487.1 293.6h1.1M488.1 294.1h1.1M491.8 303.8h1.1M495.4 308.2h1.1M492.7 302.5h1.1M487.9 296.7h1.1M484.9 299h1.1M487.8 284.3h1.1M487.9 298.5h1.1M489 302.9h1.1M484.7 304.2h1.1M493.8 301.5h1.1M485.3 293h1.1M490.6 304.9h1.1M488.8 300.3h1.1M483.9 295.5h1.1M488.3 304.2h1.1M488.1 287.6h1.1M487.3 310.9h1.1M491.1 306.1h1.1M486.3 305.4h1.1M484 295.7h1.1M492.3 302.6h1.1M484.6 295.2h1.1M494.5 295.9h1.1M492.7 292.7h1.1M489 294.8h1.1M488.3 296.6h1.1M484.4 303.7h1.1M482.6 297.1h1.1M481.1 296.3h1.1M493.7 300.9h1.1M494.1 300.5h1.1M486 305.5h1.1M495.1 300.2h1.1M481.1 299.3h1.1M490.7 298.3h1.1M490.7 308h1.1M484.8 294h1.1M486.3 284.9h1.1M484.1 286.1h1.1M488.2 308.9h1.1M493 299h1.1M491.8 302.2h1.1M489.6 285.2h1.1M492.2 295.4h1.1M481.3 296.1h1.1M495.6 302.3h1.1M487.8 311h1.1M483.1 293h1.1M486.6 284.6h1.1M485.6 304.4h1.1M488.4 302.9h1.1M489.2 285.9h1.1M488.5 303h1.1M492.8 301.3h1.1M494.5 297h1.1M484.1 289.2h1.1M493.6 293.8h1.1M492.8 297.5h1.1M491.8 290.6h1.1M494.2 290.5h1.1M482.8 295.1h1.1M490.8 300.5h1.1M484.2 302.6h1.1M483.9 298h1.1M484.4 303.6h1.1M483.4 297.4h1.1M492.3 298.8h1.1M490.4 302.4h1.1M488.1 282.4h1.1M488.5 295.8h1.1M490.3 303.5h1.1M494.5 289.8h1.1M485.3 302.2h1.1M485.9 280.8h1.1M485.8 297.4h1.1M487.7 289h1.1M488.1 289.5h1.1M483.1 298.5h1.1M489.2 289.2h1.1M483.2 293.6h1.1M486.8 290.6h1.1M487.1 303.8h1.1M487.1 295.5h1.1M493.6 296.7h1.1M494.2 297.5h1.1M492.1 308.1h1.1M494 284.4h1.1M486.9 296.6h1.1M493.3 300.3h1.1M487.8 295.5h1.1M488.9 311.5h1.1M489 306.4h1.1M482.9 287.1h1.1M485.7 290.1h1.1M487.4 305.9h1.1M489.4 289.4h1.1M487.5 294.3h1.1M484.8 280.3h1.1M483.6 295.4h1.1M488 304.2h1.1M483.5 289.5h1.1M483.5 297.8h1.1M487.6 301.5h1.1M488.7 301.8h1.1M484.9 307.9h1.1M481.3 304h1.1M489.1 302.7h1.1M491.1 282.7h1.1M486.5 299.5h1.1M486.6 288.3h1.1M482.3 309.3h1.1M491.4 291.1h1.1M483.8 300.1h1.1M490.7 297h1.1M485.8 294.5h1.1M487.5 280.5h1.1M487.3 309h1.1M481.2 301.3h1.1M483.7 303.8h1.1M482.1 290.4h1.1M488.4 298.7h1.1M484.9 304.2h1.1M487.1 294.1h1.1M493.2 295.6h1.1M480.9 296h1.1M487.5 300.5h1.1M489.9 299.6h1.1M488.5 305.2h1.1M489.5 302.9h1.1M485.2 289.4h1.1M481.8 291.5h1.1M483 303.1h1.1M486.4 300.8h1.1M490.8 294.8h1.1M488.3 297.3h1.1M494.1 282.7h1.1M488.4 300.8h1.1M488.7 306.7h1.1M488.8 301.1h1.1M481.4 293.5h1.1M490.2 301.3h1.1M483.8 302.2h1.1M486.6 293h1.1M488.4 292.4h1.1M483.3 306.6h1.1M488.5 297.1h1.1M489.1 290.4h1.1M488.5 297.3h1.1M488 293.5h1.1M485.9 296.7h1.1M495.6 295.9h1.1M480.4 310.3h1.1M484.1 289.7h1.1M493.6 299.9h1.1M490.1 292.4h1.1M485.1 305.5h1.1M484.6 293.8h1.1M487.1 299.1h1.1M489.4 308.3h1.1M489.9 289.9h1.1M484.1 291.7h1.1M488.9 286.4h1.1M485.6 290.2h1.1M493.7 287.8h1.1M489.1 287h1.1M492.8 288.8h1.1M488.6 287.4h1.1M495.7 299.7h1.1M489.6 306.8h1.1M489.1 286h1.1M484.1 294.4h1.1M486.4 293.7h1.1M489.5 287.9h1.1M486.1 288.3h1.1M482.2 304.2h1.1M488 299.6h1.1M485.1 305.5h1.1M491.8 295.2h1.1M486 291.3h1.1M489.5 299.9h1.1M487.6 296.1h1.1M485.3 291.3h1.1M493.3 290.8h1.1M488.3 292h1.1M492.1 300.8h1.1M486.7 295.9h1.1M482.6 292.1h1.1M483.3 294.1h1.1M486 298.7h1.1M487.3 303.9h1.1M488.2 289.4h1.1M489.9 303.6h1.1M483.3 291.9h1.1M488.9 299.9h1.1M483.4 299.1h1.1M485.4 292.5h1.1M492 298.3h1.1M492.8 311.4h1.1M486.6 293.3h1.1M494.8 298.4h1.1M493.4 291.9h1.1M491.4 295.5h1.1M493.6 295.5h1.1M487.1 299.5h1.1M487.5 303.5h1.1M484.7 306.1h1.1M490.2 294.5h1.1M483.3 307.4h1.1M486.1 284.6h1.1M489.7 296.1h1.1M486.1 302.1h1.1M489.3 297.8h1.1M494.9 299.6h1.1M484.3 303.2h1.1M493.3 297.3h1.1M485.4 305.1h1.1M484.5 297.7h1.1M488.9 293.5h1.1M491.9 292.2h1.1M485.3 306.7h1.1M485.2 297.3h1.1M486.3 301.4h1.1M485.3 293h1.1M488.7 301.3h1.1M485.3 316.8h1.1M487.1 317.7h1.1M489.3 320.4h1.1M486.5 335.4h1.1M492.4 304.3h1.1M485.6 336.7h1.1M495.5 323.8h1.1M493.7 301.8h1.1M488.3 336.7h1.1M491.2 301h1.1M489.3 325.1h1.1M486.1 299.7h1.1M490.6 298h1.1M489.1 321.9h1.1M492.7 322.7h1.1M481 303.3h1.1M490.8 341.7h1.1M488.6 308h1.1M485.5 331.3h1.1M486.4 299.4h1.1M486.5 300.1h1.1M483 313.1h1.1M485.8 299.5h1.1M490.9 317.6h1.1M482.2 285.4h1.1M486.6 314.2h1.1M487.8 305h1.1M485.8 300.1h1.1M489.5 314.6h1.1M487.8 309.2h1.1M488.2 306.4h1.1M483.9 322h1.1M490.1 315.6h1.1M484.6 316.7h1.1M491.3 328.4h1.1M488.8 311.1h1.1M486.6 322.3h1.1M493.6 306.8h1.1M486.5 319.5h1.1M491.8 318.5h1.1M488.4 305.2h1.1M488 293.3h1.1M491.8 296.2h1.1M489.7 300.3h1.1M488 318.8h1.1M487.6 310.3h1.1M488.8 308.3h1.1M488.3 317.8h1.1M486.8 321h1.1M484.2 329.2h1.1M495.6 304.6h1.1M487.6 318.7h1.1M487.1 320.7h1.1M492.6 300.2h1.1M489.7 313.5h1.1M492.3 300.7h1.1M494.6 309.2h1.1M487.6 317.2h1.1M484.8 291h1.1M491.1 301.2h1.1M485.7 302h1.1M487 313.1h1.1M493.5 302.9h1.1M490.1 316.6h1.1M492.2 301.4h1.1M482.9 305.6h1.1M488.1 319.4h1.1M492.2 315.9h1.1M483.2 313.8h1.1M488.8 311.5h1.1M489.5 324.3h1.1M486.4 328.9h1.1M494 307.4h1.1M485.3 303h1.1M487.5 299.2h1.1M494 333.3h1.1M481.2 301h1.1M489.8 295.7h1.1M486.3 315.3h1.1M488.2 324.9h1.1M484.9 296.8h1.1M493.2 310.4h1.1M483.8 294.3h1.1M489.4 303.4h1.1M490 332h1.1M487.7 314h1.1M487 308.8h1.1M487 312.8h1.1M491.8 315.4h1.1M489.7 310.7h1.1M487.7 297.4h1.1M483.9 297.4h1.1M488.6 336.7h1.1M490 302.6h1.1M487.9 326.7h1.1M493.5 303.1h1.1M481 328h1.1M487.4 320.5h1.1M487.3 309.4h1.1M484 336.7h1.1M481.4 300.5h1.1M491.3 309.1h1.1M490.2 301.4h1.1M487.2 302.4h1.1M487.8 307.5h1.1M488.7 300.2h1.1M486.4 308h1.1M492.2 331.4h1.1M490.4 290.6h1.1M487.6 296.5h1.1M481.8 300.3h1.1M493.2 306.2h1.1M486.3 324.4h1.1M484.2 320.8h1.1M492.8 317.9h1.1M489.9 314.5h1.1M481 341.4h1.1M481.7 298.1h1.1M486.5 297.8h1.1M483.3 311.7h1.1M487.4 314.5h1.1M492.6 309.1h1.1M486.6 301.6h1.1M487.9 295.9h1.1M491.1 308.6h1.1M491.4 303.3h1.1M487.6 306.1h1.1M482.4 298.7h1.1M491.9 328.5h1.1M487.4 317.5h1.1M489.7 334.8h1.1M490.7 305.6h1.1M485 312.7h1.1M494.4 308.9h1.1M488.3 312.2h1.1M488.9 308.8h1.1M486.4 310h1.1M490.7 287.7h1.1M491.9 308.6h1.1M486 320.5h1.1M490.3 288h1.1M486.4 307.7h1.1M483.4 319h1.1M486.8 327.5h1.1M490.3 310.9h1.1M490.1 317.6h1.1M491.9 333.5h1.1M485.6 327.9h1.1M486.9 306.4h1.1M488.3 304.6h1.1M490.3 324.5h1.1M487.6 314.7h1.1M484.4 305.3h1.1M482.2 309.1h1.1M492.5 315.9h1.1M492.1 309.5h1.1M485.5 308.9h1.1M493.6 309.1h1.1M487.8 293.7h1.1M489.7 333.3h1.1M492.7 327h1.1M486.3 330.6h1.1M485.1 310.3h1.1M481.5 313.5h1.1M489.2 319.1h1.1M489.7 322.1h1.1M491.3 289.5h1.1M490.3 316.3h1.1M488.5 299.7h1.1M492.4 311.1h1.1M484.2 303.8h1.1M489.5 332.9h1.1M490 318.6h1.1M487.6 311.7h1.1M494.4 329.1h1.1M489.7 311.1h1.1M493.2 303.1h1.1M491.5 309.7h1.1M487.4 307.5h1.1M495.4 312.6h1.1M492.2 322.3h1.1M488.1 310.5h1.1M487.6 311.2h1.1M484.2 324.4h1.1M487.5 315.5h1.1M487.2 323.6h1.1M488.9 313.6h1.1M486.4 296h1.1M490.2 298.2h1.1M487.7 291.6h1.1M482.2 326h1.1M486.2 317.1h1.1M484.6 306.2h1.1M483.2 299.8h1.1M487.1 316.4h1.1M491.5 310.4h1.1M483.9 315.9h1.1M480.4 301.6h1.1M487.4 298.4h1.1M492.3 331.3h1.1M485.8 300.3h1.1M489.1 311.7h1.1M486.6 328.4h1.1M491.3 289.5h1.1M493.4 320.6h1.1M487.5 312.8h1.1M492.6 310.2h1.1M484 315.3h1.1M488.9 297.4h1.1M483.2 284.7h1.1M488.7 335.2h1.1M485.7 308.5h1.1M489 322.9h1.1M483.9 325.6h1.1M488.9 315.5h1.1M488.5 317.6h1.1M486 320.7h1.1M485.2 331.3h1.1M483.6 318h1.1M486.6 327.5h1.1M489.6 308.4h1.1M487.6 306.8h1.1M488.7 313h1.1M492.8 316.9h1.1M486.9 318.6h1.1M489.1 335.9h1.1M491.2 322.3h1.1M490 312.8h1.1M489.5 336.4h1.1M488.4 316h1.1M495.3 316.4h1.1M487.8 318.1h1.1M486.6 308h1.1M490.3 298.7h1.1M494.3 313.6h1.1M493.5 308.2h1.1M488.2 301.4h1.1M491.2 313.5h1.1M490 309.6h1.1M488.4 304.8h1.1M490.6 290.3h1.1M490.4 310h1.1M488.6 333.6h1.1M494.5 322.9h1.1M486.7 325.3h1.1M493.4 311.8h1.1M495.8 325h1.1M496.1 303.8h1.1M489.1 306.4h1.1M487.4 318.4h1.1M482 294.6h1.1M487.9 312.7h1.1M488.6 315.7h1.1M482.4 332.7h1.1M482.2 303.5h1.1M491.2 317.2h1.1M490.5 304.1h1.1M481.6 335.1h1.1M487.9 320.1h1.1M489.4 323.2h1.1M491.7 307.2h1.1M483.2 327.7h1.1M492 347h1.1M488.8 340.3h1.1M485.6 335.8h1.1M482 315.5h1.1M486.8 320.7h1.1M487.6 335.3h1.1M485.9 322.5h1.1M487.4 350.2h1.1M491.1 345.8h1.1M484.9 343.3h1.1M487.3 319.6h1.1M489.8 328h1.1M488 346.8h1.1M491.3 322.2h1.1M486.8 328.6h1.1M488.9 332.6h1.1M482.4 343.7h1.1M486.8 312h1.1M490.5 337.7h1.1M484.1 336.8h1.1M493.1 316.1h1.1M481 316.3h1.1M493.2 307.3h1.1M486.2 326.3h1.1M484.5 338.5h1.1M486.2 310.5h1.1M487.1 333.1h1.1M484.3 316.5h1.1M483.3 345.9h1.1M486.1 310.3h1.1M491.7 305.2h1.1M489.5 339.5h1.1M493 325.6h1.1M486 349.5h1.1M486.8 327.3h1.1M486.9 344.7h1.1M488.6 331.4h1.1M489.7 331.9h1.1M494.5 327.3h1.1M490.5 340.9h1.1M488.7 307.6h1.1M492.7 345.5h1.1M485.3 339.3h1.1M483.5 342.3h1.1M490.6 312.4h1.1M488.6 341.7h1.1M488.5 333h1.1M491.3 341.7h1.1M486.9 333.5h1.1M487.7 348.7h1.1M489.4 345.5h1.1M490.4 335.5h1.1M488.5 333.2h1.1M489 325.3h1.1M493.8 347.6h1.1M492.6 317.2h1.1M482.6 343.8h1.1M487.9 334.5h1.1M486.8 292.5h1.1M482 280.4h1.1M494.2 281.8h1.1M485.9 279.7h1.1M487.4 291.1h1.1M490.8 299.9h1.1M491 293.7h1.1M487.6 287.9h1.1M492.3 289.6h1.1M484.6 281.9h1.1M490.6 280.8h1.1M490.7 294.4h1.1M485.5 281.9h1.1M486.4 279.2h1.1M493.7 279.8h1.1M483.8 285.6h1.1M483.6 280.4h1.1M490.2 284.4h1.1M487 285.5h1.1M486.4 293.7h1.1M496.1 286.4h1.1M484.1 279.4h1.1M487 281.3h1.1M488.7 295.7h1.1M484.4 288.7h1.1M487.9 281.6h1.1M489.9 287.8h1.1M484.6 284.2h1.1M492.3 292.1h1.1M483.7 280.9h1.1M487.5 287.7h1.1" stroke="#000" stroke-opacity="1.0" stroke-width="1.1" fill="none"/>
<rect x="377.7" y="215.2" width="137.8" height="137.6" fill="none" stroke="#000" stroke-width="1.6"/>
<path d="M373.5 352.8H377.7M377.7 352.8V356.9M375.4 342.4H377.7M388.1 352.8V355.1M375.4 336.3H377.7M394.1 352.8V355.1M375.4 332H377.7M398.4 352.8V355.1M374.1 328.7H377.7M401.8 352.8V356.4M375.4 326H377.7M404.5 352.8V355.1M375.4 323.7H377.7M406.8 352.8V355.1M375.4 321.7H377.7M408.8 352.8V355.1M375.4 319.9H377.7M410.6 352.8V355.1M373.5 318.4H377.7M412.1 352.8V356.9M375.4 308H377.7M422.5 352.8V355.1M375.4 302H377.7M428.6 352.8V355.1M375.4 297.7H377.7M432.9 352.8V355.1M374.1 294.3H377.7M436.2 352.8V356.4M375.4 291.6H377.7M438.9 352.8V355.1M375.4 289.3H377.7M441.2 352.8V355.1M375.4 287.3H377.7M443.2 352.8V355.1M375.4 285.5H377.7M445 352.8V355.1M373.5 284H377.7M446.6 352.8V356.9M375.4 273.6H377.7M456.9 352.8V355.1M375.4 267.6H377.7M463 352.8V355.1M375.4 263.3H377.7M467.3 352.8V355.1M374.1 259.9H377.7M470.6 352.8V356.4M375.4 257.2H377.7M473.4 352.8V355.1M375.4 254.9H377.7M475.7 352.8V355.1M375.4 252.9H377.7M477.7 352.8V355.1M375.4 251.2H377.7M479.4 352.8V355.1M373.5 249.6H377.7M481 352.8V356.9M375.4 239.2H377.7M491.4 352.8V355.1M375.4 233.2H377.7M497.4 352.8V355.1M375.4 228.9H377.7M501.7 352.8V355.1M374.1 225.6H377.7M505.1 352.8V356.4M375.4 222.8H377.7M507.8 352.8V355.1M375.4 220.5H377.7M510.1 352.8V355.1M375.4 218.5H377.7M512.1 352.8V355.1M375.4 216.8H377.7M513.9 352.8V355.1" stroke="#000" stroke-width="1.1" fill="none"/>
<text transform="translate(372.1 356.6) scale(0.92 1)" font-size="11.2" text-anchor="end" class="k">10<tspan font-size="6.2" dy="-3.7">0</tspan></text>
<text transform="translate(370.9 368.6) scale(0.92 1)" font-size="11.2" class="k">10<tspan font-size="6.2" dy="-3.7">0</tspan></text>
<text transform="translate(372.1 322.2) scale(0.92 1)" font-size="11.2" text-anchor="end" class="k">10<tspan font-size="6.2" dy="-3.7">1</tspan></text>
<text transform="translate(404.7 368.6) scale(0.92 1)" font-size="11.2" class="k">10<tspan font-size="6.2" dy="-3.7">1</tspan></text>
<text transform="translate(372.1 287.8) scale(0.92 1)" font-size="11.2" text-anchor="end" class="k">10<tspan font-size="6.2" dy="-3.7">2</tspan></text>
<text transform="translate(437.8 368.6) scale(0.92 1)" font-size="11.2" class="k">10<tspan font-size="6.2" dy="-3.7">2</tspan></text>
<text transform="translate(372.1 253.3) scale(0.92 1)" font-size="11.2" text-anchor="end" class="k">10<tspan font-size="6.2" dy="-3.7">3</tspan></text>
<text transform="translate(474.2 368.6) scale(0.92 1)" font-size="11.2" class="k">10<tspan font-size="6.2" dy="-3.7">3</tspan></text>
<rect x="479" y="243" width="30" height="39.5" fill="none" stroke="#000" stroke-width="1.65"/>
<text x="437.5" y="267.2" font-size="14.4" class="h">0.1%</text>
<path d="M489 254.8h1.1" stroke="#000" stroke-opacity="0.6" stroke-width="1.1" fill="none"/>
<line x1="46.2" y1="381" x2="261" y2="381" stroke="#111" stroke-width="1.0"/>
<line x1="302.5" y1="381" x2="515.7" y2="381" stroke="#111" stroke-width="1.0"/>
<text x="284" y="386" font-size="14" text-anchor="middle" class="h">CD8</text>
</g>
<g id="secB">
<text x="1.3" y="422.2" font-size="20.4" font-weight="bold" class="b">B</text>
<text x="95.6" y="428.7" font-size="14.5" class="h">IL-17A<tspan font-size="8.5" dy="-5.2" stroke-width="0.1">+</tspan><tspan dy="5.2">CD4</tspan><tspan font-size="8.5" dy="-5.2" stroke-width="0.1">+</tspan><tspan dy="5.2"> cells</tspan></text>
<text transform="translate(15.3 581.2) rotate(-90)" font-size="14.5" class="h">CD4<tspan font-size="8.5" dy="-5.2" stroke-width="0.1">+</tspan><tspan dy="5.2"> cells (millions)</tspan></text>
<path d="M57 442.3V591.8H254.4" fill="none" stroke="#000" stroke-width="1.65"/>
<line x1="50.8" y1="591.8" x2="57" y2="591.8" stroke="#111" stroke-width="1.4"/>
<text x="48.8" y="597.3" font-size="15" text-anchor="end" class="h">0.0</text>
<line x1="50.8" y1="542.2" x2="57" y2="542.2" stroke="#111" stroke-width="1.4"/>
<text x="48.8" y="547.7" font-size="15" text-anchor="end" class="h">0.5</text>
<line x1="50.8" y1="492.6" x2="57" y2="492.6" stroke="#111" stroke-width="1.4"/>
<text x="48.8" y="498.1" font-size="15" text-anchor="end" class="h">1.0</text>
<line x1="50.8" y1="443" x2="57" y2="443" stroke="#111" stroke-width="1.4"/>
<text x="48.8" y="448.5" font-size="15" text-anchor="end" class="h">1.5</text>
<rect x="83" y="486.6" width="31.5" height="105.8" fill="#000"/>
<line x1="98.8" y1="486.6" x2="98.8" y2="454.5" stroke="#111" stroke-width="1.3"/>
<line x1="93.6" y1="454.5" x2="105" y2="454.5" stroke="#111" stroke-width="1.3"/>
<rect x="140.6" y="587.6" width="31.6" height="4.8" fill="#000"/>
<line x1="156.4" y1="587.6" x2="156.4" y2="586.3" stroke="#111" stroke-width="1.3"/>
<line x1="150.6" y1="586.3" x2="162.4" y2="586.3" stroke="#111" stroke-width="1.3"/>
<rect x="205.8" y="590.3" width="32.2" height="2.1" fill="#000"/>
<line x1="221.9" y1="590.3" x2="221.9" y2="589.4" stroke="#111" stroke-width="1.3"/>
<line x1="215.2" y1="589.4" x2="227.2" y2="589.4" stroke="#111" stroke-width="1.3"/>
<text x="98.6" y="610.3" font-size="14.3" text-anchor="middle" class="h">B6 LN</text>
<text x="156.2" y="610.3" font-size="14.3" text-anchor="middle" class="h">TBI only</text>
<text x="221.6" y="610.3" font-size="14.3" text-anchor="middle" class="h">Untreated</text>
<text x="357.6" y="428.7" font-size="14.5" class="h">IL-17A<tspan font-size="8.5" dy="-5.2" stroke-width="0.1">+</tspan><tspan dy="5.2">CD8</tspan><tspan font-size="8.5" dy="-5.2" stroke-width="0.1">+</tspan><tspan dy="5.2"> cells</tspan></text>
<text transform="translate(285.6 580.4) rotate(-90)" font-size="14.5" class="h">CD8<tspan font-size="8.5" dy="-5.2" stroke-width="0.1">+</tspan><tspan dy="5.2"> cells (millions)</tspan></text>
<path d="M319 442.3V591.8H516.4" fill="none" stroke="#000" stroke-width="1.65"/>
<line x1="312.8" y1="591.8" x2="319" y2="591.8" stroke="#111" stroke-width="1.4"/>
<text x="310.8" y="597.3" font-size="15" text-anchor="end" class="h">0</text>
<line x1="312.8" y1="542.2" x2="319" y2="542.2" stroke="#111" stroke-width="1.4"/>
<text x="310.8" y="547.7" font-size="15" text-anchor="end" class="h">1</text>
<line x1="312.8" y1="492.6" x2="319" y2="492.6" stroke="#111" stroke-width="1.4"/>
<text x="310.8" y="498.1" font-size="15" text-anchor="end" class="h">2</text>
<line x1="312.8" y1="443" x2="319" y2="443" stroke="#111" stroke-width="1.4"/>
<text x="310.8" y="448.5" font-size="15" text-anchor="end" class="h">3</text>
<rect x="345" y="491.8" width="31.5" height="100.6" fill="#000"/>
<line x1="360.8" y1="491.8" x2="360.8" y2="487.4" stroke="#111" stroke-width="1.3"/>
<line x1="354.6" y1="487.4" x2="367" y2="487.4" stroke="#111" stroke-width="1.3"/>
<rect x="402.8" y="588.7" width="31.2" height="3.7" fill="#000"/>
<line x1="418.4" y1="588.7" x2="418.4" y2="587.8" stroke="#111" stroke-width="1.3"/>
<line x1="412.4" y1="587.8" x2="424.4" y2="587.8" stroke="#111" stroke-width="1.3"/>
<rect x="467.6" y="584.8" width="31.4" height="7.6" fill="#000"/>
<text x="360.6" y="610.3" font-size="14.3" text-anchor="middle" class="h">B6 LN</text>
<text x="418.2" y="610.3" font-size="14.3" text-anchor="middle" class="h">TBI only</text>
<text x="483.6" y="610.3" font-size="14.3" text-anchor="middle" class="h">Untreated</text>
</g>
<g id="secC">
<text x="1.3" y="651.3" font-size="20.4" font-weight="bold" class="b">C</text>
<line x1="34.7" y1="658.4" x2="34.7" y2="721.3" stroke="#111" stroke-width="1.0"/>
<line x1="34.7" y1="760.6" x2="34.7" y2="827" stroke="#111" stroke-width="1.0"/>
<text transform="translate(39.4 758.1) rotate(-90)" font-size="14.4" class="h">IL-17</text>
<path d="M91.9 822.5h1M82 818.8h1M85.6 807.8h1M100.5 823.8h1M83.7 804.6h1M81 816h1M84.6 810.7h1M87.3 817.5h1M94.5 807.3h1M85.4 811.3h1M89.5 808.9h1M81.8 823h1M109 806.2h1M93.3 823.8h1M87.8 814.2h1M96.1 807.8h1M91.5 813.1h1M75.8 807.9h1M89.6 810.4h1M114.7 811h1M99 817.8h1M108.2 804.1h1M82.9 803.2h1M75 815.7h1M82.5 818.4h1M110.6 810.1h1M78.4 817.3h1M81.2 810.6h1M107.2 805.6h1M88.6 806.7h1M89.4 800.6h1M97.3 808.2h1M93.3 819.5h1M87.9 818.1h1M95.5 807.7h1M82.3 797.4h1M91.5 814.3h1M101.1 818.5h1M77.5 801.3h1M89.2 812.6h1M76.4 806.5h1M102.3 803.6h1M100.5 819h1M105 814.4h1M106.2 815.8h1M106.1 807.8h1M101.9 806.8h1M81.4 815.4h1M104.9 807.5h1M79.6 823.9h1M96 809.1h1M100.2 811.7h1M75.2 822.5h1M106.8 812.5h1M108.1 819.7h1M75.8 800.9h1M84.4 813.9h1M85.7 813.3h1M83.2 812.5h1M111 807.7h1M77.5 807.7h1M106.4 818.6h1M88.5 803.5h1M110.8 815.4h1M84.2 806.1h1M86.1 810h1M108.7 803.8h1M81.6 812.3h1M108.4 822.7h1M85.1 820.3h1M107.7 813.4h1M100.1 801.4h1M86.3 814.8h1M81.6 811.3h1M89.7 802.4h1M107.9 815.9h1M91.9 809.4h1M82.9 809.6h1M75.9 810h1M88.9 804h1M99.5 804h1M77.7 814.2h1M91.9 790.1h1M86.3 809.1h1M75 813.8h1M98.3 817.1h1M76.4 819h1M81.7 805.7h1M108.9 818.2h1M76.7 812.9h1M100.3 821.9h1M108.2 813h1M105.6 812h1M98.4 821.4h1M88.8 819h1M74.3 802.3h1M94 815.8h1M98.1 811.8h1M85 814.1h1M78.5 805.6h1M103.9 802.7h1M77.5 804.9h1M98 807.6h1M85.4 807.6h1M77 820.5h1M114.1 802h1M100.3 815.9h1M99.4 818.3h1M74.4 814.5h1M90.2 817.6h1M95.7 808.7h1M81.7 806.4h1M114.5 802.2h1M80.3 812.4h1M101.5 816.1h1M79 813.8h1M76 820.4h1M74.2 817.2h1M99.6 796.9h1M82 817.4h1M82.5 815.1h1M79.3 807.1h1M75.2 809.8h1M79.3 806h1M78.1 818.1h1M87.2 819.6h1M86.4 802h1M84.2 816.7h1M82.6 812.4h1M108.1 810.1h1M84.9 823.6h1M90.4 813.1h1M81.4 816.5h1M81.9 807.8h1M90.2 814h1M74.3 821.5h1M88.9 805.9h1M77.4 819.9h1M95.7 814.8h1M76.6 816.9h1M100 816.3h1M104.9 811.8h1M77.1 804.7h1M100.2 818.2h1M85.3 816.3h1M106.9 806.2h1M83.6 808h1M87 806.4h1M86.8 809.3h1M108.1 813.5h1M80.2 815.3h1M101.3 815.2h1M92 805h1M84.1 800.7h1M87.5 797h1M103.5 819.4h1M102 813.5h1M113.9 811.7h1M81.9 812.9h1M79.8 820.1h1M83.1 795.6h1M88 800.5h1M84.7 812.9h1M107.4 815.1h1M95.9 820.7h1M78.8 814.2h1M104.9 806h1M81.8 799.4h1M91.2 805.1h1M102.2 802.1h1M95.7 819.5h1M89.7 816.3h1M94.6 801.5h1M101 810.3h1M99.2 812.3h1M119 799.3h1M90.5 818.9h1M79.9 818.8h1M82.6 817.2h1M101.9 799.7h1M93.7 804.7h1M102.3 823.9h1M75.4 799.4h1M87.6 811.6h1M99.4 808.5h1M89.9 817.5h1M85.1 797.7h1M94.3 808.4h1M113.2 801.9h1M82 819.1h1M112.4 806.5h1M94.4 811h1M78.9 813.4h1M99.6 817.8h1M91.2 816.9h1M107.2 820.4h1M79.6 816.7h1M103.8 811.9h1M78.2 807.4h1M95 823.4h1M100.1 819.5h1M89.5 816.3h1M99.4 824h1M82.4 813.9h1M105.1 813.7h1M83.7 813.1h1M81 808.6h1M89 804.7h1M89.9 805.7h1M79.1 809.6h1M101.5 807.3h1M88.9 817.7h1M98.9 818.8h1M76.1 806.9h1M74.4 807.5h1M87 795.3h1M77 813.4h1M88.8 819.1h1M98.3 809.5h1M105.9 815.1h1M110.7 818.4h1M101.4 801.5h1M80.9 797.3h1M98.2 808.9h1M83.5 816.6h1M98 809.8h1M76.2 812.1h1M109 822.1h1M96.3 805.4h1M86.7 809.1h1M74.8 802.3h1M94.5 815.9h1M83.4 811.8h1M94.1 812.6h1M80.9 824h1M83.2 792.8h1M99.2 822.2h1M110.9 820.3h1M73.9 814.4h1M88 823.4h1M96 808.5h1M88.6 815.2h1M84.6 811.1h1M79.2 811.1h1M95.6 810.9h1M84 812.8h1M89.3 808.4h1M83.6 805.5h1M102.8 813.6h1M87.8 815h1M77.5 814.6h1M113.5 809.3h1M86.9 814.4h1M82.3 814.5h1M79.1 823h1M105.3 797.1h1M91.1 820.9h1M86.4 798.9h1M74.4 805.6h1M78.3 803.8h1M95.4 809.6h1M90.4 807.8h1M81 809.4h1M78.7 807.1h1M93.8 805.2h1M80.4 819h1M83 807.8h1M101.2 799.3h1M84.1 800.9h1M74.4 819.2h1M98.4 809.1h1M87.5 809.4h1M77.5 809.6h1M74.3 821.4h1M89 804.9h1M91.9 823.6h1M78.8 794.8h1M104.2 806.4h1M73.9 812.2h1M109.9 806.6h1M95.2 810.3h1M88.1 815.4h1M95.3 812.1h1M82.6 808.7h1M89.8 817.5h1M113.2 805.9h1M82.9 802.9h1M101.9 803.2h1M78.4 802.4h1M90.4 801.5h1M103.9 806h1M74.2 801.4h1M95.3 810.9h1M82.3 808.2h1M75 800.5h1M85 796.5h1M102.8 814h1M100.5 822.4h1M78.2 795h1M88.9 802.5h1M93.2 797.4h1M76.7 804.4h1M96.5 809.4h1M109.2 816.1h1M107.7 818.6h1M82.6 800.2h1M85.1 803.8h1M77.9 808.8h1M83.9 819.8h1M87.3 815.3h1M100 816h1M91.8 813.6h1M78 818h1M101.9 809.5h1M102.8 799.3h1M82.3 815.4h1M87.3 811.1h1M89.3 809.2h1M77.5 818.9h1M92.6 808h1M99.9 817.5h1M117.4 814.6h1M93.3 809.3h1M86.8 811.7h1M88.7 810.5h1M99.1 818.3h1M101.6 805.7h1M79 819.6h1M93.4 804.8h1M99.7 815h1M80.9 820.4h1M109.5 811.9h1M87.8 819.4h1M102.7 815.3h1M90.1 812.4h1M87.4 805.2h1M89.7 805.1h1M94.7 807.6h1M102.7 813.4h1M87.1 823h1M75.4 813h1M81.2 813.7h1M77.4 812.3h1M101.2 815.3h1M77.7 815.3h1M111.6 805.1h1M92.6 821.5h1M89.6 811.2h1M108.7 801.6h1M85.8 817.2h1M86.8 818.8h1M101.5 813h1M101 813.9h1M77.2 809.2h1M98.6 812.2h1M74 807h1M88.5 815.7h1M103.5 815h1M93.9 809h1M102.6 816.4h1M103.7 814.4h1M118.4 812.5h1M100.2 819.3h1M81.8 814.6h1M111.7 819h1M81.4 815h1M104.1 823.9h1M100 811.3h1M79.4 797.8h1M81.4 823.4h1M88.6 797.9h1M96.6 812.2h1M109.4 804.4h1M92.2 819.1h1M117.2 795.6h1M103.2 819.6h1M82.5 811.9h1M82.8 799.3h1M92.4 821.1h1M84.2 820.8h1M90.1 811.8h1M102 817.2h1M94.9 818.8h1M104.7 818.4h1M82 822.6h1M79.6 800.4h1M74.6 801.8h1M78.3 821.9h1M85.3 812.1h1M92.4 814.9h1M88.8 802.8h1M91.6 817.8h1M119.5 798.7h1M76.6 811.3h1M87.9 817.4h1M84.9 812h1M79.1 815.9h1M110.1 793.8h1M91.2 810.2h1M108.8 815.1h1M76.2 810.6h1M117.3 799.8h1M79.7 823.9h1M91.5 801.1h1M89.9 806.5h1M99.3 814.8h1M73.9 812h1M98.1 802.7h1M101.7 818.5h1M83.5 801.4h1M82.7 812.7h1M82.4 806.1h1M86.3 811.8h1M83.3 816.2h1M76 802.7h1M100.2 819.1h1M96.8 811h1M101.8 805.2h1M92.4 823.5h1M106.2 822.3h1M98.8 810.6h1M78.1 803.4h1M94.5 802.1h1M102.4 816.7h1M92.3 808.7h1M111.8 822.5h1M85.6 797.7h1M101.4 815.9h1M75 801.4h1M91.8 813.5h1M84.3 814h1M78.1 798.6h1M73.9 818.2h1M94.9 801.2h1M97.7 814.2h1M83.1 818.3h1M74.9 818h1M79.8 802.5h1M102.2 812h1M75.4 814.2h1M107.4 823.3h1M76.9 802.2h1M95.7 803.1h1M101 808.9h1M108.6 805.3h1M86 815.5h1M81.4 815.6h1M74.5 810.1h1M104.3 810.6h1M90.1 815.9h1M85.6 809.5h1M86.1 817.2h1M95.3 816.6h1M92.3 821.2h1M108 810.3h1M81.5 817.1h1M103.5 815.4h1M84.6 800.5h1M90.8 811.8h1M87.6 811.7h1M90.7 823.5h1M102.2 815.5h1M94.9 803.7h1M74.7 807.1h1M91 811h1M90.6 812.8h1M97 810.9h1M92.5 808.3h1M90.8 814h1M106 819.6h1M77 795.9h1M84.2 812.6h1M77.8 800.3h1M102.7 821.7h1M106.7 801.3h1M109.1 809.9h1M112 804.4h1M98.5 814.1h1M92.9 810.2h1M97.2 806.8h1M92 803.2h1M84.6 807.4h1M114 807.9h1M116.9 816.1h1M92.1 797.9h1M88.9 809.8h1M85.3 813.2h1M76.9 814h1M82.8 820.9h1M85 817.2h1M91.8 823.4h1M78.3 809.8h1M79 812.1h1M101 809.7h1M115.7 821.3h1M81.2 814.8h1M90.2 816.5h1M103.8 803.6h1M76.1 823.2h1M74.5 823.4h1M92.6 801.3h1M88.9 808.6h1M83.4 823.8h1M114.6 800.8h1M112.6 799.7h1M101.1 802.4h1M91.2 822h1M87.7 810.5h1M104.3 818.3h1M89 813.5h1M112.6 823.9h1M109.3 797.8h1M84 816.9h1M102.7 809.2h1M113.8 805.1h1M101.3 806.6h1M79.4 808.2h1M88.7 814.5h1M87.7 809.7h1M94.1 813.2h1M92.9 820.8h1M87.6 803.5h1M104.2 816.4h1M111 815.6h1M84.8 814.7h1M74.6 822.4h1M97.7 821h1M92.7 823.4h1M98.4 807.7h1M83.3 802.1h1M96.7 810.9h1M80.2 820.5h1M107.7 801.1h1M115.8 814h1M80 824h1M85.1 823h1M86.1 810h1M85.6 800.1h1M95.5 814.5h1M93.2 816.5h1M99.7 813.6h1M85.3 815.8h1M87.8 809.5h1M98.9 817.2h1M77.9 804.1h1M103.8 819.2h1M84.5 805.9h1M73.9 808.7h1M81.4 814.5h1M99.9 813.8h1M104.6 814h1M110.2 798.2h1M99.1 817.9h1M83.2 802.1h1M100.7 803.5h1M92 814.1h1M79.7 820.2h1M115.2 809.5h1M103.7 810.5h1M98.8 811.3h1M92 804.9h1M85.5 814.6h1M80 812.9h1M74.9 802.4h1M106.1 819.6h1M102.5 807h1M98.3 812.1h1M78.2 815.9h1M89.5 807.1h1M95 817.6h1M109.3 819.2h1M79.7 813.5h1M97.1 813h1M90.2 811.1h1M93.8 821h1M82.8 797.9h1M98.4 806.1h1M94.6 810.3h1M77.7 809.7h1M110.1 819.5h1M81.5 819.5h1M109.3 807.5h1M80.1 820.9h1M86.3 803.7h1M117.7 815.7h1M96.3 813.2h1M114.3 799.4h1M97.6 803.7h1M107.5 822.3h1M91.4 817h1M113.3 809.9h1M118.1 813.3h1M103 805.1h1M85.9 816.9h1M88.7 823h1M80.8 818.7h1M102 812.9h1M100.9 807.2h1M84.2 805.6h1M106.3 801.6h1M85.9 809.6h1M118.7 813.1h1M105.1 805.7h1M115.6 812.3h1M84.1 815.2h1M80.2 815.2h1M77 804.2h1M102.7 799.8h1M78.5 801.1h1M112.3 823.6h1M95.9 802.9h1M104.4 820.3h1M76.4 814.2h1M85.8 806.9h1M96.5 822h1M104 821.1h1M76.3 817.4h1M98.7 798.2h1M82.6 803h1M105.1 818.6h1M90.9 810.4h1M89.9 810.4h1M100 809h1M109.8 817.1h1M90.7 800.1h1M110.7 814.5h1M80.4 805h1M97.9 824h1M78.7 808.4h1M96.9 810.3h1M81.5 800.8h1M94.5 819h1M102.5 807.1h1M80.8 805.1h1M76.2 813.6h1M91.6 801.1h1M101.1 794.9h1M97.1 804.5h1M81.6 805.1h1M105.4 800.8h1M90 808h1M104.4 801.8h1M81.9 806.7h1M99.9 816.9h1M110 819.7h1M84.9 802.2h1M89.9 806.7h1M102.4 816.7h1M101 811.2h1M98.7 799.9h1M92.2 823.9h1M74.4 818.6h1M93.8 805.9h1M76.2 805h1M95 820.7h1M81.8 819.3h1M113.4 810.1h1M119.7 800.4h1M99.9 811.4h1M82.3 820.5h1M89.7 803.3h1M105.9 811.6h1M102.8 815.1h1M84.3 820.6h1M110.1 802h1M103.6 809.3h1M101.1 808.3h1M89 808.7h1M93.7 808h1M84.1 804.8h1M96.3 797.9h1M84.8 819.8h1M109.7 812h1M94.3 815h1M96.6 798.2h1M98.2 813.7h1M98.1 823.7h1M74.4 811.7h1M111.1 817.2h1M95 817.3h1M86.3 815h1M80.6 821.8h1M84.5 822.7h1M85.4 796.1h1M93.9 812.5h1M82 818.8h1M95.2 806.5h1M95.7 800.9h1M84.3 823.7h1M92.1 809.2h1M98.2 818.1h1M95.1 807.9h1M91.5 821.2h1M102.8 816.7h1M112.3 812.4h1M92.6 808.1h1M81.9 811.2h1M101 816.8h1M80.2 814.4h1M95.7 821.7h1M91 794.6h1M97.9 814.7h1M74.1 813.8h1M87.6 809.4h1M79.5 807h1M86.1 808.8h1M101.4 816.8h1M90.7 824h1M85.3 812.8h1M109.4 817.8h1M93.5 815.8h1M79.1 811.5h1M79.1 809.6h1M98.8 801.3h1M99.1 812.6h1M96.2 823.8h1M96.7 806.9h1M80.9 804.2h1M91.8 823.9h1M77 806.7h1M81.7 810h1M80.7 815.8h1M81.6 810.1h1M88.3 808.4h1M89.8 806.8h1M82 802.4h1M107.4 811.6h1M86.6 811.5h1M113.5 792.4h1M106.3 819.9h1M76.3 813.7h1M104.7 814.3h1M74.1 805.4h1M112.2 802.7h1M97 821.9h1M79.1 801.8h1M81.2 820.9h1M87.1 790.9h1M74.2 816.8h1M107.2 802.8h1M75.6 813.6h1M89.2 805.9h1M98.9 817.4h1M92.4 810.4h1M95.8 811.3h1M88.9 810.7h1M102 805.2h1M79.6 815h1M99.9 814h1M75.9 821.9h1M94.5 812.6h1M76.8 815.4h1M89.4 804.5h1M100 806.2h1M108.8 817.2h1M77.8 808h1M81.7 801.1h1M78.9 813.1h1M108.4 820.7h1M80.3 792h1M101.5 807.1h1M85.1 805.9h1M74.4 791.7h1M93.5 817.8h1M76.6 809.1h1M101.9 822.9h1M103.2 807.6h1M110 808.3h1M78.3 817.7h1M113.2 818.2h1M105 812.9h1M77.8 813.3h1M114.7 813.4h1M77.9 812.7h1M96.4 812.9h1M74.1 823.7h1M90.1 815.3h1M94.4 822.1h1M100.3 810.5h1M80.8 821.2h1M91.6 820.4h1M79.3 809.5h1M97.1 821.7h1M100.9 823.8h1M92.9 803.6h1M107.5 822h1M102.1 811.6h1M96.9 809.1h1M107.6 819.9h1M75.1 824h1M91.4 799.4h1M77.6 815.9h1M91.7 807.4h1M85.5 817.5h1M103.1 808.6h1M85.9 821.9h1M83.2 822.3h1M90.6 819.7h1M90.1 816.4h1M98.9 816.4h1M80.1 814.1h1M75.1 808.1h1M75.9 815.7h1M107.5 804.1h1M74.8 816.7h1M85.6 806.3h1M77 801.1h1M103.8 797.7h1M84.3 822.3h1M108.5 797.9h1M82.4 823.6h1M95.9 800.3h1M102.2 811.6h1M105 808.7h1M75.8 819h1M87 804.1h1M90.8 806.1h1M78.2 815.9h1M101.6 816.3h1M97.2 804.7h1M98.9 803.3h1M74 805.4h1M94.5 814.5h1M97.9 811.5h1M105.9 804.1h1M84.9 804.9h1M101.1 802.6h1M118.6 810.3h1M86.1 817h1M86.4 809.2h1M87.6 807.9h1M74.9 815.7h1M87.1 807.9h1M114 818.1h1M79.4 809.4h1M89.4 816.2h1M108.2 794.8h1M99.7 802.1h1M95.1 809.4h1M87.5 821.8h1M90.5 821.2h1M92.2 806h1M101.3 812.7h1M93.1 809h1M104.8 823.9h1M78.5 823.3h1M103.1 810.6h1M84.9 813.1h1M92.2 822h1M86.3 817.8h1M100.7 805.3h1M90.5 814.9h1M100.5 806.9h1M81.2 798.4h1M94.6 808.8h1M108.7 810.5h1M107.2 816.2h1M87.2 801.9h1M94 822.9h1M87.1 820.1h1M90.5 811.6h1M92.3 823.1h1M108.5 803.7h1M100 816.4h1M111.8 807.3h1M112.9 813.9h1M75 813.5h1M96.3 811.4h1M86.1 822.5h1M76 820.1h1M77.5 815.2h1M85.3 794h1M114.7 805.1h1M93.3 805.8h1M89.6 819.7h1M91.7 804.4h1M82 801.7h1M94.5 805.5h1M90.9 790.8h1M76.1 822.1h1M85 820h1M100.6 819.2h1M90.8 811.1h1M101.1 807.4h1M79 811.6h1M93.4 810.7h1M104 808.3h1M75.8 805.4h1M82.3 816.7h1M86.8 816.8h1M88.4 802.1h1M85.3 814.2h1M95.8 818.1h1M105.9 809.3h1M96.8 814.3h1M105.9 810.6h1M106.2 812h1M84.1 806.5h1M95.8 804.3h1M87.1 818h1M101 821.1h1M87.5 798.9h1M89.7 816.9h1M115 823.7h1M89.8 822.8h1M75.3 811.8h1M93.8 816.6h1M96.2 823.2h1M85.4 819h1M93.1 819.9h1M105.9 803.7h1M85.2 809.7h1M89.7 811.6h1M82.7 821.5h1M96.6 813h1M90.5 806.3h1M79.8 810.3h1M90.1 803.2h1M116.7 810.9h1M76.6 806.1h1M74 807.9h1M96.7 816h1M74 801h1M118.4 808.7h1M74.6 805h1M74.8 819.9h1M85.4 820.1h1M106.7 813h1M103 817.9h1M99.9 806.7h1M96.2 808.3h1M109.7 801.9h1M77.6 806.9h1M96 820.4h1M111.4 804.1h1M78 816.7h1M96.5 817.3h1M108.6 811.1h1M109 811.6h1M90.4 803.4h1M99 808.2h1M106.6 800.1h1M77.9 813.2h1M82.2 808.9h1M82.1 815.6h1M115.9 814.9h1M82.4 801h1M77.8 808h1M102.9 808h1M94.2 817.9h1M88.3 798.1h1M87 812.9h1M88.2 816.7h1M108.4 811.7h1M78.5 806.2h1M85.2 805.6h1M106.5 800h1M102.5 819.9h1M80 814.9h1M88.5 799.3h1M74.4 793.6h1M110.5 816.5h1M86.6 812.3h1M109.3 823.7h1M103 818h1M80.5 818.5h1M90.4 812.3h1M101 820.9h1M98.2 804.2h1M112.6 812h1M107.2 813.5h1M96.7 804.3h1M101.5 813.6h1M82.9 821.3h1M84.4 811.3h1M100.4 794.4h1M96.8 810.7h1M77.6 807.4h1M91.3 813.1h1M81.8 813.2h1M85 807.5h1M109.6 818.7h1M79.8 821.3h1M83.7 816.2h1M99.9 813.6h1M93.4 800.1h1M94.7 792.2h1M73.9 806.6h1M92.1 808.4h1M87.5 806.2h1M81.7 799.7h1M85 819.3h1M88.6 815.4h1M103.6 810.3h1M117.4 809.2h1M94 822.8h1M112.2 808.1h1M94 824h1M74.2 805.5h1M93.3 804.9h1M109.5 820.9h1M111.1 807.6h1M80.8 810h1M82.8 804h1M82.9 795.8h1M85.6 807.6h1M111.8 820.1h1M97.9 822.9h1M104.6 820.7h1M81 819.5h1M91.9 802.7h1M91.1 809.3h1M101.8 811.7h1M86.4 804.7h1M108.4 811.4h1M83.5 811.3h1M74.1 818.2h1M75.6 816.4h1M109.4 811.3h1M102.7 820.7h1M82.3 798.5h1M107.3 810.6h1M90.4 815.9h1M91 803.9h1M73.9 819.9h1M85.4 803.2h1M94.1 810.9h1M95.4 796.7h1M85.2 815.9h1M105.8 814.7h1M111.7 818.2h1M82 821.3h1M98 809.6h1M74.4 819.9h1M98.2 809h1M79.9 816.6h1M90.7 803.3h1M95 819.2h1M89.5 808.3h1M106.6 811.2h1M82.4 811.5h1M86.5 816.5h1M97 797.8h1M92.3 814.8h1M96.1 808.2h1M90 813.6h1M82.1 814.4h1M101.5 810.9h1M93.8 806.3h1M104.7 820.3h1M110.4 815.3h1M88.1 822.6h1M83 808.4h1M86.8 818.3h1M84.2 817.4h1M78.6 806.5h1M114.5 811.7h1M98.2 808.4h1M85.4 808.4h1M100.6 810.9h1M96.4 820.3h1M91.9 809.9h1M105.8 814.3h1M92.9 813.5h1M91.8 809.4h1M95 815.9h1M80.9 819.9h1M83.3 802.3h1M83.1 797.1h1M114.6 814.3h1M100.6 802.6h1M103.2 808.6h1M101.1 816.6h1M90.3 818.2h1M114.6 813.8h1M90.1 815h1M74.2 814.2h1M101.2 812.6h1M108.4 820.5h1M94.2 804.8h1M97.7 820.5h1M105.5 820h1M113.1 804.3h1M100.6 805.6h1M115.1 800.1h1M96.7 810.5h1M74.7 802.6h1M105.4 812.3h1M96.7 812.6h1M94.5 818.2h1M76 808.4h1M107.1 820.2h1M90.3 807.4h1M79.8 822.2h1M84.6 804.7h1M89.9 823.8h1M94.3 806.2h1M81 792.1h1M80.8 813.8h1M98.4 820.8h1M92 796.3h1M118.8 815.1h1M87.4 820.3h1M102.7 801.7h1M115.9 817.6h1M90.3 823.3h1M105.9 821.9h1M96.9 817.1h1M93.6 822.1h1M114.1 805.1h1M79.9 803.5h1M85 812h1M76.5 814.8h1M91.3 823.9h1M105.9 807.9h1M89.6 817.1h1M103.7 806.7h1M82.9 803.5h1M108 811.2h1M91.4 821.6h1M86.6 819h1M114.5 800.8h1M92.8 809.4h1M100.4 800.4h1M94.5 820.9h1M102.2 812.5h1M94.5 813h1M77.1 823.9h1M96.6 816.7h1M99.2 803.9h1M98 807.3h1M89.9 815.8h1M116.8 809h1M83.3 802.2h1M94.5 820.1h1M95.7 809.3h1M78.6 803.3h1M77.2 817h1M101.6 801.3h1M101.8 812.3h1M94.7 802.8h1M74.9 804.3h1M89.1 809.5h1M96 813.9h1M101.1 816.7h1M108.5 810.2h1M98.9 809.9h1M105.6 800.5h1M114.7 812.2h1M81.7 808.8h1M105.9 798.3h1M87.1 809h1M99.2 807.9h1M95.6 798.9h1M79.5 810.8h1M81 808.4h1M98.6 805.6h1M90.5 812.5h1M102.5 820.3h1M87.8 823.1h1M89.5 802.7h1M82.9 798.7h1M100.2 804.4h1M107.6 816.7h1M75.6 823h1M80.1 815.6h1M98.2 813.6h1M107.9 817.4h1M110.8 804.3h1M100.1 817.8h1M106.6 807h1M77.6 805.4h1M87.3 823.7h1M111.8 814.9h1M85.6 801.6h1M89.7 804.9h1M76.2 810.6h1M90.3 820.3h1M74.8 817.1h1M97.5 810.9h1M112.1 801.6h1M96.9 807.7h1M95 812.2h1M87.5 809.7h1M100 805.4h1M78.2 823.6h1M86.7 819.4h1M75.6 802h1M85.3 803h1M74.4 817.7h1M108.9 811.4h1M89.6 817.4h1M76 814.6h1M76.3 810.4h1M107.3 814.4h1M101.5 816h1M103.2 820.7h1M91.8 824h1M104.5 813.1h1M109.9 810.1h1M101.4 806.7h1M75.1 818h1M78.4 817.3h1M73.8 801.6h1M96.1 808.3h1M74.1 804.6h1M78.4 816h1M93 817.2h1M81 820.6h1M75.7 803.8h1M105.1 820.5h1M98.9 823.7h1M102.8 817.5h1M104.5 801.6h1M111.4 811.4h1M91.9 809.7h1M89.9 810.7h1M76.7 811.9h1M89.2 812.9h1M84.5 822.6h1M106.1 798.5h1M101.1 812.8h1M111.7 802h1M106.6 823.9h1M107.9 807.3h1M99.2 820.9h1M94.1 821.7h1M87.2 809.5h1M92 803.5h1M79.7 800.8h1M97.3 801.1h1M91.1 813.7h1M79.4 805.4h1M85.5 816.3h1M82.6 815.8h1M86 809.7h1M88.2 812.5h1M109.1 804.9h1M83.8 823.2h1M75.4 802.6h1M97.1 816.1h1M105.2 800h1M113.7 802.6h1M78.7 820.6h1M88.7 812h1M86.5 806.2h1M111.9 817.8h1M101.2 817.4h1M92.3 814h1M101.5 805.7h1M87.3 804.4h1M89.4 814.9h1M91.6 805h1M85.4 800h1M88.7 804.3h1M96.6 817.3h1M95.2 818.2h1M111.4 809.3h1M103.3 805.1h1M91 808.2h1M81 814.6h1M74.4 818.8h1M85.3 801.6h1M86.9 812.7h1M74.7 796.9h1M87 820.5h1M93.4 814.1h1M83.6 816.6h1M90 797.1h1M90.6 801.8h1M82.6 815.4h1M80.5 822.7h1M90.1 802.5h1M95.3 810.5h1M78.2 820.3h1M75.2 780.1h1M95.8 775.1h1M88.1 769.7h1M92.6 799.9h1M95.8 788.3h1M86 784.4h1M87.2 781h1M99.2 792.9h1M89.3 774h1M87.2 773.6h1M98.9 777.4h1M79.4 775.7h1M106.6 792.6h1M96.4 771.4h1M81 788h1M88.5 800.1h1M106.5 781h1M97.8 778.1h1M77.6 788.7h1M77.8 797.9h1M93.1 793.1h1M113.6 783.6h1M88.3 772.4h1M98.2 772.6h1M91 783.9h1M86.9 772.1h1M95.7 783.7h1M80.7 793h1M103.7 776.1h1M97.7 776.8h1M85.2 791h1M79.9 795.6h1M75.4 791.5h1M94.3 771h1M92.7 785.1h1M93.1 755.4h1M112.7 788.4h1M81.3 776.4h1M81.6 779.1h1M81 784.3h1M102.9 774.2h1M87.6 790.3h1M78.8 782.7h1M93.5 793.3h1M111.4 781.5h1M94.1 793.1h1M85.2 794.6h1M84.4 776.6h1M80.5 783.7h1M97.1 778.5h1M101.3 765.7h1M87.9 780.5h1M89.1 777.8h1M108.4 793.5h1M92.1 774.2h1M97.2 774h1M77 792.2h1M83.1 775.9h1M80.7 779.1h1M73.8 784.2h1M95.5 781.3h1M106.7 759.1h1M87.4 788.3h1M75.6 785.3h1M92 781.2h1M105.4 783.9h1M88.8 799.5h1M102.6 776h1M90 773.4h1M75.1 765.6h1M79.3 787.5h1M87.6 794.2h1M98.3 791.9h1M87.8 782.2h1M94.5 786h1M93.6 780.3h1M85.2 786.4h1M89.5 775.5h1M87.6 790.9h1M100.3 759.4h1M110.7 774.7h1M107.8 788.1h1M86.8 791.3h1M97.9 783.9h1M81.6 786.6h1M76.9 790h1M91.8 768.8h1M98.6 772.8h1M90.1 792.5h1M101.4 776.8h1M101.4 782h1M100.5 774.8h1M88.9 788.4h1M73.9 761.8h1M113.8 781.4h1M84.8 763.1h1M100.2 786.6h1M97.1 769.2h1M86.4 783.1h1M114.2 766.2h1M99.5 783.8h1M90.7 792.3h1M85.5 792.3h1M78.5 788.1h1M74.7 776.3h1M98.1 778.5h1M85.2 780.9h1M85.1 771.9h1M97.3 766.4h1M86.4 791.6h1M99.2 772.5h1M82.7 760h1M84.2 787.9h1M102.6 787.5h1M82.2 778.2h1M98.6 779.8h1M97.3 787.2h1M91 782.7h1M76.3 766.7h1M74.2 773.3h1M76.9 789.7h1M74.5 798.3h1M101.8 792.6h1M79.8 780.3h1M75.1 789.5h1M84.4 790.1h1M89.6 775.1h1M76.5 784.7h1M98.5 785.7h1M100 780h1M83.3 768.2h1M101.1 779.1h1M75.4 775.4h1M83.8 781.2h1M88.8 767.2h1M91.7 793.7h1M105.4 792.7h1M86.6 786.9h1M78 762.7h1M93.6 767.3h1M92.8 792.5h1M96.5 786.4h1M86.6 776.7h1M93 781.3h1M83.6 773.5h1M98 786.7h1M82.4 797.8h1M83 776.1h1M105.6 770h1M81.2 796.6h1M90.9 799.9h1M98 786.3h1M86.8 799.8h1M102.3 777.9h1M83.5 793h1M103.7 774.9h1M75.4 785.2h1M74 780.7h1M91.7 775.7h1M108.9 783.9h1M111.2 791.6h1M79.9 773.2h1M90.4 796h1M84.6 768.5h1M80.6 787.8h1M100 787h1M86.1 778.2h1M108.1 778h1M94.3 777.1h1M84.1 796h1M82.1 790.4h1M88.4 778.7h1M96.6 778.4h1M84.6 782.8h1M93.4 783.6h1M76.4 773h1M91.8 771.6h1M105.3 778.6h1M96.2 783.8h1M86.6 774.9h1M82.4 777.7h1M80.8 776h1M75.8 790.2h1M84.3 777.5h1M94.1 766.7h1M83.6 784.6h1M111.4 780.6h1M95.6 784.2h1M85.2 773.5h1M90.4 801.6h1M109.4 766.7h1M76.7 777h1M93.8 784.1h1M103.5 771.2h1M79.4 778.4h1M92.4 775.5h1M87.8 770.4h1M82.3 774.8h1M87.4 767.8h1M86.6 776.5h1M74.3 787.8h1M90.9 774.5h1M87.8 762.5h1M97.3 784.9h1M85.3 777.5h1M97.1 777.8h1M100.3 773.4h1M99.6 785.7h1M76.7 782h1M109.9 763.3h1M101.7 775.2h1M101 787.7h1M90.9 774.3h1M90.8 781.2h1M83.9 767.2h1M96.1 797.1h1M102.5 780.9h1M83.6 772.5h1M101.2 793.8h1M84.9 788.9h1M98.3 777.3h1M89 781.4h1M101.7 784.7h1M115.2 778.9h1M93.7 795h1M84.6 789.7h1M85.4 765.4h1M98.7 787.9h1M84.5 777.6h1M103.2 782.3h1M94.6 773.6h1M102.3 778.7h1M83.8 778h1M78.7 770.8h1M81.4 778.7h1M95.9 797.9h1M80.9 788h1M99.6 768.3h1M79.9 771.7h1M82.4 784h1M88.7 796.8h1M77.8 788.5h1M83.1 762.1h1M74.9 770.5h1M89.9 770.2h1M87.8 797h1M100.2 794.6h1M80.2 787.4h1M76.1 794.6h1M84 780.7h1M92.5 792.1h1M92 777.3h1M93 783.9h1M106.3 787.1h1M86.4 775.6h1M88.2 777.6h1M80.2 780.6h1M83.4 785.2h1M104.1 782.3h1M95.5 800h1M84.8 800.3h1M106.2 788.2h1M79.2 780.5h1M85.7 765.2h1M103.2 778.1h1M92.5 791.1h1M98 786.4h1M101.9 793.7h1M94.7 782.2h1M75 782.7h1M95.6 782.2h1M82.1 779.3h1M83 772h1M87.2 775.4h1M97.9 792.7h1M92.4 773.9h1M91 791.4h1M112.9 778.2h1M94.4 780.9h1M102.5 766h1M95.1 782.8h1M111.8 782.7h1M86.3 784.4h1M105.9 773.7h1M114 778.9h1M86.2 784.3h1M104.2 774h1M74.1 762h1M95 766.5h1M100.3 767.7h1M80.4 786.8h1M77.4 782.6h1M91.6 780.2h1M86.8 797.8h1M93.4 765.6h1M94.7 795.3h1M101.6 778h1M110.8 793.4h1M96.5 780.6h1M75.1 774h1M99.6 776.8h1M96 789.8h1M92.9 787.8h1M111.2 773h1M94.4 782.3h1M86.6 780.6h1M97 772.9h1M103.2 779.3h1M91.9 769.9h1M112.5 765h1M99.8 775.3h1M95.9 788.6h1M93.5 772.6h1M76.2 764.1h1M90.1 787.7h1M95 788.5h1M103.7 783.1h1M96.7 785.6h1M100 800.9h1M84.5 794h1M95.1 787.6h1M88.5 777.6h1M75.4 786.7h1M74.7 780.1h1M101.7 768.9h1M109.4 753.6h1M109.3 773.5h1M80.5 790.9h1M110.3 772.4h1M111 781.7h1M81.7 778.5h1M97.5 772.7h1M112.9 774.5h1M92.5 794h1M106.3 792.4h1M83.5 779.2h1M87 775.1h1M102.4 762h1M89.2 776.1h1M92.9 785.2h1M92.5 786.3h1M78.4 788.4h1M110.2 793.9h1M89.6 794h1M87.2 787h1M85.7 780.9h1M92.1 789h1M79.5 781.6h1M102.3 784.4h1M87 783.9h1M101.4 785.9h1M80.2 779.1h1M78.4 781.6h1M94.2 779.3h1M74.6 780.8h1M102 787.5h1M87.1 780.2h1M102.7 788.3h1M86.5 780.7h1M101.6 790h1M78.3 775.4h1M77.3 778.5h1M98.8 795.4h1M84.3 788.4h1M104.7 775.2h1M82.5 778h1M97.7 780.5h1M80.9 792.4h1M76.8 788.2h1M109.4 780.3h1M88.6 779.1h1M103.5 782h1M93.5 789.6h1M76.6 784h1M96.2 786.5h1M104.9 792.7h1M107.6 792.1h1M112 789.4h1M96.2 795.9h1M89.9 777.5h1M92.1 774.7h1M76.4 773.6h1M100.5 789.1h1M100.4 788.9h1M95.6 779.5h1M81.4 786.2h1M99.3 784.8h1M84.2 784.8h1M107 796.9h1M83.5 770h1M84.5 795.3h1M87.1 796.6h1M78.1 774.4h1M79.8 792.1h1M87.5 771.9h1M83.3 778.7h1M95.9 785.5h1M94.8 795.1h1M79.9 793h1M93.5 781h1M91 782.9h1M92.3 793.2h1M74.6 792.6h1M89.6 790h1M78.3 782.5h1M88.5 777.9h1M79.8 773.5h1M83.3 785.4h1M86.9 768.6h1M101.7 775.3h1M106.6 768.2h1M91.4 790.1h1M77.3 776.6h1M109.9 771.8h1M74 798.4h1M84 773.4h1M88.3 778.1h1M81.6 773.4h1M108 780.3h1M96.1 771.3h1M104.7 785.9h1M87.2 786.8h1M102 775.3h1M89 775.2h1M89.1 794.4h1M94.8 770.8h1M95.9 771h1M98.2 772.4h1M88.2 788.7h1M74.9 770.2h1M86.9 777.1h1M85.5 773.3h1M87.3 782.4h1M80.5 785.9h1M101.4 788.5h1M85.7 787.6h1M86.5 789.1h1M75.8 787.6h1M96.3 778.9h1M97.1 784.4h1M96.3 800.9h1M80.3 785.3h1M94.6 767h1M92.8 775.8h1M82.2 791.2h1M94.6 792.1h1M106.9 786.2h1M80 779.8h1M96.6 789.2h1M103.7 777.9h1M99.2 794.9h1M75.9 778.9h1M94.5 770.9h1M106.5 782.2h1M89.2 779.6h1M75.1 781h1M97.2 782.6h1M79.7 779.3h1M113.5 780.9h1M110.9 781.1h1M79.1 767.4h1M100.5 772.5h1M90.3 773.4h1M76.1 787.8h1M77.5 786.4h1M92.1 772.2h1M97.4 791.6h1M86.1 772.5h1M94.6 794.4h1M94.8 762.3h1M94.5 770.5h1M75.7 787h1M92.6 786.2h1M97.6 800.8h1M74.9 782.4h1M110.5 771h1M109.4 776.3h1M92.9 784.4h1M80.6 776.8h1M78.8 778.1h1M82.9 784.7h1M81.7 776.6h1M114.4 757.8h1M91.5 777.8h1M90.1 797.3h1M95.5 779.9h1M111.2 764.3h1M93 771h1M86.1 786.7h1M94.3 778.7h1M106.9 795.6h1M88.3 776h1M108.9 790.1h1M94.8 786.9h1M88.6 787.2h1M97.2 788.6h1M87.8 768.3h1M108.4 784.6h1M98.1 781.1h1M92.9 766.4h1M91.5 784.6h1M101.3 786.1h1M98.7 789.8h1M95.6 767.6h1M99.3 780.4h1M79.9 781.9h1M82.6 785.9h1M78.2 790.4h1M86.5 773.2h1M88.2 789.1h1M86.2 786.8h1M97.7 797.5h1M78.9 792.1h1M87.8 786.7h1M101.9 786.5h1M112.3 796h1M91.6 787.7h1M106.2 783.3h1M78 776.6h1M94 784.6h1M77.6 794.4h1M86 784.6h1M96.1 778h1M74.8 782.1h1M97.6 781.7h1M89.1 781.9h1M87.8 776.1h1M97.7 794.6h1M80.5 787.5h1M76.6 778.5h1M91.2 781.8h1M81.7 791.9h1M88.4 784.7h1M76.9 788.5h1M79 781.9h1M77.8 797.4h1M74.6 797.1h1M80.5 795.4h1M80.9 783.3h1M91.2 759.3h1M83 770.8h1M75.7 782h1M98.1 767.4h1M75.2 778.8h1M79.5 781.5h1M86.4 772.1h1M91.3 793.3h1M93.8 793.1h1M89.3 769.1h1M104.7 773.8h1M101.3 780.4h1M83.9 784.3h1M88 783.7h1M73.9 778.5h1M99 790.1h1M88.1 775h1M114.7 791.1h1M82.1 769.7h1M109.8 785.3h1M79.1 790.7h1M76.6 784.8h1M79.9 790.7h1M95 783.4h1M103.5 798.9h1M79.6 786.7h1M102.9 781.5h1M84.1 778.6h1M84.2 785.8h1M86.8 771h1M111.5 797.8h1M92.9 784.2h1M94.5 786.7h1M75.1 782.3h1M92.7 784.6h1M94.1 769.4h1M111.2 782.2h1M79.7 790.8h1M81.7 759.1h1M79.1 781.8h1M82.4 783.7h1M99.1 774h1M80.6 787.7h1M106.7 784.3h1M91 774.2h1M79.1 793.2h1M82.4 786.4h1M73.9 773.5h1M74.6 765.5h1M105.1 782.9h1M101.6 783.2h1M78.2 772.1h1M84.9 795.9h1M110.7 788.7h1M81.4 789.6h1M93.3 801.3h1M88 786h1M88.1 773.8h1M86.2 776h1M92 770.5h1M91.1 783.6h1M92.7 769.8h1M74.1 790.3h1M96.1 794.3h1M78.7 779h1M85 782.1h1M79 776.3h1M91.6 782.3h1M97.5 770.7h1M85 775.8h1M74.7 779.8h1M88.3 785.7h1M101.9 775.6h1M89.8 788.4h1M74.9 773.3h1M96.2 771.5h1M87.8 773.4h1M88.2 794.1h1M91.1 778.1h1M97.4 778.7h1M89 774h1M78.2 796.6h1M88.9 787.7h1M92 782.9h1M105.2 769.2h1M74.9 787.7h1M88.6 773.8h1M79.3 780.8h1M93.7 764.1h1M83.4 779.1h1M89.1 797.2h1M102.3 784.7h1M82 779.7h1M76.5 770.3h1M75.3 775.9h1M76.8 784.8h1M74 793.9h1M88.5 781.8h1M92.1 783.3h1M89.3 769.7h1M94.8 773.5h1M79.8 795.2h1M89 786h1M95.9 779.6h1M98 791.2h1M85.7 786.9h1M105.9 771h1M100.3 775.2h1M85.1 798.2h1M112.4 778.9h1M111.3 780.6h1M75.5 784h1M81.8 776.8h1M82.5 776.6h1M96.2 758.9h1M102.1 779.9h1M98.7 788.9h1M90.2 786.8h1M102.5 775.4h1M99.3 764h1M84.9 776.4h1M92.7 777.1h1M103.8 779.6h1M82.4 786.2h1M82.5 781.4h1M79.9 793.4h1M108.8 775.1h1M98.9 777.6h1M101 780.3h1M85.8 790.1h1M90.1 784.5h1M105.7 787.4h1M86.9 779.2h1M105.3 784.7h1M90.2 778.7h1M90.2 773.3h1M97.4 770.2h1M101.2 791.6h1M112.5 785.2h1M86.1 792.3h1M111.7 770.4h1M81 790h1M79.7 769.4h1M81.5 786.7h1M101.1 772.4h1M109.1 787.1h1M75.5 784.1h1M86.5 780.8h1M87.3 781.2h1M75.5 783.4h1M91.4 775.8h1M94.3 770.8h1M84.3 773.9h1M77.8 786.5h1M92.2 799.3h1M98 780.9h1M89.3 775.7h1M97.6 776.2h1M86.4 793.4h1M94.6 776.5h1M112.1 788.2h1M74.5 770.2h1M107 789.1h1M86.9 789.8h1M98.2 788.1h1M88.6 779.8h1M76.3 791.7h1M76.8 760.9h1M74.1 765.6h1M87.2 784.6h1M108.5 784.9h1M94.4 788.6h1M92.8 789.1h1M79.5 777.9h1M82.9 770.8h1M73.9 781h1M77.5 790.3h1M95.2 780h1M101.1 789.4h1M82.5 780.8h1M96 798.3h1M101.7 787.9h1M77.4 781.5h1M105.4 785.7h1M102.4 784.4h1M90.7 767.5h1M76.7 773h1M97.8 767.8h1M99.3 780h1M112.8 779.9h1M83.1 765.5h1M110.6 787.8h1M86.2 778.9h1M97.3 780.7h1M89.2 779.2h1M91.7 776.4h1M109.1 780.9h1M82 774.4h1M101.1 789.9h1M87.3 777.3h1M90.2 791.7h1M81.6 771.9h1M93.2 772.8h1M79.3 783.9h1M87.4 786.8h1M103.4 782.3h1M101.3 776.9h1M76.1 796.1h1M76.5 791.4h1M85.5 773.3h1M114.3 784.1h1M85.3 794h1M87.6 786.2h1M94.5 798.4h1M79.2 780.9h1M94 782.9h1M96.7 765h1M103.9 793.8h1M79.6 776.2h1M102.1 793.3h1M115 791.8h1M100.7 784.1h1M99.4 790h1M83.3 765.3h1M107.7 782.7h1M115 789.2h1M106.2 760.7h1M97.1 789.6h1M101.3 785.7h1M81.7 789.5h1M85.6 776.7h1M104.7 771.2h1M94 794.3h1M80.8 786.8h1M93.6 785.8h1M95.2 795.3h1M78.9 794.6h1M95.6 785.8h1M93.9 790.7h1M77.7 779.5h1M97.3 774.8h1M113 779.7h1M76.4 790.9h1M74 788h1M91.5 778.8h1M94.3 777.1h1M74 783.2h1M81.3 777.4h1M108.1 784.8h1M93.9 793.2h1M104 779.6h1M90.4 786.4h1M103.8 798.2h1M84 774.7h1M84.2 778.9h1M78.7 775.7h1M78.8 786.8h1M85.7 768.8h1M73.9 778h1M84.8 773.4h1M92.6 788.5h1M92.9 785.3h1M95.7 770.6h1M85.7 782.7h1M90 782.2h1M105.5 768.7h1M88.7 771.8h1M91.1 780.3h1M83.6 764.9h1M76.6 796.1h1M104.7 783h1M79.6 787.5h1M76.9 768.9h1M103 767.9h1M75 786.8h1M103.3 781.1h1M89.4 773.8h1M82.6 777.6h1M80.1 779.9h1M107.6 773.2h1M78 764.5h1M74.9 781.2h1M100.7 792.5h1M74.7 783.3h1M97.1 782.7h1M90.1 785.8h1M87.1 775.9h1M77 775.6h1M82.1 774h1M94.1 777.9h1M78 779.9h1M98.7 791.7h1M93.6 785.4h1M97.5 790.2h1M93.5 779.4h1M97.8 783.4h1M95.4 782.7h1M101.1 777.5h1M95.4 785h1M94.7 772.6h1M78.8 772.8h1M77.3 790.9h1M91.2 770.4h1M102.8 785.4h1M78.7 788.9h1M76 785.2h1M83.5 793.9h1M95.2 779.2h1M101.5 771.3h1M86.4 796.1h1M75.5 778.4h1M89.8 777h1M99.2 776.3h1M89.9 776.4h1M103.5 778.3h1M84.1 786.5h1M101.7 774.2h1M111.5 779.3h1M77.8 775.1h1M79.4 779.5h1M98.9 784.7h1M97 776.8h1M90.2 772.9h1M107.3 799.7h1M89.1 793.9h1M76.3 797.1h1M78.3 787.1h1M107.8 788.4h1M76.9 780.5h1M74.6 785.1h1M101 770.2h1M92.5 787.9h1M106 788.8h1M77 789.8h1M81.1 785.1h1M86.1 780.9h1M74.7 786.7h1M87.6 790.7h1M88.4 794.7h1M101.6 780.7h1M89.4 787.3h1M85.4 791.3h1M96.9 784.8h1M104.7 779.4h1M103.9 763.8h1M94.1 767.6h1M85.7 790.4h1M84.5 786.5h1M74.1 800.1h1M91.4 800.2h1M90.2 799.2h1M111.7 774.1h1M139.7 809h1M122.5 800.8h1M132.9 821.4h1M135.1 803.3h1M133 810h1M160.7 816h1M116.5 804.6h1M135.7 811.9h1M144.8 817h1M147.9 823.4h1M113.2 799.7h1M144 820.1h1M125.2 811.6h1M134.1 801h1M120.9 807.6h1M151.6 816.5h1M154.8 816.4h1M137.7 810.4h1M118.7 812.7h1M153 821.1h1M157.2 822.4h1M127.3 804.2h1M153.9 821.1h1M118.2 820.1h1M125 795.9h1M143.5 818h1M123.5 821.4h1M151.5 819h1M160.3 806.8h1M142.5 817.5h1M148.1 813.2h1M162.6 821.5h1M148.5 816.6h1M158.8 812h1M160.5 811.9h1M128.1 802h1M170.4 808.7h1M157.3 818.6h1M143.9 823.7h1M152.7 818.6h1M146.1 814.4h1M145 812h1M129 807.9h1M136.8 823.7h1M137.7 821.7h1M156.2 806.8h1M148.3 819.4h1M147.4 821.1h1M140.6 819.1h1M158.6 815.5h1M130.3 820.7h1M154.5 805.3h1M136.8 820.2h1M150.5 810.3h1M162.8 810.9h1M152.6 815h1M123 795.8h1M139.2 822h1M127.2 794.3h1M148.3 819.2h1M155.7 814.4h1M139.1 810.3h1M148.8 804.6h1M139.6 807.5h1M167.2 814.9h1M143.9 814.9h1M145.2 804.1h1M149.6 801.6h1M156 816.2h1M151.3 803.8h1M141.9 808.4h1M142.9 810.6h1M148.9 820.2h1M149.9 821.3h1M137.4 809.3h1M134.7 819h1M139.2 815.9h1M148.3 809.4h1M136.4 823.7h1M128.2 800.9h1M137.9 800.6h1M135.9 819.9h1M150.2 813.1h1M135.6 813.2h1M137 816.2h1M166.7 815.8h1M148.1 808.9h1M130.3 800.6h1M157.9 811.7h1M137.5 811.6h1M131.7 811.4h1M150.7 817.2h1M123.9 807.9h1M141.5 815.8h1M149.6 819.2h1M152 807.7h1M135.5 823.5h1M135.8 815.9h1M141.2 815.1h1M158.1 813.2h1M119 823.2h1M153 819h1M146.2 813.3h1M160.1 808h1M127.8 813.1h1M157.3 813.8h1M131.1 818.2h1M146.2 812.1h1M137.2 819h1M141.6 805.5h1M147.5 812.4h1M153.6 819.1h1M134.2 802.9h1M127.2 817.1h1M151.6 802.8h1M137.7 814.2h1M156 817.6h1M160.9 813.8h1M139.4 817.1h1M140.2 813.5h1M133 808.8h1M116 814.1h1M142.3 815.5h1M151.9 812.4h1M156.2 809.5h1M142.1 812.2h1M166.5 808.5h1M135.6 808.2h1M142.1 810.2h1M135.4 807.2h1M136.7 812.2h1M138.8 804.3h1M133.5 809.4h1M137 806.4h1M146.1 813.6h1M143.9 822.2h1M128.9 815.4h1M149.1 812h1M131.8 809.7h1M148.4 812.5h1M143.4 802h1M117.5 821.3h1M129 824h1M154.8 813.5h1M134.1 817h1M133.9 812h1M136.8 807.7h1M144 793.4h1M150 821.4h1M138.7 819.7h1M164.5 812.6h1M135.1 822.5h1M136.4 817.5h1M140.1 803.3h1M144.7 812.7h1M161.5 812.4h1M173.1 804.6h1M138.1 823.7h1M140.3 811.4h1M150.8 812.6h1M140.9 810.4h1M153.7 819.2h1M128.7 815.2h1M153.6 813h1M114 807.1h1M149.4 817.3h1M151.2 808h1M175 822.5h1M130.6 809.3h1M151.6 806.9h1M151 818.5h1M130.2 814.3h1M145.9 812.3h1M131.4 810.2h1M127.2 803.9h1M122.7 810.9h1M139.6 813.8h1M128.7 813.6h1M115.3 810.4h1M146.2 806.9h1M120 810.5h1M151.5 816h1M145.6 814.6h1M131.6 817.7h1M121.6 818.2h1M130.4 815.6h1M124.6 816.2h1M137.4 807h1M137.5 820.4h1M174.9 811.8h1M114.8 820.3h1M134.6 806.8h1M149.7 810.2h1M155.9 803.6h1M160 808.5h1M129.4 819.3h1M152.9 812h1M139.4 815.8h1M153.6 819.3h1M151.7 814.4h1M123.7 811.6h1M131.3 810.8h1M113.8 795.2h1M132.4 813.4h1M124 811.6h1M145.9 812.9h1M132.2 814h1M150.2 814.3h1M140.8 811.9h1M137.8 813.6h1M165.7 807.2h1M157.8 809.3h1M124.7 818.3h1M160.6 812.2h1M152.4 810.1h1M159.9 814.1h1M148.3 813.8h1M118.4 812.9h1M137.3 808.1h1M123.6 815.9h1M133 812.6h1M159.1 803.8h1M142.8 818.7h1M145.1 807.8h1M152.1 813.9h1M156.9 808h1M145.2 811.9h1M129.4 813h1M134.6 822.5h1M139 815.7h1M150.3 798.6h1M161.2 809.8h1M138.1 814.2h1M139.2 812.3h1M166.2 811.9h1M166.3 811.5h1M144.8 808.8h1M137.4 822.2h1M151.3 813.8h1M146.3 819.9h1M131.6 823.6h1M160.4 806.6h1M176.1 803.9h1M130.9 799.7h1M131.7 820.9h1M135.4 812.8h1M125.3 814.5h1M153.1 805h1M123 810h1M151.1 811.7h1M147.5 808.2h1M152.2 815.3h1M122.4 805.6h1M144.2 814.5h1M145.9 804.8h1M154.1 811h1M147.3 810.6h1M134.4 819.9h1M157.5 822.6h1M160.8 822.8h1M160.4 808.9h1M132.2 822.7h1M149.3 803h1M130 814.4h1M139.9 821.2h1M152.3 809.9h1M123 820.6h1M179.6 811.9h1M158.7 814h1M131.9 804.2h1M134.6 806.2h1M141.2 805.9h1M140.3 815.3h1M125.9 803.8h1M140.4 812.7h1M121.4 811.4h1M133.9 809.2h1M166.4 810.4h1M141.4 821.2h1M137 807.9h1M163.4 822.9h1M146.5 809.1h1M150.7 812.7h1M134.5 811.7h1M157 819.6h1M137.8 805.5h1M154 813.2h1M150.9 806.5h1M165.6 817.1h1M155.7 817h1M142 811.8h1M127.9 805.3h1M138.2 821.1h1M132.9 816.1h1M162.9 815.6h1M136.2 814h1M111.2 815.3h1M147.4 805h1M153.2 807.5h1M129.8 812.1h1M151.9 806.6h1M124.3 805.3h1M145.5 816.4h1M140.1 817.1h1M146.5 807.6h1M147.9 798h1M133.1 821.7h1M153.2 816.4h1M135.4 807h1M143.8 817.6h1M161.5 806.4h1M129.7 810.7h1M143.2 820.6h1M163.9 815.3h1M159.3 809.7h1M133 818.2h1M133.8 808.3h1M149.7 810.1h1M133.3 814.3h1M143.2 809.6h1M123.7 814.6h1M150.8 810.7h1M120.4 818.9h1M144 802.7h1M151.7 814h1M133.1 804.4h1M120.9 797.8h1M124.9 801.6h1M116.2 812.3h1M166.6 811.2h1M116 812.5h1M124.7 810.1h1M146.7 817.8h1M142.9 823.9h1M156.2 810.1h1M160.1 811.9h1M148.3 801.9h1M141.3 800h1M134.5 821.4h1M139.7 818.5h1M155.1 807h1M150.5 804.3h1M150.7 811.4h1M119.3 811.8h1M131.8 824h1M132.8 796.8h1M134.8 816.9h1M127.7 808.4h1M151.5 809.9h1M156.7 818.2h1M167 806.4h1M135 802.4h1M140.8 812.5h1M143.5 811.2h1M142.1 807.8h1M130.8 805.6h1M153.1 806.4h1M114.6 818.2h1M135.6 818.5h1M116.2 815.9h1M150.8 820.1h1M123.2 821.1h1M126.4 813.5h1M142 816.7h1M128 817.9h1M145.6 806.3h1M136.9 809.9h1M169.1 806.7h1M125.5 813.3h1M131 815h1M150 818h1M143.8 810.6h1M148.3 823.9h1M138.2 818.1h1M155.2 808.3h1M147 806.5h1M160.3 812.6h1M123.7 820h1M145.7 808.4h1M139.2 817.2h1M147.7 813.1h1M129.4 818.7h1M153.4 800h1M124 802.2h1M154.4 817.9h1M149.8 820.1h1M117.6 812.6h1M147.7 808h1M115.7 803.8h1M150 812.6h1M120.3 820.6h1M141.3 810.2h1M138.6 810.4h1M120 822.9h1M116.8 814h1M149.1 814.2h1M135.6 818.8h1M157.2 810.7h1M141.6 805.1h1M180.1 805.4h1M144.7 818.2h1M166.5 816.2h1M147.1 807.6h1M143.5 814.5h1M149.8 814.6h1M132 797.4h1M133.5 820.7h1M165.1 816.6h1M139.8 817.9h1M126.6 812.6h1M149.4 800.7h1M130.9 813.2h1M143.5 814.2h1M158.1 811.2h1M160.2 814.3h1M167.5 809.7h1M158.6 795.1h1M151.6 816.9h1M150.1 813.6h1M146.7 812.7h1M142.1 822.9h1M173.9 808.2h1M141.6 812.7h1M165.7 823.5h1M141.1 814.1h1M159.4 811.1h1M144.9 804.9h1M134.2 816.3h1M164.4 822.3h1M163.5 806.8h1M134.2 813.2h1M141.8 811.3h1M155.6 823.1h1M147.1 821.6h1M144.3 819.1h1M156.4 813.3h1M125.1 813.2h1M165.2 803h1M149.3 801.9h1M130.6 812.9h1M142.1 799.5h1M174.5 811.9h1M143.2 805.4h1M122.6 815.5h1M162.1 812.9h1M148.9 814.1h1M143.4 816.9h1M157.9 809.7h1M138.2 817.8h1M142 813h1M157.4 809.5h1M149.7 798h1M157 823.8h1M138.6 811.7h1M166.8 807.8h1M124.2 814.6h1M124.9 806.4h1M150.7 808.7h1M139.6 809h1M146.6 815.1h1M144.4 813.7h1M141.7 813.8h1M129.3 818.9h1M148.1 811h1M161.9 819.4h1M132.4 818.5h1M169.9 821.6h1M165.5 804.8h1M132.4 816.1h1M155 818.2h1M128.9 806.9h1M142.3 815.1h1M129 810h1M136.7 813.5h1M118.5 809.8h1M141.9 811h1M129.6 822.6h1M131.7 802.4h1M117 805.5h1M144.5 822.1h1M170.1 806.3h1M139 813.8h1M141.9 811.5h1M128.4 803.6h1M137.5 805.6h1M132.3 805.7h1M122.6 798.8h1M131.7 804.9h1M136.9 816.3h1M148.2 820.9h1M139.3 806.6h1M147.7 823.8h1M161.6 814.6h1M156.6 814.7h1M138.1 817h1M119.6 803.2h1M141.2 810.1h1M144.9 813.8h1M157.4 806.2h1M145.7 815h1M139.3 798.5h1M152.8 813.1h1M131.2 813.4h1M129.9 804.5h1M139.6 823.6h1M146.5 820.7h1M153.1 819.2h1M159.1 812.3h1M164.2 810.3h1M162.2 812.4h1M155.3 812.4h1M141.9 806.1h1M151.2 805.1h1M161.3 803.9h1M130.2 813.2h1M152.7 812.1h1M150.5 802.4h1M141.6 809.5h1M168.1 803.4h1M134 815.5h1M130.1 812.6h1M142.9 816.6h1M134.9 812.4h1M161.8 809.4h1M120.7 815.3h1M125.5 799.1h1M147.7 822.2h1M153.6 806.5h1M127.1 819.6h1M161.2 810.3h1M117.1 817.4h1M157.5 811.8h1M131.1 811.8h1M136.8 817.6h1M167.9 820.5h1M142.4 817.1h1M134.4 812.1h1M146.5 806.8h1M169.1 801.5h1M144.1 823.8h1M132.6 809.2h1M146 815.4h1M126.2 812.2h1M133.7 810.1h1M135.4 807h1M152 809.6h1M136.4 812.4h1M149.7 801.8h1M158.9 810.4h1M164.7 812.3h1M120 804.7h1M142.3 819.9h1M127.3 818.6h1M151.8 802.5h1M146.5 813.6h1M142.9 823.8h1M135.8 806.9h1M129.8 804.2h1M119.9 817.5h1M156.2 821.1h1M140.3 812.7h1M143.5 809.9h1M147.4 816.3h1M153.8 818.4h1M168.8 808.8h1M140.6 808.8h1M152 822.9h1M120.7 819.8h1M137.6 814.5h1M133.3 816.5h1M134.4 810.9h1M158.8 808.9h1M144.5 799.9h1M143.9 809.9h1M144.1 806.2h1M139.9 822.8h1M140 817h1M134.2 805.3h1M135.7 822.1h1M137.1 803.4h1M140.5 808.7h1M117.4 811.5h1M143.9 813.2h1M142.5 820.1h1M148.7 819.6h1M127.8 815.9h1M130.2 815.3h1M153.9 804.2h1M133.2 819.2h1M149.5 816.6h1M133.8 824h1M126.6 811.3h1M123.1 812.4h1M134.6 805.1h1M136.5 799.6h1M126.3 808.8h1M162.2 818.1h1M143.2 810.9h1M130.9 810.5h1M163.2 812.8h1M154.2 819.6h1M132.6 810.1h1M129 820.5h1M140.4 813h1M152.8 814.4h1M123.9 820.6h1M158.6 808.3h1M137.7 798.2h1M154.3 814.8h1M141.1 816.5h1M149.6 806.2h1M151.7 821.2h1M160.5 812.3h1M133.3 810.8h1M168.7 816.2h1M125.7 812.9h1M147.3 818.1h1M152.2 816.3h1M143.4 808h1M155.1 818.2h1M121.2 816.2h1M142.5 817.1h1M156.6 809h1M143.2 814.9h1M128.1 818.1h1M145.2 810.2h1M145.7 823.3h1M129.7 823.8h1M161 810.5h1M135.9 800h1M129.2 815.7h1M144.6 810.1h1M134.3 821.7h1M140.5 811.6h1M146.3 811.1h1M137.5 808.6h1M151.1 817.4h1M147.1 799.5h1M159.6 818.8h1M129.7 802.3h1M144.1 819.6h1M146.6 807.1h1M147 803.4h1M114.8 797.9h1M128.8 813.2h1M147.6 823.4h1M150.9 806.7h1M143.6 817.1h1M145.7 819.6h1M159.7 816.3h1M138.5 818.4h1M132.9 807.3h1M163.4 811.1h1M151.5 807.8h1M141 806.6h1M133.6 814.9h1M164.9 807.6h1M139.5 804.2h1M132.3 799.9h1M160.4 811.2h1M123.4 814.1h1M141.2 818.6h1M151.7 815h1M139.4 812.3h1M136.3 810.6h1M149.1 821.3h1M126.9 815h1M140.4 813.7h1M153 816.3h1M128.5 816.4h1M162 810h1M140.4 818.8h1M142.2 809.2h1M136.8 819.5h1M151 810.9h1M136.8 819.7h1M146.3 804.4h1M160.2 807.4h1M160.1 803.4h1M122.8 817.9h1M161.4 821.1h1M136.6 821.1h1M147.3 813.8h1M144.6 805.2h1M147 807.6h1M135.1 807.8h1M151.1 820.6h1M156.9 805.1h1M135.5 807.4h1M143 816h1M154.2 820.8h1M157.7 817.6h1M147.7 813.2h1M146.9 801.8h1M149.7 810.9h1M138.7 812.8h1M147.7 801.7h1M139.5 801.9h1M138.6 809.8h1M111.5 808.2h1M119 803.9h1M148.2 817.1h1M153.2 809.6h1M149.2 815.2h1M144.6 818.8h1M139.1 809h1M150.8 804.9h1M137.7 799.8h1M143.1 807.1h1M163.3 804.7h1M124.4 813.5h1M135 822.4h1M139.8 816.6h1M117.3 809.6h1M127.1 816.3h1M157.4 799.4h1M150 804.1h1M141.2 813.6h1M160.7 800.6h1M129.8 807.9h1M168.8 801.2h1M142.1 813.5h1M134.9 807h1M157.7 813.8h1M150.1 812.2h1M145.7 804.5h1M141.4 799.4h1M118.6 811.4h1M114.9 810.2h1M142.9 818.2h1M155.9 813.6h1M132.2 808.9h1M144.1 820.6h1M121.8 815.1h1M122.7 819.7h1M142.1 810.9h1M152.3 806.2h1M152.9 809.9h1M159.1 814.1h1M132.1 819h1M140.6 823.1h1M153.4 812.1h1M129 802h1M138.7 814h1M142.8 812.7h1M142.5 815.2h1M154.6 819.8h1M148.5 805h1M136.8 807.4h1M111.4 822.1h1M153.4 820.6h1M156.2 803.2h1M149.6 818.1h1M147.5 812.5h1M148.7 819.1h1M159.1 810h1M135.8 817.5h1M141.8 816.3h1M129.3 819.7h1M139.7 799.4h1M131.6 794.7h1M131.6 810.7h1M115.9 807.7h1M141.4 808.4h1M156.3 812.2h1M159.8 814.6h1M142.1 806.9h1M133.4 820.5h1M146.7 817.8h1M139.2 807.4h1M141.5 821.7h1M161.7 801.3h1M144.8 814h1M147.4 810.9h1M138.9 803.2h1M140.1 812.5h1M130.2 811.3h1M140.8 816.2h1M132 808.7h1M157.9 807.5h1M139.3 818.1h1M152.4 807.7h1M159.9 805.6h1M156.2 809h1M133.2 817.3h1M165 805.9h1M116.9 802.9h1M161.6 815.5h1M130.2 817h1M141.4 812.1h1M132.8 803.4h1M113.9 804.1h1M122.2 807.5h1M145.8 816.5h1M119.3 807h1M150.9 812.2h1M157.8 819.1h1M160.5 823.8h1M145.7 805.4h1M141.7 823.2h1M136.9 803.7h1M179.4 796.9h1M158.6 811.9h1M150.9 817.9h1M146.9 816.5h1M157.1 816.8h1M116.5 809.6h1M153.9 805.4h1M134.6 817.3h1M111.2 814.4h1M157.2 816.6h1M132 804.4h1M148.2 805.5h1M132.4 817.9h1M136.9 814.3h1M164.1 811.1h1M146.8 823.8h1M147.6 815.8h1M121.2 811.2h1M154.5 821.7h1M133.6 810.7h1M148.7 811.9h1M128.6 816h1M147.3 805.2h1M149.8 818.5h1M122.6 809.3h1M146.6 813.9h1M130.3 804.8h1M159.2 817.5h1M147.3 808.1h1M143.1 808h1M153.7 801.3h1M137.2 822.5h1M154.2 812.7h1M146.2 819.5h1M160.7 805.6h1M128.9 802.9h1M168.9 814.2h1M135.6 810.6h1M137.3 803.3h1M132.5 810.8h1M138.4 813.1h1M168.3 823.4h1M144.9 817h1M128 805.4h1M140.4 822.1h1M145.8 810.2h1M155.4 810.7h1M138.1 812.3h1M145.1 806.8h1M140.7 802.8h1M144 815.2h1M126.3 805.3h1M155.4 816.2h1M136.2 810.4h1M167.4 814.5h1M158.8 800.8h1M153.4 819.3h1M135.7 816.5h1M137.9 802.3h1M137.3 806.7h1M143.6 812.5h1M137.8 814h1M135.2 820.9h1M143.8 814h1M142.2 809.8h1M137.4 804h1M154.8 805.8h1M156.6 802.3h1M135 809.6h1M171.5 817h1M147.6 814.6h1M159.1 801.8h1M167.9 811.5h1M123.3 802.6h1M149.3 823h1M154.9 815.5h1M158.8 817.6h1M153.2 810.4h1M156.2 817.6h1M122.1 821.2h1M129.6 812.7h1M150.3 821.9h1M114.9 816.2h1M135.1 809.3h1M140 820h1M147.6 812.6h1M154.7 818.2h1M145.8 814.6h1M131.3 810.6h1M129.5 809h1M148.1 809.2h1M150.4 817.3h1M147.6 801.8h1M144.4 810h1M144 816.6h1M123.7 803h1M142.2 814.9h1M152.8 798.8h1M127.3 806.4h1M148.3 812.9h1M152 815.4h1M174.2 817.9h1M141.7 817.5h1M139.2 814h1M126.2 802.9h1M127.7 810.9h1M120.6 812.7h1M118.3 809.2h1M152 814.3h1M142.4 820.7h1M146.7 822.3h1M121 802.3h1M115.1 814h1M118.5 801.1h1M164.5 799h1M157.8 810.1h1M124.4 806.8h1M143.9 814.5h1M144.8 813h1M129.2 811.5h1M133.8 812.1h1M155.5 801.7h1M152.3 812.7h1M154.8 805.8h1M147 811.2h1M144.2 807.7h1M149.4 799.4h1M140.5 822.8h1M165.6 804h1M145.7 816.4h1M150 810.7h1M141.5 814.4h1M133.7 815.3h1M142 821.4h1M138.3 820h1M131.9 797.2h1M153.8 806h1M169.8 813.7h1M146.7 823.9h1M141.4 807.4h1M133.1 801.1h1M122.9 809h1M151.1 824h1M150.6 815.7h1M132 810.2h1M143.9 812.5h1M131.3 804.3h1M162 818.8h1M144.4 816.5h1M148.8 820.8h1M166 804.1h1M112.7 807.6h1M148.4 815.1h1M146.5 824h1M139 806h1M143.2 822h1M159.8 821h1M134.1 823.4h1M134.2 822.1h1M166.4 818.8h1M156.8 819.8h1M149.6 804.4h1M154 807.1h1M144.3 811.6h1M139.1 816.2h1M141.2 812.5h1M147.4 821.5h1M136.9 809.4h1M121.6 818.8h1M141 815.8h1M147 809.8h1M141.4 818.4h1M152.3 822h1M147.2 805h1M156.3 823.9h1M144.9 821.3h1M140.9 820.5h1M151 817.4h1M155.2 813.2h1M137.3 816.9h1M131.7 815.8h1M161.3 802.3h1M136.2 803.8h1M148.3 806h1M137 812.8h1M146.2 810.7h1M162 816.2h1M166 823.7h1M125.7 809.7h1M123.8 804.6h1M151.2 812.4h1M164.3 806.1h1M146.8 810h1M139.3 804.3h1M154.4 815.3h1M130.7 823.9h1M152.1 808.8h1M161.4 805.9h1M159.9 817.8h1M152.8 810.6h1M136.4 807.1h1M138.8 819.2h1M130.9 794.8h1M168.2 806.7h1M160 813.7h1M142.4 820.5h1M142.3 823.5h1M134.3 814.6h1M150.2 807.3h1M149.9 817h1M149 814.6h1M143.9 807.6h1M140.6 812.8h1M124.2 813.7h1M120.5 808.8h1M173.3 806.1h1M136.5 813.5h1M140.5 802.3h1M139 815.7h1M131.6 815h1M164.8 811.7h1M118.2 814.1h1M149.5 806.7h1M135.1 818.5h1M160.1 823.9h1M154.4 821.9h1M144.1 802.2h1M122.8 806.4h1M153.5 817.2h1M156.1 809.5h1M151.8 823.9h1M139 814.5h1M151.4 801.6h1M132.5 807.6h1M146.2 796.9h1M147.9 815.8h1M139.8 804h1M129.6 811.5h1M139.9 809.9h1M131 810.4h1M126.8 806.7h1M157 802.7h1M140.8 811.8h1M135.9 809.5h1M135.9 812.9h1M148.6 810.1h1M138.5 818h1M133.3 805h1M146.4 807.1h1M144.7 809.8h1M130.6 812.3h1M128.3 816.9h1M160.3 818.9h1M139 820.1h1M159 817.8h1M150.8 805.6h1M141.8 809.1h1M139.5 822.4h1M164.7 819.1h1M134.1 802.5h1M137.5 800.1h1M131.6 806h1M140.7 796.9h1M130.1 817h1M144.3 808.9h1M125.8 816.6h1M149.8 796.1h1M147.3 808.9h1M145.6 809h1M134.6 809.3h1M160 816.9h1M169.8 812.3h1M141 821.6h1M132.3 815.1h1M151.4 819.1h1M139.9 806.2h1M144.6 802.3h1M151.4 809.9h1M124.4 819.2h1M152.5 819.7h1M128.6 806.5h1M125.8 813.7h1M137.5 813.7h1M162.4 819.5h1M134.2 810h1M148.9 810.3h1M130.1 806h1M151.1 818.5h1M147 812h1M158.2 821.9h1M145.1 810.1h1M142.7 811.7h1M117.4 814.4h1M146.9 805.3h1M153.3 820.9h1M145.3 800.6h1M145.1 808.8h1M150.2 807.6h1M154.4 809.7h1M130.5 816.7h1M141.7 815.7h1M148.4 804.8h1M146.1 811.8h1M129.7 809.4h1M115.9 814.2h1M146.9 805.6h1M152.3 807h1M165.2 821h1M148.3 797.6h1M130.9 804.2h1M148.6 805.7h1M141.1 809.3h1M133.4 812h1M123.2 805.5h1M118 793.1h1M133.2 812.3h1M136.9 819.5h1M143.4 811.9h1M142.8 811.1h1M145.7 804.8h1M168.4 820.4h1M141.7 814.8h1M161.1 813.9h1M132 804.7h1M132.8 803.7h1M135.5 810.2h1M118.3 804h1M164.9 810.9h1M146 811h1M152.3 821.7h1M165.9 818.1h1M128.2 792.1h1M158 783.5h1M150.8 778.1h1M128.9 778.3h1M150.1 770.5h1M146.8 773.5h1M156.5 768.5h1M138.7 785.8h1M135.5 777.2h1M172.1 789.6h1M144.1 780.5h1M168.2 807.3h1M132.3 779.9h1M144.7 778.2h1M142.8 783.6h1M130.6 783h1M162.4 796.6h1M123.5 785.6h1M153.3 785h1M161.9 774.1h1M149.6 783.4h1M170.1 780.3h1M186.8 775.2h1M135.9 788.1h1M149 768.3h1" stroke="#000" stroke-opacity="0.9" stroke-width="1" fill="none"/>
<rect x="73.4" y="658.8" width="166" height="165.9" fill="none" stroke="#000" stroke-width="1.75"/>
<path d="M68.4 824.7H73.4M73.4 824.7V829.7M70.4 812.2H73.4M85.9 824.7V827.7M70.4 804.9H73.4M93.2 824.7V827.7M70.4 799.7H73.4M98.4 824.7V827.7M69.2 795.7H73.4M102.4 824.7V828.9M70.4 792.4H73.4M105.7 824.7V827.7M70.4 789.6H73.4M108.5 824.7V827.7M70.4 787.2H73.4M110.9 824.7V827.7M70.4 785.1H73.4M113 824.7V827.7M68.4 783.2H73.4M114.9 824.7V829.7M70.4 770.7H73.4M127.4 824.7V827.7M70.4 763.4H73.4M134.7 824.7V827.7M70.4 758.3H73.4M139.9 824.7V827.7M69.2 754.2H73.4M143.9 824.7V828.9M70.4 751H73.4M147.2 824.7V827.7M70.4 748.2H73.4M150 824.7V827.7M70.4 745.8H73.4M152.4 824.7V827.7M70.4 743.6H73.4M154.5 824.7V827.7M68.4 741.8H73.4M156.4 824.7V829.7M70.4 729.3H73.4M168.9 824.7V827.7M70.4 722H73.4M176.2 824.7V827.7M70.4 716.8H73.4M181.4 824.7V827.7M69.2 712.8H73.4M185.4 824.7V828.9M70.4 709.5H73.4M188.7 824.7V827.7M70.4 706.7H73.4M191.5 824.7V827.7M70.4 704.3H73.4M193.9 824.7V827.7M70.4 702.2H73.4M196 824.7V827.7M68.4 700.3H73.4M197.9 824.7V829.7M70.4 687.8H73.4M210.4 824.7V827.7M70.4 680.5H73.4M217.7 824.7V827.7M70.4 675.3H73.4M222.9 824.7V827.7M69.2 671.3H73.4M226.9 824.7V828.9M70.4 668H73.4M230.2 824.7V827.7M70.4 665.2H73.4M233 824.7V827.7M70.4 662.8H73.4M235.4 824.7V827.7M70.4 660.7H73.4M237.5 824.7V827.7M68.4 658.8H73.4M239.4 824.7V829.7" stroke="#000" stroke-width="1.15" fill="none"/>
<line x1="113.7" y1="658.8" x2="113.7" y2="824.7" stroke="#000" stroke-width="1.15"/>
<line x1="73.4" y1="794.8" x2="239.4" y2="794.8" stroke="#000" stroke-width="1.15"/>
<text transform="translate(67 829.3) scale(0.95 1)" font-size="13.3" text-anchor="end" class="k">10<tspan font-size="7.0" dy="-4.9">0</tspan></text>
<text transform="translate(65.7 843.1) scale(0.87 1)" font-size="13.3" class="k">10<tspan font-size="7.0" dy="-4.9">0</tspan></text>
<text transform="translate(67 787.8) scale(0.95 1)" font-size="13.3" text-anchor="end" class="k">10<tspan font-size="7.0" dy="-4.9">1</tspan></text>
<text transform="translate(107.2 843.1) scale(0.87 1)" font-size="13.3" class="k">10<tspan font-size="7.0" dy="-4.9">1</tspan></text>
<text transform="translate(67 746.3) scale(0.95 1)" font-size="13.3" text-anchor="end" class="k">10<tspan font-size="7.0" dy="-4.9">2</tspan></text>
<text transform="translate(147.5 843.1) scale(0.87 1)" font-size="13.3" class="k">10<tspan font-size="7.0" dy="-4.9">2</tspan></text>
<text transform="translate(67 704.8) scale(0.95 1)" font-size="13.3" text-anchor="end" class="k">10<tspan font-size="7.0" dy="-4.9">3</tspan></text>
<text transform="translate(190.2 843.1) scale(0.87 1)" font-size="13.3" class="k">10<tspan font-size="7.0" dy="-4.9">3</tspan></text>
<text transform="translate(67 664.3) scale(0.95 1)" font-size="13.3" text-anchor="end" class="k">10<tspan font-size="7.0" dy="-4.9">4</tspan></text>
<text transform="translate(229.5 843.1) scale(0.87 1)" font-size="13.3" class="k">10<tspan font-size="7.0" dy="-4.9">4</tspan></text>
<text x="193" y="677.5" font-size="14.4" class="h">0.2%</text>
<text x="120.4" y="651.0" font-size="15.8" class="h">CD4<tspan font-size="8" dy="-5.6" dx="0.4" stroke-width="0.1">+</tspan><tspan dy="5.6" dx="1.2"> cells</tspan></text>
<path d="M320.6 819.8h1M308.5 808.2h1M318.4 811.9h1M331.8 817.6h1M333.2 817.7h1M296.3 812.2h1M319.8 808.6h1M305 806.9h1M309 806.1h1M319.1 810.1h1M322.8 810.4h1M311.3 806h1M303.3 815.4h1M312.4 820.6h1M300.7 804.3h1M339.8 823h1M297.5 806.4h1M323.7 801h1M316.8 820h1M315.3 822.2h1M300.5 817h1M308.3 808.3h1M310.4 817.9h1M307.6 802.8h1M311.7 805.8h1M316.7 818h1M308.9 804.8h1M321.3 821.4h1M325.4 814h1M307.5 808.9h1M325.4 800.6h1M315.9 804.7h1M307.2 799.3h1M321.7 821.5h1M310.6 817.3h1M300.2 808.5h1M326 798.8h1M329.1 806.7h1M299.4 801.5h1M313.1 819.9h1M321.5 819.1h1M305.6 814h1M326 814.9h1M325.1 809.8h1M326.4 813.1h1M336 819.4h1M300.1 808.9h1M328.2 821.2h1M304.6 808.2h1M309.6 817.4h1M324.7 810.8h1M304.7 805.7h1M300.4 799.4h1M319.2 801.5h1M317.2 803.9h1M304.6 806.9h1M318.2 820.1h1M327.7 817.1h1M328.9 817.2h1M320.7 814.7h1M297.3 811.7h1M310.4 817.9h1M305 813.9h1M299.7 802.2h1M317 814h1M322.4 823.7h1M314.3 812.8h1M314.4 811.8h1M301.9 813.4h1M296.5 794.5h1M298.3 803.7h1M306.2 797.9h1M306.1 815.3h1M328.7 808.8h1M300 811.3h1M305 817h1M306.7 809.1h1M306.2 823.6h1M307.1 803.5h1M302.9 789.7h1M330.9 799.5h1M324 822.8h1M323.4 809.3h1M315.9 816.4h1M320.9 815.4h1M309.3 812.8h1M302.2 801.9h1M316.1 805.2h1M314.7 817.1h1M296.1 806.5h1M304.9 809.6h1M330.4 795.4h1M299.9 821.8h1M311.4 811.6h1M304.5 817.9h1M338.1 811h1M297.5 823.2h1M329.2 817.8h1M307.8 811.6h1M327.3 815.3h1M307.3 817.4h1M305.1 811.7h1M315.1 815h1M313.2 817.8h1M298.8 812.7h1M319.3 810.6h1M313.8 808.3h1M321 823.9h1M296.7 813.9h1M303.6 802h1M300.5 821.7h1M315.9 809.9h1M306.7 814.5h1M300 802.7h1M333.7 801.6h1M306.7 808.8h1M329.7 814.6h1M326 822.7h1M304 814.8h1M301.1 817.2h1M317.1 810.6h1M323.8 799.2h1M330.8 796.6h1M319.7 808.5h1M320.4 809.9h1M305.3 811.8h1M303.9 808.6h1M330.4 797.7h1M296 816.4h1M318.5 809.9h1M320.8 815.4h1M300.6 803.7h1M310.2 797.3h1M322.3 805.8h1M337.9 809.3h1M337.3 810.4h1M309.3 806.4h1M309.8 814.2h1M307.7 798.4h1M317.6 797.5h1M326.5 803.2h1M299.6 804.6h1M311.8 813.7h1M306 797h1M303.4 820.9h1M307.1 816h1M340.4 794.8h1M339.2 813.7h1M335.2 816.7h1M299.2 822.9h1M318.8 802.9h1M320.3 809h1M304.3 822.6h1M322.9 811.2h1M310.7 816.4h1M308.7 803.8h1M318.1 799.6h1M321.2 807.2h1M312 807.3h1M314.1 799h1M299.8 797.8h1M313.8 819.3h1M324.6 807.1h1M315.7 819.2h1M311.9 816.1h1M297.1 801.9h1M330.5 818.7h1M297.9 811.6h1M324.1 801.2h1M309.3 807h1M325.9 822.5h1M329.3 811.1h1M310 812.1h1M312.9 817h1M303.1 795.2h1M300.5 809.9h1M301.3 809.9h1M318.6 802.7h1M323.9 820.1h1M312.5 810.2h1M333.7 807.1h1M311.8 809h1M326.7 802.4h1M319.8 803.8h1M301.9 806.4h1M328.3 811.4h1M339.6 809.9h1M309.6 795.9h1M325.5 822.3h1M321.9 801.8h1M310.7 806.8h1M309.2 815.2h1M328.8 810.2h1M305.4 805.6h1M306.9 820.4h1M326.6 808.9h1M327.8 805.8h1M336.8 816.7h1M306.3 809.1h1M296 799.7h1M330.1 808.6h1M297.8 816.4h1M308.8 821.8h1M311.5 823.1h1M339.1 802.8h1M315 811.5h1M297.4 810.8h1M314.3 811.6h1M333.6 815.5h1M300.5 797.1h1M296.2 804.9h1M329.2 799.1h1M316.4 818.9h1M300.2 805.6h1M311.7 805.2h1M315.7 818.4h1M298.3 816.5h1M306.5 816.1h1M335.3 802.5h1M319.2 808.4h1M330.6 815.3h1M314.2 804.9h1M306.7 814.9h1M319 809.1h1M301.6 810.6h1M319.9 816.3h1M310.3 803h1M310.5 809.6h1M310.8 822.6h1M301.2 811.4h1M334.1 799h1M297.5 822.8h1M317.8 803.4h1M296.7 808.3h1M327.5 819h1M311.5 810.2h1M317.3 818.4h1M321.4 821.3h1M319.8 807.2h1M317.3 808h1M319.9 823.3h1M319.6 814h1M308.1 809.8h1M310.5 821.6h1M311.3 802.1h1M304.5 815.5h1M307 807.1h1M333.4 805.3h1M296.8 817h1M338.6 807.5h1M307.2 809.2h1M323.5 807.1h1M314.7 813.3h1M312.1 802.9h1M322.6 804.8h1M338.8 798.8h1M313 802.2h1M314.2 820h1M307.1 814.2h1M331.3 802.7h1M330.6 815.2h1M315.2 810h1M301.2 807.8h1M321.5 810.8h1M300.1 802.7h1M305.8 817.3h1M328.4 806.3h1M306.5 815.9h1M305 806.9h1M303.5 816.8h1M324.8 812.1h1M320.6 803.2h1M307.8 817.1h1M319.8 809.5h1M298.4 805.4h1M301.5 810.9h1M317.4 812h1M327.1 810h1M314.2 816.6h1M297.3 804.5h1M307.7 804.8h1M330.4 797.3h1M306.2 808h1M318.2 802.1h1M320.8 813.7h1M306.9 806.5h1M315 816.8h1M300.2 808.3h1M306.5 812.4h1M315.1 803h1M323.6 823.9h1M333 811.3h1M307.9 812.2h1M321.3 805.2h1M312.9 815.3h1M303.5 813.2h1M303.6 800.8h1M313.8 814.6h1M314.7 812.9h1M304 801.7h1M314.2 807.1h1M324 807.6h1M310.8 808.2h1M304.6 820.4h1M309.6 816.1h1M317.2 816.3h1M331.4 805.2h1M313.8 813.3h1M300.6 799.7h1M336.7 810.2h1M323.9 805.6h1M310.9 814.9h1M311 814.4h1M311 806.9h1M316.8 803.7h1M299.5 814.9h1M316.4 800.7h1M306 811.8h1M321.4 798.7h1M319.2 819h1M299.7 812.6h1M333.5 805.3h1M325.2 810.6h1M301.8 814.2h1M299.7 805.3h1M304.8 803.2h1M319.4 813h1M332.3 804.5h1M301.8 813.2h1M303.6 815.8h1M321.8 800.7h1M313.8 814.1h1M313.7 813.6h1M312.8 804.5h1M309.9 817.2h1M339 816.9h1M328.2 811.9h1M309.8 809.4h1M332.1 803.3h1M341 811.4h1M321.1 814.8h1M318.8 819.4h1M307.6 812.4h1M316.2 813.4h1M317.5 802h1M332.8 821.8h1M301.2 823h1M298.7 823.6h1M307.4 811.8h1M319.6 806.9h1M302.4 798.3h1M311.6 821.9h1M303.1 809h1M298.6 814.6h1M316.3 798.3h1M330.7 807.6h1M296 799h1M317.6 810.3h1M312 802.3h1M323.5 807.5h1M314.5 814.8h1M305.5 803.3h1M326.8 812.4h1M320.4 822.8h1M299.9 810.9h1M302.4 819.1h1M304.4 806.3h1M317.1 798.9h1M325.1 808h1M306.3 806.1h1M308.9 819.1h1M300.6 815.9h1M307.8 814.5h1M315.8 795.8h1M306 813.2h1M312.8 808.2h1M300.5 823.6h1M301.6 813.9h1M318.1 809.3h1M298.1 811.2h1M314.4 812.3h1M330.8 807h1M306.2 806.6h1M307.2 819h1M302.5 820h1M296.2 806.1h1M306 804.3h1M296.2 820.2h1M310.9 805.3h1M306.3 820.4h1M298.1 811.4h1M314.4 800.9h1M327.9 822.2h1M325 810.3h1M310 811.8h1M313.5 818.6h1M299.2 804.7h1M310.4 817.1h1M323 815.2h1M324.4 818.4h1M332.6 807.1h1M297.9 806.2h1M335.6 800.3h1M319.1 812.1h1M335.4 816.4h1M313.8 799.3h1M330.9 814.8h1M313.4 805.3h1M298.9 798.4h1M318.1 804.5h1M306.6 823.7h1M313.1 818h1M321 816.1h1M324.5 804.2h1M322.7 816.1h1M327.1 804.7h1M298.4 808.8h1M329.8 809.2h1M302 810.5h1M314.9 815.9h1M307.9 800.3h1M297.5 809.5h1M326 799.3h1M299.4 817.1h1M305.9 822.9h1M334 800.1h1M305.3 819.1h1M299.7 809.6h1M327 813.2h1M307.9 811.6h1M324.6 812.9h1M313.5 818.6h1M306.9 819.4h1M323.4 809h1M303.8 815.8h1M305.9 797.8h1M316.9 810h1M298.3 800.2h1M297.3 814.1h1M299.4 804.7h1M326.7 815h1M340.6 817.5h1M330.2 812.4h1M304.7 812.1h1M306.4 791.4h1M299.8 820.5h1M313.6 815.5h1M328.2 805.4h1M312.7 811.8h1M313.4 809.6h1M314.9 804.9h1M318 811.7h1M296.9 815.9h1M310.2 820.7h1M318.8 811.2h1M315.4 806.6h1M324.2 809.1h1M335.3 802h1M305.5 813.7h1M298.4 808.6h1M337 816.9h1M320.7 823.9h1M303.8 806.4h1M310.2 814.2h1M314 805.9h1M328.7 815.3h1M309.4 822.1h1M313.9 817.4h1M296.1 812.9h1M334.6 815.8h1M320.4 812.8h1M307.4 806.7h1M296.1 810.9h1M313.8 807.3h1M326.4 811.9h1M341.1 818h1M308.9 822.4h1M308.3 806.4h1M300.4 802.6h1M320.7 818.1h1M303.6 817.8h1M322.4 817.1h1M318.8 808.3h1M320.2 810.1h1M300.6 812.5h1M330.6 811.2h1M311.5 823.1h1M297.2 811.8h1M313.8 812.2h1M316.9 807.2h1M315.2 816.1h1M327.7 814.7h1M331.4 809.3h1M313.1 815.3h1M331.6 795.7h1M308.2 817.6h1M341 810.4h1M314.2 817.7h1M332.4 800.7h1M311.2 809.8h1M322.2 809.3h1M323.4 803.2h1M305.9 801.1h1M306.5 815.6h1M311.2 808.9h1M322.4 814.4h1M312.3 802.1h1M311.4 823h1M331.9 794.6h1M319.5 812.4h1M317.9 823.1h1M301.3 808.6h1M316.8 816.9h1M310.5 810.5h1M328.5 809.8h1M307.6 802.8h1M297.3 823.8h1M311.3 807.8h1M340.7 802.1h1M302.3 820.3h1M332.8 805.2h1M312.2 804.7h1M302.6 814.7h1M323.4 824h1M321 814.2h1M299.5 799.1h1M311.5 812.4h1M302.1 805.5h1M322.5 809.3h1M306 819.9h1M326.3 816.1h1M321 809.9h1M300.1 811.3h1M306 811.5h1M313.6 805h1M339.1 810.3h1M307.1 805.4h1M303.9 810h1M328.2 807.9h1M305.6 814.5h1M299.8 821.8h1M312.7 804.4h1M326.3 804.3h1M316.7 805.9h1M309.3 816.6h1M335 802.5h1M334.4 810h1M298.4 809.4h1M298.2 815.6h1M301.5 814.3h1M311.5 815.4h1M317 808h1M313.5 815.8h1M315.7 810.9h1M321 814.7h1M296.4 820.2h1M304.2 810.3h1M318.8 809.7h1M332.3 810.1h1M317.4 818.6h1M308.8 803h1M322.6 810.7h1M310.1 817.8h1M296.2 796.5h1M309.3 810.5h1M325.5 805.2h1M319.3 809.7h1M324.4 821.9h1M307.6 801.8h1M322.6 819.1h1M334.9 802.7h1M310.1 811.6h1M307.8 817h1M332.2 821.2h1M316.2 814.2h1M298.2 818.1h1M308.9 810.5h1M333.4 818.8h1M319.9 805.4h1M341.2 814.6h1M323.8 814h1M318.5 796h1M329.8 804.9h1M306.2 815.5h1M330 808h1M313.7 822.6h1M311.3 816.2h1M320.5 812h1M308.3 816.2h1M299 818.1h1M302.2 806h1M322.2 815.2h1M319.1 816.7h1M316.1 815.2h1M325.1 815.6h1M302.4 804.9h1M309.2 808.6h1M337.9 821.8h1M301.5 800.9h1M333 802.8h1M311.2 812.8h1M322.4 818h1M318.3 810.6h1M311.4 815h1M316.6 806.9h1M328.5 811h1M305.2 801.4h1M301.6 822.7h1M327.1 815.3h1M309.4 808.7h1M312.6 814.4h1M312.4 813.8h1M309 819.2h1M300 796.7h1M313.7 812.1h1M308.5 805.7h1M296 816.5h1M307.1 814.2h1M318.3 811.3h1M339.4 798.7h1M307.4 800.7h1M333.9 795.5h1M308.6 799.6h1M321.6 799.9h1M311.5 812.3h1M325.6 815.8h1M317 801.2h1M309.6 816h1M297.4 806.9h1M328.9 815.3h1M297 818.4h1M306.5 810.3h1M339.9 817.3h1M318.4 813h1M316.3 804.4h1M316.9 812.2h1M318.5 803.4h1M310.3 814h1M319.9 808.2h1M312.8 818.2h1M310.4 801.1h1M321.7 823.4h1M324 808.7h1M320.1 806.7h1M328.4 820.5h1M341.3 822.8h1M339.3 821.9h1M316.6 811.4h1M299.8 812.7h1M331.2 813.3h1M316.8 806.3h1M326 794.1h1M310.3 818.2h1M327.2 808.2h1M299.7 810.5h1M317.7 802.8h1M296.4 822.9h1M311.7 818.7h1M302.5 818.7h1M333.2 809h1M329 814.3h1M334.6 823.5h1M299.7 816.3h1M320.7 822.6h1M333.9 816.4h1M312.9 812.2h1M320.9 816.6h1M312.5 801.9h1M311.2 794.4h1M334.7 807.2h1M304.7 822.1h1M316.1 800.4h1M323.6 795.5h1M316.2 812.2h1M327.3 808.1h1M301.2 802.8h1M331.5 809.4h1M299.1 801.7h1M312.6 806.8h1M310.8 815.3h1M322.2 814.4h1M313 812.7h1M309.7 815.8h1M325.2 801.3h1M307.1 812.3h1M306.4 804.9h1M307.5 810.3h1M298.6 803.2h1M298.6 799h1M309 809.6h1M325.5 815.1h1M308.5 819.5h1M304.1 797.9h1M314 808.1h1M304.5 815.2h1M336.9 819.1h1M315.9 801.1h1M298.4 808.6h1M307.7 813.5h1M302.8 821.6h1M303.2 795.4h1M303.1 810h1M308.2 822.4h1M307.1 815.1h1M306 811.1h1M297.5 809.8h1M320.4 818.8h1M303.4 802.5h1M304 806.6h1M301 810.5h1M326.4 815.7h1M331.9 823.9h1M299.5 814.2h1M312.9 812.4h1M322.9 819.5h1M327.9 808.7h1M308.7 805.1h1M319.2 814.3h1M309.2 813.9h1M299.7 811h1M327.8 798.7h1M314.2 800.5h1M320.9 823h1M312.2 814.5h1M303 792.2h1M308.3 813.3h1M319.8 798.1h1M297.5 807.2h1M336.4 801.6h1M304.3 810.2h1M327.8 806.9h1M309.1 811h1M323.5 811.3h1M317.7 800.4h1M312.6 812h1M327.6 801.2h1M316.4 815.2h1M335.7 813.1h1M319.7 805.5h1M296.1 807.1h1M312.9 803.7h1M315.2 810.5h1M307.3 811h1M298.3 814.3h1M314.2 813.8h1M314.8 803.2h1M297.8 811.3h1M323 809.3h1M313.6 801.7h1M330.4 817.5h1M338.7 808.3h1M306.4 814.9h1M305.3 802.6h1M331.3 821.5h1M330.2 813.4h1M319.7 814.5h1M325.4 813.3h1M311 814.9h1M315 797.2h1M315.3 812.4h1M302.7 811.9h1M325.5 821.3h1M326.1 820.5h1M302.6 816.3h1M307.8 819.6h1M319.5 807.1h1M325.3 815.1h1M315.5 814.1h1M309 811.8h1M321.2 817.4h1M317.1 820h1M301.6 815.7h1M310.9 809.3h1M310.2 811.6h1M324.5 817h1M297.3 799.3h1M304.2 808.1h1M310 805.9h1M315.7 799.7h1M312.9 803.8h1M329.9 809h1M326 808.7h1M333.1 821.8h1M339.2 816.7h1M323.3 810.8h1M302 811.1h1M310.5 799.6h1M336 813.5h1M333 813h1M324.8 813.3h1M303.9 810.1h1M316.7 798.2h1M319.4 801.8h1M328.1 814.7h1M327.2 817.3h1M303.3 811h1M331.6 814.9h1M307.6 792.9h1M319.2 804.6h1M324.4 811.1h1M325 814.6h1M322.5 818.5h1M307.9 811.4h1M313.5 820.8h1M328.3 813.5h1M309 814h1M299.1 799.7h1M306.6 823.4h1M315.6 804.2h1M302.9 813.2h1M315.3 805.1h1M300.5 816.1h1M309.2 807.7h1M310.1 804.6h1M328.4 792.2h1M303.1 816.5h1M298.8 811.6h1M316.8 811.4h1M326.6 814.9h1M302.6 811.4h1M322.3 810.5h1M315.4 813.1h1M322.1 823.1h1M300.2 808.8h1M316.5 821.2h1M311.6 811.3h1M318 803.4h1M305.7 819.9h1M313.5 811.6h1M303.3 809.2h1M314.9 811h1M334 814h1M317.8 810.5h1M316.1 805.8h1M319.9 817.9h1M334.7 811.9h1M305.7 805.5h1M296.5 815h1M299.7 819.3h1M305.8 805.1h1M316.4 805.6h1M326.5 803.7h1M304.9 810.7h1M301 815.3h1M327.5 799.7h1M330 801.7h1M304.3 804.9h1M325.6 814.2h1M312.5 809.8h1M308.2 817h1M313.2 818.2h1M303.1 810h1M298.8 808.3h1M296.1 806.6h1M304.4 809.9h1M319.1 795.9h1M320.4 817.7h1M326.9 801.2h1M303.9 813.5h1M314.5 803.9h1M296.4 817.2h1M301.2 794.8h1M329.2 800.2h1M313 822.1h1M341.1 801.2h1M324.4 809.2h1M308.3 804h1M305.1 810.5h1M302.6 811.5h1M333.2 820.4h1M328.7 813.9h1M319.5 817.6h1M300.3 810.4h1M299.6 807.2h1M309.5 813.7h1M314.5 800.4h1M296.8 814.2h1M324.6 806h1M328.5 801h1M301.1 816.1h1M311.3 802.1h1M296.2 811.4h1M329.1 816.5h1M302.3 798.8h1M298.9 798.5h1M301.7 812.6h1M300.5 802.6h1M299.4 803.2h1M329.7 810.5h1M323.7 794.5h1M297.5 811.1h1M302.3 815h1M313.7 810.1h1M316.3 811.1h1M299.9 813.4h1M333.8 812.3h1M323.7 819.9h1M309.8 820.1h1M298 802.3h1M324.9 805.2h1M317.9 813.1h1M310.8 813h1M298.5 815h1M321.9 810.2h1M307.5 797.5h1M334 807.8h1M330.4 813.3h1M327.8 797.5h1M300.6 813.1h1M319.4 812.7h1M339.7 794.7h1M340.9 805.3h1M332.5 801.5h1M331 805.7h1M304 806.3h1M335.6 805.2h1M341.5 804.6h1M320.9 794.2h1M322.2 818.6h1M312.9 822.2h1M317.6 812.2h1M310.6 820.9h1M321.7 809h1M312.5 818.8h1M297.4 809.9h1M306.1 802.2h1M320.7 813.9h1M317.9 815.5h1M335.6 804.4h1M328.6 815.6h1M333.3 810.8h1M314.2 811.2h1M330.1 819.5h1M304.9 803.3h1M305.4 818.1h1M327.6 803.6h1M318.3 807.4h1M303.7 817.9h1M328.4 812.7h1M335.6 804h1M325.8 812.2h1M333.6 794.2h1M328.1 817.4h1M328 801.5h1M303.5 822.2h1M300.9 812.1h1M310.1 803h1M314.5 824.1h1M307 808.3h1M299 818.2h1M316.5 819.9h1M304.7 815.6h1M314.8 814.2h1M302.1 813.8h1M311.2 814.6h1M336 816.5h1M300.2 820.9h1M299.7 800.5h1M334.9 795h1M325.8 807h1M314.3 812.4h1M309.1 817.5h1M319.2 808.3h1M309.6 808.3h1M328.5 816.9h1M310.5 811.6h1M305.9 804.9h1M322.6 808.2h1M303.4 810.7h1M322.6 809.4h1M298 815.6h1M307.1 810.7h1M317.4 809.8h1M304.8 815.7h1M328.8 811.2h1M313.5 803.7h1M317.8 802.8h1M301.9 823h1M322.8 820.8h1M316 803.1h1M302.1 807.2h1M318.3 807.1h1M319.5 820.5h1M304.7 809.8h1M299.3 806.1h1M296.4 807.2h1M315.1 815.6h1M315.2 814.5h1M311.7 808.1h1M314.4 800.9h1M317 822.6h1M298.2 814.7h1M319.1 801.3h1M327.9 818.7h1M302.1 809.6h1M306.7 817.7h1M316.8 807.9h1M309.4 796.3h1M309.2 819.6h1M311 824h1M326.9 802.7h1M304.2 813.9h1M332.3 810.7h1M299 809.8h1M307.2 801.3h1M300.9 803.1h1M311.5 804.8h1M296.9 810.4h1M312 802.7h1M320.5 808.1h1M336.9 811h1M313.6 823.9h1M323.1 818.8h1M327.4 817.8h1M303.7 813.5h1M315.9 809.1h1M341.2 812h1M319.9 793.8h1M297.6 818.3h1M304.6 810.3h1M315.2 813.6h1M300.2 814h1M323.9 803.7h1M298.8 808.1h1M319.5 802.2h1M297.4 818.2h1M302.6 806h1M318.3 810.3h1M323.2 815h1M301.1 822h1M297.5 811h1M322.6 819h1M300.5 805.2h1M320.4 807.1h1M333.2 806.9h1M323.9 790h1M297.5 801.2h1M332.3 823.7h1M330.6 806.1h1M306.3 808.9h1M308.7 808.9h1M335 814.1h1M319.3 803.7h1M320.9 819.6h1M330.3 820.3h1M322.5 806h1M334.6 803.8h1M317.1 813.3h1M316.7 814.4h1M310.8 804.8h1M332.2 809.3h1M298.1 823.2h1M327.6 803.6h1M306.6 818.5h1M300.6 804h1M329 809.1h1M321.2 806.3h1M319.1 803h1M310.7 818h1M314.8 805.7h1M306.1 810.9h1M334.1 812.4h1M334.6 810.5h1M314.5 814.2h1M315.3 810.2h1M319.3 808.7h1M328.1 815.2h1M318.4 802.5h1M308.7 809.8h1M311.9 818.6h1M319.2 807.2h1M313.2 806.7h1M309.8 821h1M332.8 808.4h1M321.3 813.3h1M328.3 808.6h1M302.8 811.8h1M327.2 807.7h1M315.7 809.2h1M311.8 822.3h1M305.7 809.9h1M306.3 806.5h1M308.7 805.2h1M317.1 801.4h1M314.2 808h1M322.2 804.2h1M318.9 814h1M314.2 815.6h1M304.1 801.1h1M304 805.3h1M320.5 823.4h1M297.1 818.3h1M338.5 802h1M337.7 809.3h1M296.6 823.2h1M332.7 807.3h1M331.1 803.2h1M331.5 805.7h1M325.1 810.9h1M338.8 812h1M304.1 814.4h1M309 814.3h1M324.1 808.5h1M316.3 791.9h1M296.1 791.4h1M327.2 811.7h1M330.1 821.4h1M312.5 811.2h1M320.9 812.6h1M329.1 812.4h1M302.8 822.8h1M307.6 811h1M303.2 815.3h1M313.5 810.2h1M298 821.9h1M297.5 810.3h1M318.6 819.5h1M341.4 816.7h1M298 815.3h1M338.3 814.6h1M329.2 814.6h1M329.8 814.7h1M334.2 815.1h1M309.6 815.7h1M331.5 814.8h1M296.8 813.1h1M304.3 796.7h1M320.3 803.8h1M326.5 815h1M296.1 820.6h1M300.7 802.2h1M321.4 810.6h1M319.8 807.9h1M325.5 802h1M314.5 824h1M297.1 815h1M331.6 809.2h1M326.6 800.2h1M318 811.1h1M319 810.8h1M337.1 810.8h1M313.7 809.4h1M310.7 814.8h1M299.2 815.8h1M309.1 813.3h1M312.3 805.9h1M332.3 801.9h1M298.8 809.6h1M325.9 812.5h1M311.7 801.5h1M328.5 806.4h1M321 805.1h1M301.5 811.4h1M323.9 813.6h1M315.1 806.9h1M328.4 811.7h1M312.9 817h1M338.9 808.1h1M314.3 810.4h1M324.4 818h1M318.4 813.1h1M306.2 818.2h1M317.6 813.1h1M309.4 812.5h1M323.8 791h1M300.8 818.2h1M302.1 805.8h1M328.1 813.9h1M323.4 807.8h1M323.8 813h1M323.8 816.4h1M330.6 800h1M322.5 802.3h1M328.9 823.3h1M304.8 811.6h1M323.1 813.1h1M305.4 822.2h1M298.3 809.3h1M312.6 806.8h1M325 810.1h1M316.1 807.1h1M341.1 797.5h1M325.5 813.8h1M321.9 801.3h1M317.5 794.4h1M296.8 819.1h1M316.6 812.2h1M316.2 800.5h1M340.6 808h1M304.7 815h1M314.1 800h1M305.6 803.9h1M318 822.3h1M298.8 804.4h1M320.1 811.8h1M316.1 809h1M318.5 819.1h1M314.7 809.2h1M322.8 817.4h1M315.6 812.9h1M331.3 800h1M340 821.4h1M320.6 806.7h1M297.9 812.6h1M322 814.2h1M298.1 808.6h1M303.4 799.2h1M307.5 806.3h1M300.1 817.5h1M315.9 810h1M310.7 807.1h1M305.3 802.2h1M321.2 810.9h1M305.4 809.4h1M334.1 808.6h1M324.9 805.6h1M309.7 823.8h1M322.1 800.1h1M306.1 808h1M306.9 810.3h1M330.4 818.4h1M297.6 808.4h1M322.4 795.8h1M303.9 822.4h1M301 810.2h1M304.1 810.7h1M302.8 821.6h1M299.1 807.3h1M307.2 805.6h1M300.8 811.8h1M312.8 809.2h1M327.2 804.7h1M304.5 817h1M317.3 823.1h1M324.4 809.7h1M340.4 794.5h1M314.3 807.7h1M325.9 793.7h1M322.9 807.8h1M316.3 812h1M310.7 816.1h1M320.7 799.9h1M325.5 820.2h1M296.6 814.9h1M310.2 813.4h1M320.4 808.2h1M319.8 810h1M320.3 821.3h1M339 819h1M330.6 797.7h1M297.5 809.7h1M338.3 810.3h1M305.4 812.9h1M303.6 808.2h1M331 815.9h1M310.8 802.1h1M298.9 804h1M324.4 810.4h1M321.9 803.5h1M323.2 811.5h1M296.1 813.5h1M327 803h1M306.6 811h1M328.4 816.3h1M297.5 798.5h1M301.6 811.7h1M301.8 807h1M304.2 799.1h1M330.7 819.7h1M318.8 812.6h1M307.2 803.1h1M335.1 812.5h1M318.4 813.6h1M326.5 811.4h1M320.3 812.5h1M313.9 812.6h1M317.4 807.3h1M321.7 809.6h1M331.7 797.5h1M324.1 807.9h1M328.1 797.9h1M299.3 809.3h1M301 797.4h1M319.9 811.2h1M317.6 801.2h1M321.7 809h1M300.8 798.3h1M317.4 816h1M300 813.7h1M316.5 807.3h1M314.2 817.3h1M312.8 799.4h1M319.8 811.5h1M308.1 806.3h1M315 802.6h1M325.3 805.7h1M337.1 815.6h1M321.1 820h1M327.1 822.6h1M323.7 816.9h1M339.3 815.8h1M306.1 806.9h1M325.3 820.3h1M319.6 822.2h1M338.1 808.9h1M306.7 797h1M306 817.1h1M299.6 811.1h1M335.2 810.7h1M319.3 802.2h1M324.9 803.9h1M321.2 813.6h1M319.4 803.5h1M321.2 809.8h1M309.3 804.3h1M302.7 796.9h1M320 822.9h1M314.4 820.8h1M307.1 820.3h1M306.6 819.5h1M334.1 809.5h1M304.6 809.4h1M300 797.5h1M324.8 799.9h1M336.4 808.2h1M296.6 811.3h1M301 805.4h1M300.1 807.2h1M320.8 813.8h1M323.3 805.2h1M335.6 814.1h1M314.4 811h1M311.7 811.5h1M306.6 814.8h1M331.5 815.2h1M306.6 809.9h1M303.3 811.3h1M311.9 819.5h1M314.8 798.1h1M320.9 797.9h1M306.1 798.3h1M340.4 801.7h1M299 817.4h1M317.2 817.9h1M300.7 823.2h1M311.1 812.8h1M297.4 823.1h1M311.1 809.7h1M319.1 808.5h1M317.6 814.4h1M296.1 814.4h1M302.4 810.9h1M300.8 806.3h1M332.7 813h1M312.6 798h1M316.2 817h1M336.1 815h1M300.7 814h1M321.1 812h1M305.4 808.9h1M317.9 806.5h1M301.2 812.9h1M309.3 798.9h1M314.1 823.7h1M316.7 808.6h1M296.7 810.2h1M311.5 820.6h1M327.9 821.1h1M313.8 809.8h1M327.4 802.2h1M324.6 807.7h1M318.6 811.2h1M309.8 813h1M316.2 814.3h1M301.7 813.6h1M324.7 806h1M319.8 802.8h1M332.2 806.7h1M327.3 806.5h1M323.3 803.2h1M317.9 824.1h1M327.4 808.4h1M335 814.7h1M311.1 809.9h1M296.8 820h1M295.9 818.5h1M329.5 811.6h1M321.9 814.8h1M322.9 814.3h1M299.2 817.2h1M307 807.6h1M297.9 803h1M298.6 817.8h1M306.9 808.9h1M305.2 814h1M338 808.9h1M296.8 802.7h1M306.1 808.9h1M304.3 811.7h1M316.1 818.4h1M325.6 802.7h1M303.5 798.9h1M299.1 824.1h1M308.9 806.6h1M320.8 812.1h1M299.4 820.1h1M329.1 798.3h1M300.4 807h1M305.8 795.7h1M308.6 816.5h1M326.4 821.7h1M320.2 810.3h1M300.5 823h1M298.9 813.1h1M305 802.5h1M338.2 807h1M333.9 803.8h1M317.2 809.9h1M304.9 805.3h1M300 811.7h1M308.5 820h1M322.6 807.4h1M323.1 811.3h1M320.7 816.6h1M304.9 818.9h1M322.4 802.1h1M312.8 822.8h1M327.7 816.9h1M318.7 808.2h1M326.2 806.4h1M319.9 809.1h1M308.2 821.8h1M332.1 803h1M300.1 811.7h1M324.7 821.5h1M308.7 803h1M309.8 811.6h1M319 823.7h1M307.6 820.3h1M300.4 812h1M301.7 815.5h1M298.8 808.9h1M315.5 809.8h1M319.6 816.5h1M313.9 807.8h1M297.9 809.2h1M317 818.6h1M328.7 805.2h1M298.7 809.4h1M302.1 812.2h1M328.3 808.3h1M312.7 816.7h1M330.6 816.6h1M310.3 811.7h1M296.6 817.7h1M314.5 799.9h1M314.3 809.1h1M319.3 805.6h1M302.9 797.8h1M308.5 800.3h1M307.1 817h1M337.9 798.8h1M298.9 813.8h1M318.4 812.3h1M320.4 809.2h1M327.6 810.1h1M315 810.8h1M305.8 808.4h1M316.6 799.6h1M297.1 822.8h1M307.3 821.3h1M297.7 820.1h1M337.6 808.5h1M327.1 809.8h1M341.6 807.8h1M322.2 796.9h1M296.9 810.4h1M300.9 821h1M319.6 807.5h1M303.1 797.4h1M301.5 796.2h1M299.6 811.1h1M304.2 809.5h1M301.3 808.2h1M321.2 806.2h1M304.8 811.6h1M333.2 814h1M338.8 799.3h1M314.1 799.4h1M330.1 810.4h1M330.8 814.8h1M318.1 815.1h1M312.5 818.9h1M333.4 819.5h1M324.5 812.6h1M312.5 815.8h1M307.9 808.6h1M315.1 814.3h1M328.5 817.3h1M324.9 813.4h1M306.6 821.2h1M312.9 807.9h1M317.5 812.4h1M309.2 800.6h1M313.9 813.9h1M301.1 811.7h1M303.6 817.2h1M319.2 795.5h1M318.5 808.6h1M310.8 801.7h1M312.7 806.3h1M325.1 817.5h1M319.1 815.1h1M308.4 812.8h1M324.9 817.1h1M330.8 805.4h1M315.3 804.6h1M322.3 802h1M302.6 814.9h1M312.3 811h1M323.3 805.9h1M315.2 819.8h1M303.6 812.6h1M308.3 803.2h1M311.9 810h1M311.3 811.5h1M316 818.9h1M337.7 813.1h1M318.4 805.7h1M309.9 803.4h1M325 822.9h1M324.4 807.9h1M300.1 813.4h1M306.6 817.6h1M299.7 797.5h1M320 806h1M327.4 818.7h1M312.1 818.2h1M332.7 809.6h1M307.2 821.6h1M310.7 812.4h1M314.3 807.3h1M317.9 820.5h1M338.7 809.6h1M299.6 807.8h1M323.2 815.7h1M316.4 808.2h1M332 806.2h1M296.4 807.9h1M298.9 815.8h1M339.4 804.8h1M333.1 813.3h1M330.6 809.5h1M313.6 810.5h1M330.3 811h1M315.5 823.5h1M300 803.4h1M313.4 807.5h1M311.6 810.1h1M300.6 806.6h1M307.2 814h1M305.5 812.1h1M322.7 807.3h1M329 822.7h1M331.1 816.4h1M330.8 815.3h1M300.2 813.2h1M323.4 814.9h1M326.8 816.6h1M321.1 809.3h1M302 805.3h1M310.8 807.7h1M317.5 803.6h1M303.6 807.3h1M327.9 800.3h1M296.6 799.5h1M323 814.3h1M309.1 816.9h1M296.5 815.3h1M308.9 813.5h1M313.1 805.7h1M327 807.2h1M326.5 809.4h1M332.7 815.8h1M325.9 814h1M308.8 812.4h1M309 809.4h1M317.5 818.4h1M310.3 809.2h1M298.4 807.4h1M302.5 816.2h1M325.9 800.7h1M316.8 805.4h1M308 822.5h1M329.9 805.2h1M317.3 809.9h1M322.1 809.6h1M316.2 822h1M330.8 822.2h1M322.5 813.2h1M308.5 820.7h1M313.7 801.5h1M311.9 819.2h1M316.3 805.6h1M318.4 808.4h1M309.1 790.5h1M307 810.6h1M315.1 800.2h1M299.7 814.2h1M320.9 819.3h1M320.4 808.4h1M312.8 801.7h1M299.7 814.9h1M314.9 803.4h1M304.4 806.7h1M321.3 810.8h1M329.1 809.4h1M321.8 809.9h1M328.5 815.3h1M313.7 809.8h1M327.2 807.8h1M325 816.2h1M313.3 820.5h1M316.4 806.2h1M298.6 815.8h1M296 806.8h1M329.4 817.1h1M329.8 808.1h1M303.5 812.5h1M297.3 813.2h1M301.8 811.3h1M331.4 808.3h1M319.9 823.7h1M333 803.5h1M326.8 822.8h1M307.1 804.7h1M310.3 810.9h1M330.8 798.9h1M296.3 814.2h1M323.1 812.3h1M309.2 803.7h1M333.3 822.8h1M307.2 813.7h1M304.7 812.2h1M328.6 822h1M314.1 817.8h1M330.1 809.2h1M319.2 808.4h1M306.5 798.8h1M324.4 803.9h1M308.2 820.6h1M323.9 805.1h1M316.3 808h1M325.7 810.1h1M301.5 819.2h1M305.5 797.2h1M341.1 798h1M319.4 808.6h1M312.4 816.8h1M302.2 819.2h1M307.6 819h1M318.3 804.3h1M297.8 823.3h1M314.3 802.5h1M311.3 812.1h1M301.7 808.2h1M315.1 805.2h1M332.3 793.3h1M308.8 805.4h1M311.9 812h1M318.6 808h1M306.4 809.8h1M299.6 810.5h1M315.4 810h1M308.6 818.1h1M305.8 808.5h1M334.6 820.7h1M316.5 802.5h1M304.4 813.5h1M305.2 819.3h1M337.5 806h1M326.4 805.8h1M299.9 810h1M323.5 821.8h1M307.9 820.3h1M306.7 806.8h1M330.8 794.2h1M325.1 808.9h1M302.9 808.6h1M314.7 806.4h1M324 817.1h1M313.3 802.6h1M320.8 815.3h1M305.1 810.4h1M333.2 816.7h1M335.5 819.6h1M305.6 816.3h1M296.4 817.5h1M308.3 813.7h1M327.2 799.4h1M317.9 808.6h1M314.2 814.8h1M317.5 807.7h1M297 814.9h1M314.3 802.4h1M313.5 804.9h1M306 813.3h1M326.2 811h1M305.7 810.1h1M305.9 818.1h1M324.9 819.1h1M323.9 811.7h1M316 817.2h1M318.2 810.8h1M320.5 804.4h1M319.7 812.3h1M301.1 806.4h1M326.8 797.8h1M320.4 800.1h1M311.2 816.7h1M331.6 819h1M323.9 809.3h1M304.4 811.8h1M313.6 821.3h1M306.8 801.2h1M329.5 804.4h1M296.4 817.7h1M332.8 812h1M305.4 811.2h1M319.2 819.7h1M308.8 808.2h1M320.4 820.5h1M331.4 823.2h1M323.9 800.1h1M297.8 815.2h1M311.3 816.1h1M316.9 812.2h1M341.7 815.9h1M307.7 794.9h1M309.3 807.2h1M304 804.5h1M314.3 804.1h1M324.4 795h1M301 822.5h1M334.9 804.9h1M332.9 809.3h1M326.4 810h1M323.9 802h1M300 823.2h1M307.2 808.8h1M309.9 791.9h1M326.6 782.5h1M303.3 784h1M320.4 781.1h1M314 785.1h1M320.7 795.7h1M317.2 784.3h1M303.3 782.4h1M321.1 769.8h1M311.6 769.9h1M301.8 778.1h1M324.4 777.2h1M333.6 789.9h1M326.1 794.6h1M297.6 780.4h1M322.3 780.9h1M312.1 780.8h1M311.7 780.5h1M310.2 782.4h1M325.4 786.3h1M301.7 790.3h1M317.8 779.4h1M298.3 785.3h1M316.3 776.5h1M296 789.1h1M295.9 787.7h1M311.5 792h1M297.4 779.9h1M326.5 792.3h1M333 792.2h1M322.8 791.2h1M313.4 785.4h1M320.3 788.4h1M314.8 774.7h1M318.7 777.2h1M304.4 773.6h1M317.1 776.5h1M307.7 777.6h1M311.2 789.3h1M304.5 781.6h1M305.2 786.1h1M323.1 778.8h1M311.6 790.1h1M322.2 779.7h1M308.1 789.5h1M311 779h1M306 775h1M328.9 774.9h1M333.6 788.6h1M311 774.1h1M323.9 799.6h1M297.4 783.8h1M296 797.1h1M321.8 785.1h1M300.1 795.1h1M325.4 791.1h1M334.9 774.5h1M311.1 767h1M296.6 777.9h1M300.7 776.5h1M300.9 781.2h1M323.4 785.8h1M298.7 787h1M301.7 794.8h1M332.8 791.7h1M296.4 778.4h1M304 788.5h1M330.2 781.8h1M299.2 765.8h1M306.4 773.6h1M303.2 785.8h1M315.1 769.3h1M311.8 780.7h1M305 775.8h1M296 786.3h1M323.5 788.7h1M305.6 773.1h1M303.7 778.8h1M312.9 778h1M331.5 776.5h1M314.7 783.8h1M308.2 781.7h1M320.5 799.6h1M303.9 784.2h1M303.8 775.5h1M312.1 786.8h1M303.2 769.3h1M302.1 787.8h1M305.1 793.6h1M299.6 780h1M305.3 786.3h1M313.5 779.7h1M317.4 790.3h1M298.2 780.3h1M309.7 783.9h1M301.8 782.8h1M324.5 777h1M335.5 791.3h1M315.1 786.3h1M318 775.6h1M309 774.7h1M319 778.9h1M309.8 794.2h1M296.1 783.2h1M329 788.3h1M320.9 797.7h1M318.9 776.7h1M334.9 778.2h1M306.5 797h1M322.4 787.9h1M315 784.5h1M304.1 789.8h1M307.9 780.8h1M320.2 788.2h1M317.4 796.5h1M311.1 788.5h1M296.1 781.3h1M316.1 792.7h1M315.1 778.8h1M320 776.3h1M336.6 780h1M313.4 780.3h1M327.4 785.8h1M319.3 780.5h1M299.6 773h1M296.8 776.5h1M319.3 793.9h1M311.1 786.9h1M330.4 791.1h1M323.8 795h1M324 787.9h1M302.7 778.6h1M312.7 784.7h1M324.4 787.2h1M313.4 767h1M329.4 794.8h1M312.7 785h1M316.4 778.4h1M329.5 783.7h1M319.3 778.3h1M314.9 792.5h1M313.7 790.9h1M317.9 796.4h1M328.6 778h1M315.3 795.9h1M304.6 776.2h1M324.7 777.8h1M315.9 788.2h1M330.8 796.8h1M317.7 790.2h1M326.7 791.3h1M302.7 790.7h1M311 791.8h1M314.1 784.9h1M302.4 787.7h1M318.6 785.8h1M308.4 785.5h1M308.5 775.2h1M304.1 768.7h1M312.1 785.2h1M298.7 786h1M325.3 786.6h1M318.8 777.4h1M320.9 779.6h1M330 784.4h1M317 786.5h1M309.3 780.5h1M331 776.6h1M308.2 788.9h1M315.4 781.7h1M303.6 800.3h1M306 790.8h1M312.8 781.3h1M321.8 798.4h1M320.1 797.8h1M325.9 783.2h1M305.6 801.6h1M305.6 788h1M315.8 768.1h1M302.4 782.4h1M307.6 770.8h1M313.7 772.4h1M302.3 791.6h1M298.5 786.9h1M318.2 782.2h1M303.2 776.2h1M322.7 773.4h1M306.2 778.8h1M298.9 782.5h1M320.8 794h1M309.2 776.6h1M317.5 790h1M303.6 777.1h1M301.9 774.2h1M308.2 797.2h1M302 768.5h1M310 786.8h1M299 776.3h1M317 777.4h1M322.7 769.8h1M318.6 775.4h1M296 771.6h1M328.7 778.2h1M300.3 791.7h1M315.1 786.7h1M313.7 779.5h1M322.4 777.3h1M303.4 783.9h1M305.7 791.1h1M327.7 795.6h1M327.4 784.4h1M298.8 760.2h1M308.6 786.2h1M301.9 789.2h1M308.2 780.1h1M327.3 779.1h1M303.6 784.1h1M313.1 801.8h1M315.6 790.8h1M296.1 790.4h1M324.3 780h1M303.5 790.4h1M297.7 787.1h1M316.7 794.3h1M314.5 789.7h1M305.1 766.8h1M311.5 778.2h1M334.7 781.6h1M321.5 792.1h1M312.4 795.3h1M307.5 776.6h1M336.7 785.2h1M306.5 780.2h1M302.3 782.6h1M328.5 784.1h1M304.3 777.6h1M297.2 770.5h1M296.8 784.5h1M304.6 786.5h1M302.2 783.3h1M304.3 787.2h1M333.9 800.3h1M311.1 788.1h1M304.5 785.2h1M310 776.3h1M314.8 793.2h1M325.4 787.7h1M329.6 784.9h1M302.4 781.2h1M297.9 768.9h1M312 779.7h1M337.7 779.6h1M305.7 795h1M326.6 771.7h1M304.8 799.3h1M304.8 773.8h1M308.8 777.8h1M330.7 784.2h1M305.9 793.8h1M313.2 780.5h1M316.7 788.9h1M324.5 773.8h1M324.2 784.3h1M322.9 784.4h1M307.4 787.6h1M310.5 778h1M316.1 794.5h1M308.9 793.2h1M300 788.8h1M305 783.6h1M302.4 787.1h1M323.8 786.9h1M304.9 780.4h1M302.5 782.6h1M328.7 801.4h1M297.2 789.3h1M298.8 792.5h1M311.4 780.1h1M322.7 782.4h1M313.9 793.8h1M312.4 780.7h1M303.9 783.1h1M318.8 789.1h1M315.6 782.6h1M315.5 786.9h1M306.8 790.9h1M328.4 776.6h1M313.4 798.2h1M320.5 769.3h1M296.9 783h1M299.4 788.6h1M322.2 781.6h1M303.8 792.9h1M301.3 788.5h1M317.3 768.5h1M330.2 781.2h1M308.8 786.5h1M308.5 786.4h1M318.3 777.5h1M319.8 777.4h1M313.3 787.8h1M300.9 775.2h1M322.7 785.3h1M302.1 785.5h1M303.3 791.2h1M315.4 798.1h1M311.7 786.4h1M315.1 777.8h1M309.1 777.8h1M326.1 775h1M312.6 788h1M307.8 785h1M322.7 786.2h1M317 779.6h1M310.1 781h1M299.6 783.5h1M318.2 773.6h1M310.8 782.6h1M321 791.1h1M304.8 784.4h1M297.3 779.1h1M304.8 784h1M301.5 785.7h1M321.8 792.7h1M314.6 791h1M318.3 776.4h1M312.4 784.7h1M333.4 784.2h1M330.9 774.4h1M328.2 788.4h1M309 788.9h1M300.5 773.1h1M314 779.7h1M324.4 798h1M309.6 785h1M333.8 791.4h1M317.1 789.1h1M333.9 786.8h1M297 798.4h1M302.4 790.9h1M298.7 769.8h1M304.2 786.6h1M302.2 788.8h1M300.3 776.9h1M329.9 796.2h1M319.8 786.8h1M301.6 774.2h1M303.2 784.8h1M328 782h1M305.3 786.7h1M297.7 782h1M295.9 779h1M302.6 786.2h1M318.5 784h1M323.9 782.8h1M316.6 800.5h1M296.8 777.3h1M329.8 769.8h1M328.3 778h1M322.8 782.8h1M298.1 781.8h1M302.1 768.6h1M301.9 772.5h1M304 790.5h1M320.9 772.2h1M315.1 790.5h1M306.9 790h1M327.7 785.9h1M311.2 779.5h1M304.8 786.6h1M303.8 776.5h1M296.4 782.1h1M309.1 771.7h1M300.6 796.1h1M310.7 783.7h1M317.2 779.2h1M318.3 772h1M306.1 801.8h1M337.5 786.6h1M296.7 800.9h1M321.6 781h1M312.5 789.2h1M315.9 781.9h1M303 776.3h1M301.7 777.4h1M320.6 786.3h1M300.4 779.5h1M313.9 759h1M298 788.6h1M301.5 779.9h1M313 788.6h1M304.5 777.6h1M300.8 779.6h1M314 796.7h1M313.4 782.9h1M314.3 763.8h1M305.7 793.9h1M299.5 789.3h1M321.8 776.9h1M322 793.5h1M315.7 798.1h1M328.1 782.9h1M325.1 775.4h1M321.3 783.7h1M303.7 783.9h1M325.6 775.6h1M300.4 784.8h1M317.3 773.4h1M298.7 772.2h1M309.9 787.1h1M322.6 774h1M307.9 778.7h1M324.8 785.5h1M305.7 784.6h1M334.3 775.6h1M310 794.7h1M321.7 774.8h1M311.6 768.3h1M297.1 782.2h1M306.5 775.9h1M296 795.5h1M298.9 789h1M316.1 787.5h1M328.9 783.2h1M307.1 788.5h1M300.6 785.1h1M309.1 786.1h1M309.2 779.5h1M327.1 775.7h1M337.2 777.3h1M310.1 773h1M301.1 786.1h1M296.1 788.4h1M300.5 800.2h1M311.1 798.5h1M298.9 777.9h1M321.6 780.7h1M308.9 784.3h1M302.6 787.3h1M331.2 794.9h1M324.1 789.6h1M313.5 786.8h1M311.8 773.8h1M296.8 790.4h1M320.1 781.1h1M327.9 773.9h1M303.3 772.3h1M313.3 787.3h1M310.4 776.7h1M308 777.2h1M317.4 784.3h1M309.3 782.1h1M306.5 792.1h1M327.9 782.6h1M299 790.3h1M306.5 786.6h1M306.2 783.9h1M301.2 776.9h1M304.9 786.8h1M330.6 787h1M300.7 788.3h1M299.3 788.3h1M307.2 780.9h1M302.4 797.3h1M296.4 784.4h1M328.4 794.8h1M317.9 789.5h1M297.4 778.6h1M309 770.4h1M307.5 783.4h1M313.6 783.3h1M315.3 788.5h1M318.8 784.1h1M314.8 776.6h1M311.7 783.1h1M300.2 788h1M312.9 788.7h1M314.5 780.8h1M297.1 787.5h1M312.7 777.1h1M296.4 796.5h1M300.3 778.4h1M310.7 791.6h1M318.6 785.4h1M324.2 767.1h1M304.1 776.1h1M298.4 789.1h1M299.6 788h1M308.1 777.3h1M310.1 776.9h1M317.9 785h1M309.1 778.5h1M325.8 788.3h1M317.9 775.6h1M320.2 788.9h1M316.8 779.8h1M318.8 786.2h1M297 787.1h1M323.4 792.2h1M304.8 778.4h1M309.2 777.7h1M298.1 774.2h1M316.6 778.9h1M305.7 781.1h1M302.5 789.1h1M320.8 784.4h1M368.1 806.1h1M341.5 815.9h1M357.9 813.5h1M374.5 804.3h1M384.3 812.3h1M389.5 806.8h1M348.2 819.8h1M362 822.8h1M352.2 812.9h1M347.2 800.3h1M354.9 808h1M362.7 814.9h1M374.4 816.4h1M336 801.9h1M358.6 807.1h1M344.1 822.3h1M384.3 823h1M389.4 797.6h1M352.8 810.6h1M348.8 811.6h1M371.1 809.1h1M376.8 812.4h1M344.1 812.8h1M353.5 812.2h1M365.2 822.9h1M343 814.2h1M385.8 815.2h1M361.3 803.9h1M361.7 804.6h1M341.1 814.6h1M381.1 812.7h1M338 811.2h1M348.4 797.3h1M350.5 803.9h1M358.3 816.7h1M336.5 801.1h1M347.5 818.6h1M370.4 803.4h1M359.8 811h1M362.5 820.4h1M376.8 815h1M368 813.1h1M377.4 803.8h1M360.9 802.1h1M345.5 824h1M388.2 815.3h1M337.5 808h1M341.2 807.9h1M361.8 806.1h1M378.6 802.2h1M334.4 814.6h1M342.1 821.6h1M365.8 808.2h1M352.7 816.4h1M362.4 824h1M370.6 811.4h1M362 817.3h1M362 812.3h1M364 822.6h1M357 807.9h1M365.7 812.2h1M376.7 810.4h1M345 817.2h1M365.2 817.8h1M375.4 804.8h1M357.4 807.1h1M359 813.7h1M391.5 820.7h1M379.3 808.1h1M398.9 815.5h1M391.8 805.6h1M355.1 817h1M349.1 810.5h1M355.8 809.2h1M375.2 815.9h1M361.5 821.9h1M380.9 802.3h1M361.5 814.9h1M366.2 815h1M356.9 813.2h1M376.6 817h1M356 810.5h1M368.7 816.4h1M361.1 814.1h1M393.3 810.7h1M368.6 813.4h1M368 817.7h1M359.2 806.1h1M347.2 797.6h1M367.5 816.2h1M378.9 805.5h1M360.9 817h1M347.8 819.8h1M393.1 816.1h1M351.4 817.4h1M363.9 812.6h1M351.2 796h1M346.4 818.2h1M374.1 807.3h1M371.3 805.8h1M369.9 824h1M377.7 823.8h1M352.7 805.5h1M389.1 820.3h1M356.7 814.1h1M376.1 819.7h1M396 819.6h1M352.1 813.6h1M367.1 803.5h1M358.8 796.9h1M362.9 816.2h1M365.9 801.1h1M359.6 811.7h1M361 813.3h1M372.6 813.2h1M338.7 813.3h1M348.5 822.7h1M352.5 812.2h1M337.9 819.8h1M366.5 809.1h1M353.2 791.8h1M346.5 821.1h1M338.1 799.5h1M346 819.7h1M368.1 814h1M339.6 804.1h1M376 807.8h1M371.2 802.9h1M365.5 801.7h1M348 815.4h1M378.1 806.9h1M354.4 807.8h1M348 799.1h1M348.7 822.4h1M367 804h1M377.7 813.6h1M364.5 817.4h1M343.4 817.3h1M370.8 817.2h1M340.1 811.3h1M365.7 813.4h1M385.5 811.1h1M340.8 807.4h1M337 806h1M359.4 811.5h1M362.1 812.9h1M347.8 817.1h1M347.3 811.8h1M386.4 812.4h1M345 815.9h1M333.5 813.7h1M353.6 802.3h1M382.1 805.6h1M371.9 809.4h1M359.7 802.7h1M338.8 810.5h1M358.9 803h1M370.5 800.8h1M377.8 807.4h1M333.9 813.6h1M353.5 820.1h1M351 810.4h1M389.2 810.3h1M355.5 819.3h1M359.3 812.9h1M352.2 815.7h1M379.3 820.7h1M350.7 797.4h1M334 804.3h1M350.3 811.6h1M352.6 800.2h1M351.7 814.1h1M384.4 805.3h1M340.2 809.1h1M355 814.5h1M369.2 807.7h1M353.3 794.1h1M351.5 817.6h1M392.6 817.8h1M373.2 798.9h1M346.2 816.1h1M364.5 812.2h1M345.2 814.7h1M367.8 816.8h1M336.4 807.8h1M373.6 818.7h1M366.5 818.9h1M365.9 813.2h1M360.1 807.4h1M363.9 800.9h1M345.7 811.6h1M361.2 804.6h1M370.1 801.3h1M367.4 807.9h1M344.6 805.2h1M369.6 812.8h1M340.1 823.1h1M347.9 805.6h1M345.9 819.6h1M350 807.2h1M358 817.4h1M371.4 819.9h1M377.8 812.2h1M367.6 820.6h1M347.7 810.8h1M372.6 812.8h1M376.5 813h1M347.4 800.2h1M340.2 805.4h1M357.5 813.1h1M392.4 805.4h1M355 808.4h1M357.1 813.8h1M371.8 821.2h1M340.3 816.6h1M341.9 797h1M358 811h1M374.1 807.2h1M354.8 798.8h1M349.2 816.6h1M386.4 820.4h1M339 818.9h1M381.9 822.3h1M348 811.4h1M379.1 811.2h1M388.5 816.7h1M345.3 816.1h1M369.7 789.8h1M372.2 808.4h1M380.9 807.5h1M354.8 817.9h1M380.6 817.1h1M361.7 809.9h1M343.1 813.7h1M376.7 812.6h1M381.1 813.5h1M359.7 823.6h1M357.8 808.6h1M372.9 809.7h1M388.1 807.3h1M339.3 806.2h1M377.7 798h1M393.8 814.3h1M345.3 809.8h1M369.5 801.3h1M361 814.1h1M365.9 802.9h1M380.8 814.9h1M333.3 814.6h1M351.4 819.3h1M336.9 812.3h1M354.7 796.1h1M391.1 797.8h1M342.4 810.6h1M352.1 807.5h1M349.7 802.8h1M366.6 819.1h1M354.6 814.3h1M346.8 812.7h1M347.1 823.8h1M357.2 817.1h1M339.4 815.9h1M379.4 812.9h1M362 821.7h1M349.9 808.1h1M357.2 815.1h1M372.1 808h1M345.5 807.1h1M360.3 812.7h1M350.9 798.3h1M380.3 824h1M336.4 810.9h1M383.3 800.9h1M339.9 812.2h1M346.6 807.5h1M339.4 810.1h1M358.1 814h1M371.1 818.1h1M364.9 815.2h1M339.1 808.4h1M350.9 801h1M387.2 821.1h1M356.6 821h1M344.2 801.1h1M374.6 814.6h1M354.8 817h1M345.4 818.1h1M375 819.4h1M356.9 810.9h1M358.1 817.2h1M370.4 798.8h1M346.7 820.4h1M334.6 807.6h1M359.4 816.7h1M349.1 799.1h1M359.5 818.8h1M347.5 807.8h1M347.1 799.4h1M336 807.4h1M364.4 816.2h1M392.1 812.9h1M339.1 810.1h1M379 800.6h1M371.1 810.5h1M348.9 806.9h1M342.7 819.7h1M368.7 811.1h1M353.8 802.3h1M355 813.6h1M352.1 815.1h1M391.7 814.3h1M367 807.7h1M391.5 808.5h1M362.6 816.9h1M395.6 824h1M359.9 803.7h1M362.7 814.8h1M373 805.2h1M347.9 807.7h1M360.5 815.9h1M369.6 819.7h1M348.8 804.7h1M367.7 822.3h1M378.2 821.2h1M340.5 800h1M358 817.7h1M366.7 810.2h1M348 803.7h1M377 796.1h1M380.7 819.1h1M350.7 812.9h1M364.2 804.9h1M349.6 811.7h1M358.1 817.5h1M368 804.6h1M357.6 823.8h1M363.1 804.3h1M352.7 812h1M380.1 811.6h1M375.8 816.8h1M349.9 813.5h1M369.5 803.8h1M352.6 803.3h1M383.4 807.3h1M356.9 813.7h1M373.9 811.3h1M383.5 801.3h1M371.3 820.2h1M374.5 798.9h1M363.8 816.8h1M376.7 818.3h1M379.2 811.9h1M372.4 821.2h1M356 799.3h1M357.9 799.5h1M361.2 801h1M357 798.6h1M346.7 802.4h1M339.4 823.7h1M358.9 806.7h1M345.2 817h1M354.5 805.3h1M339.3 813.7h1M337.8 815h1M353.6 818.5h1M356.6 807.4h1M396.8 803.5h1M359.2 819.7h1M378.1 808.9h1M368.9 808.3h1M365.6 812.5h1M355.6 813.1h1M371.3 802.9h1M369.4 801.9h1M337.2 806.2h1M371.7 806.4h1M357.2 806h1M334 815.9h1M347.6 812.1h1M372.3 811.4h1M376.2 818.5h1M358.6 805.7h1M380.9 797.6h1M373.8 796.5h1M334.7 813.3h1M342.3 815.1h1M366.3 817.6h1M345.5 806.6h1M350.1 812.2h1M365.5 803h1M355.7 819.7h1M348.9 810.5h1M337 816.1h1M394.8 809.7h1M337.2 813.2h1M353.3 823.6h1M378.7 805.5h1M358.8 811.2h1M344.5 810.4h1M341.3 812.2h1M379.7 818.6h1M373.4 811.4h1M337.2 799.3h1M371 810h1M387.5 815.6h1M351.2 802.9h1M376.4 813.1h1M333.5 813.3h1M339.3 807h1M368.7 820.5h1M363.7 810.8h1M372.4 812h1M388.3 799.2h1M353.4 823.2h1M364.6 810.1h1M359.6 800.6h1M346 822.4h1M386.3 814.1h1M364 818h1M381.3 822h1M346.8 816h1M347.3 808.6h1M362.7 813.7h1M361.5 797.3h1M344.5 822.8h1M369 809.1h1M379.9 809.3h1M354.3 810.6h1M351.8 806.8h1M351.9 813.3h1M369.2 807.7h1M358 813.2h1M367.6 815h1M378.9 818.2h1M355 814.5h1M355.4 806.1h1M355 815h1M385.1 806h1M358.1 812.7h1M361.1 811.3h1M354.9 801.8h1M375.2 819.8h1M366.9 811.9h1M340.5 804.6h1M376 807.1h1M366.9 808.4h1M380.3 800.9h1M368.9 814.4h1M359 810.2h1M343 798.2h1M376.7 819.6h1M381 807h1M345.1 806.7h1M358.9 808.6h1M367.9 807.8h1M357.7 817.1h1M366.5 809.8h1M353.5 811.8h1M349.1 808.2h1M380.5 809.7h1M370.7 803.6h1M346.6 795.4h1M360.5 803.5h1M348.6 807.6h1M362.5 805.3h1M349.4 801.1h1M364.5 816.6h1M335.8 821.6h1M341.7 821.2h1M357.5 805.2h1M370.4 813.2h1M345.6 812.9h1M392.7 809.9h1M353.4 805h1M373 813.6h1M343 814.3h1M342.8 805.2h1M340 812.1h1M333.1 806.4h1M352.4 803.4h1M345.3 812.7h1M387.1 816.7h1M358.5 819.7h1M364.5 814.7h1M385 809.4h1M385.8 820.4h1M341 809.7h1M341.7 813.9h1M346.7 805.2h1M383.7 818.9h1M337.2 810.3h1M342.3 805.8h1M364.4 808.5h1M374 815.1h1M343.3 817.8h1M379 822h1M362.3 810.7h1M345.5 815.5h1M369.1 813.9h1M381.3 805.8h1M381.4 818.1h1M368.6 804.7h1M382.2 794.7h1M359.9 811.7h1M365.2 814.1h1M390.1 812h1M358 804.7h1M346.2 793.4h1M339.3 817.2h1M351.1 818h1M344 811.9h1M340.4 812.5h1M356.8 812.9h1M336.7 822.3h1M357.9 809h1M359.7 816.6h1M373.3 809.2h1M377.4 814.8h1M386.5 817.9h1M355.7 824h1M336.5 801.2h1M373.1 811.9h1M366.9 808.8h1M352.6 800.1h1M373.9 807.6h1M393.3 809.5h1M366.4 821.7h1M353 803h1M363.6 804.9h1M344.6 819.5h1M393.7 822.5h1M339.6 808.5h1M342.8 812.6h1M377.4 800.8h1M356.9 821h1M339.4 811.9h1M376 806.7h1M379.7 808.1h1M371.2 821.8h1M377 814.8h1M391.5 795.8h1M368.3 817.3h1M373 814.7h1M362.1 805h1M372.3 808h1M389.5 801.4h1M372.4 816.4h1M349.9 816.2h1M359.1 805.4h1M393.5 813.1h1M339.2 811.5h1M350.1 818.8h1M349.1 817h1M382.5 817.1h1M345.4 816h1M353.2 816.6h1M359.3 813.7h1M369.7 813.9h1M370.7 803.6h1M340.9 798.5h1M340.9 813.8h1M336.1 800h1M379.6 807.8h1M356 822h1M363.3 809.4h1M360.2 821.9h1M335.1 803.4h1M341.2 799.9h1M393.1 801h1M353.6 815h1M368.6 818.5h1M343.1 803.6h1M361.7 812h1M333.6 804.2h1M351.9 812.3h1M365.7 806.1h1M377.1 797.2h1M354.2 808.8h1M371.3 806.2h1M365 815.5h1M363.8 819.8h1M353.1 810.1h1M366.6 811.1h1M378.8 807.3h1M360 811h1M354.4 815.7h1M371.7 810.7h1M371.2 817.8h1M335.6 821.3h1M378.5 809.4h1M333.2 811.5h1M380.2 807.1h1M365.7 815.2h1M352 812.3h1M348.5 818h1M363 814.1h1M353.5 805.2h1M378 813.3h1M334.4 808h1M357.2 816.6h1M352 821.9h1M386.1 815.4h1M334.3 813h1M376.8 813.5h1M367.8 817.1h1M336.2 803h1M348.3 815.2h1M342.2 808.3h1M363.6 807.1h1M369.4 804h1M377.5 806.5h1M347.6 804h1M368.7 810.7h1M356 820.5h1M368.5 819.1h1M358.8 814.4h1M359.5 818.2h1M354.3 816.7h1M368.5 812.6h1M361.8 811.4h1M343.6 814.2h1M376.8 797.2h1M372.8 818.3h1M358.6 815.2h1M379.7 819.6h1M359.1 803h1M357.9 804.9h1M352.8 820.8h1M381.4 807.7h1M390.4 821.2h1M356.6 808.4h1M349.5 811h1M378 810.7h1M375.1 823.9h1M370.8 809.8h1M336 809.8h1M365.1 801.6h1M363.3 810.2h1M355.3 811.4h1M367.8 816.2h1M357.6 807.2h1M366.9 805.2h1M360 805.6h1M355.5 804.5h1M388.9 812.2h1M359.6 821.2h1M370.6 810.5h1M376 800.5h1M344.4 802h1M357.2 815.9h1M345.7 796.1h1M357.5 801h1M340.7 804.9h1M374.9 818.1h1M360.3 806h1M339.7 804.1h1M368.2 795h1M343.6 814h1M336.3 812.9h1M367.3 802.3h1M361.1 802.6h1M348.1 804.5h1M372.3 814.5h1M367.9 815.5h1M363.2 809h1M377.3 807.4h1M365.3 804.3h1M381.2 816.1h1M366.1 822.3h1M366 802.9h1M354.6 811.9h1M392.3 803.9h1M350.8 821.2h1M358.2 811h1M353 813.4h1M370.3 811.2h1M391.9 806h1M388.2 820.2h1M356.5 814h1M345.5 817.2h1M351.2 803.1h1M368.9 801.6h1M353.8 810.2h1M373.4 805.8h1M365.1 812.4h1M339.8 815.4h1M341.2 800.9h1M374.4 811.5h1M374.5 801h1M360.6 793.4h1M384.9 819.2h1M359.4 806.5h1M355.5 813.1h1M359.7 807.9h1M369.6 822.1h1M362.7 816.9h1M362.9 808.6h1M346.3 807.6h1M346.2 804.7h1M380.9 810.6h1M352.5 808.4h1M355.4 812.8h1M375.8 821.7h1M339.8 815.2h1M348 813.1h1M349.7 809.6h1M336.2 809h1M350 803h1M344.3 796.4h1M352.5 818.2h1M341.8 809.6h1M379.8 812.5h1M372.8 805.8h1M371.2 822.5h1M369.2 805.9h1M370.2 812.2h1M348.4 823.8h1M350.2 796.7h1M339.9 811.5h1M394.2 795.8h1M353.5 794.6h1M361 808.5h1M343.3 812.8h1M355.8 805.6h1M368.1 800h1M365.6 797.5h1M339.8 808.1h1M372.7 816.9h1M347.1 799.5h1M334.1 823.8h1M375.2 812.2h1M365.6 810.1h1M356.3 806.9h1M347.1 814.9h1M372.9 809.4h1M355.6 803.9h1M348.5 810.2h1M369.4 816.6h1M364.8 804.8h1M340 809.3h1M380.9 817.7h1M346.6 796.8h1M366.1 811.8h1M358.5 806.6h1M373.3 814h1M369.7 811.6h1M382.2 814.2h1M351.7 804.9h1M360.1 802.7h1M347.4 804.5h1M342.1 813.4h1M370.8 815.1h1M368 823.8h1M364.3 802.6h1M349.3 812.8h1M386.3 819.4h1M366.4 818.9h1M370 804.7h1M361.6 812.6h1M365.2 805h1M379.5 809.2h1M377.7 803.7h1M378.8 808.6h1M362.2 819.4h1M362.5 800.6h1M341 819.9h1M357.1 799.5h1M351 809.5h1M346.5 816.2h1M360.3 814.3h1M361.5 816.6h1M348.5 807.8h1M355.9 820.3h1M360.3 824h1M365.4 801.1h1M345.5 807.7h1M338.4 820.2h1M359.9 801.8h1M350.3 807h1M369.9 806.8h1M336.4 814.5h1M382.1 818.9h1M356.8 805.2h1M356.5 816.4h1M362.4 795.9h1M371.7 813.6h1M373.3 806.4h1M350.5 821.2h1M367.3 814.4h1M369.6 795h1M363.6 810.4h1M345.2 823.8h1M366.9 802.9h1M356.9 801.8h1M360 816.6h1M380.3 809.8h1M358.2 810.6h1M367.5 816.3h1M384.2 810h1M376.6 822.3h1M339.2 808h1M342.3 803.2h1M377.5 805.7h1M357.1 804.9h1M351 806.4h1M358.5 799.9h1M340.5 810.7h1M369.3 816.3h1M345.2 804.8h1M374.9 806.8h1M364.3 822.7h1M358.9 810.2h1M369.2 816.3h1M355.9 813.5h1M359.5 810h1M380 799.3h1M387.8 807.6h1M369.2 815.7h1M383.2 814.9h1M333.9 809.2h1M362.4 807.7h1M359.8 790.5h1M352.3 817.8h1M369 814.9h1M392 803.5h1M368.7 813.3h1M378.8 809.4h1M383.1 822.8h1M382.3 822.9h1M361.6 805.7h1M350.4 818.3h1M379.3 805h1M374.9 814.3h1M353 808.4h1M387.2 801.9h1M346.9 816.7h1M340.4 816.6h1M359.6 802.2h1M338.9 810.6h1M358 811.9h1M359.6 804.1h1M351 818.1h1M361.7 811h1M339.8 820.1h1M374 805.9h1M375.8 801.8h1M374.6 809.4h1M353.8 821.7h1M368 811.7h1M355.1 808.4h1M380 811h1M341.2 802.2h1M365.3 816.9h1M353 808.5h1M372.2 813.4h1M361.8 811.5h1M355.3 807.2h1M344.5 819.8h1M368.1 813.1h1M374.6 808.3h1M340.9 804.4h1M367.6 802.8h1M344 809.4h1M352.4 802.3h1M363.2 801.4h1M380.5 811.7h1M368.3 796.2h1M371.2 799.4h1M352.7 813h1M358.2 811.7h1M370.7 814.3h1M363.3 811.7h1M363.2 808.2h1M367.2 808.8h1M387.8 813.8h1M383.1 807.2h1M384 801.9h1M367.1 804.1h1M348.1 805.9h1M341.6 813.3h1M363.2 813.1h1M344.6 798.5h1M355.8 816.4h1M397.3 804.1h1M361 798.6h1M363.3 821.9h1M359.8 798.6h1M363.5 818h1M339.1 804.4h1M365.2 810.2h1M373.9 815.3h1M365.2 817.8h1M365.8 818.4h1M361.5 820h1M372.8 813.6h1M342.4 803.4h1M352.9 796.5h1M360.6 812.7h1M370.9 816h1M348.8 810.9h1M363.7 798.6h1M360.2 816.3h1M372.8 810.9h1M353.3 803.4h1M371.1 814.5h1M373 807.1h1M356.4 812.1h1M358.4 812.4h1M353.4 811.8h1M349.3 812.7h1M350.5 805.3h1M343.3 822.5h1M372.6 820.3h1M367.5 814.4h1M358.8 822.2h1M362.5 818h1M361.4 819.9h1M385.2 811.9h1M375.1 823.5h1M355.4 813.2h1M372 815.9h1M334 803.5h1M352.7 822.9h1M348.2 823.3h1M366 822.8h1M351.8 819.5h1M347.9 818h1M348.8 806.9h1M337.3 817.3h1M339.1 812.9h1M344.7 812.4h1M366.5 807.4h1M364.8 821.7h1M372.7 817.5h1M387.7 811.7h1M375.3 801.5h1M350.3 817h1M385.1 806.2h1M363.1 810.9h1M366.6 811.5h1M364 798.2h1M338.1 816.9h1M367.2 805.9h1M358 797.5h1M344.3 814.7h1M366.4 794.7h1M388.2 806h1M357.4 808.9h1M339.6 800.6h1M358.3 809.6h1M345.7 820.6h1M352.3 812.4h1M366.4 821.9h1M344.8 806h1M358.6 815.2h1M357.9 817.6h1M352.7 795.1h1M353.6 802.7h1M354.9 799.8h1M355.6 798h1M357.8 820.6h1M368.3 797.4h1M352 818.6h1M346.5 818.7h1M368 808.5h1M349.1 813.6h1M394.5 798.5h1M355.9 813.7h1M392.1 806.3h1M364.1 811.1h1M365 816.5h1M374.6 813h1M366.9 814.2h1M357.9 809.8h1M354.5 812.1h1M345.1 804.8h1M344.6 813.1h1M373.7 808.9h1M387.7 807.4h1M375 790.5h1M354.9 810.1h1M388 808.6h1M390.3 806.5h1M377.9 802.4h1M370.3 812.3h1M340.4 813.8h1M366.2 810.9h1M353 822.1h1M365.9 819.9h1M354.3 819.4h1M359.6 800.5h1M358.7 803.4h1M345 812.6h1M376.3 808.5h1M348.4 817h1M366.6 823.7h1M368.7 812.8h1M356.8 814.6h1M345.7 815.5h1M361.4 821.2h1M356.9 806.7h1M371.6 805.3h1M344 807h1M340.1 803.1h1M370.3 817h1M362.9 806.7h1M378.1 811.5h1M380.9 814.5h1M363 818h1M361.3 813.4h1M360.1 811.1h1M374 823.9h1M390.3 800h1M355.8 803.9h1M356.6 805.2h1M369.4 798.4h1M370.9 806.1h1M356.7 806.6h1M372.7 799h1M380.8 814.5h1M350.1 820.7h1M379.2 804.1h1M346 812.7h1M379.5 803.4h1M344.1 806.2h1M344.8 816.1h1M336.3 811.4h1M353.4 819h1M357.7 810.6h1M356 812.2h1M352.3 805h1M354.3 797.2h1M350.2 809h1M352 813h1M360.4 810.1h1M349 811.6h1M360.6 814.2h1M340.6 809.2h1M336.4 819.1h1M370.5 817h1M345.1 809.1h1M359.6 804h1M341.7 807.1h1M333.7 812.9h1M335.8 802.7h1M343.6 808.6h1M378.9 798.3h1M346.3 807.2h1M361.6 811h1M351.5 819.7h1M359.6 801.6h1M338.1 803.7h1M375.4 800.9h1M361.1 814.9h1M350.3 818.8h1M370.8 800.9h1M346.1 821.2h1M363.4 806.2h1M383.3 820.2h1M349.6 800.6h1M387.3 802.9h1M377.1 823.6h1M343.5 808.5h1M366.3 811h1M376.3 806.4h1M342.2 819.8h1M382.2 821.4h1M380.5 823.6h1M376.7 811.7h1M385.2 807.8h1M371.9 805.5h1M362.7 808.4h1M387 802.1h1M368.9 812.1h1M372 812h1M348.9 816.3h1M366.3 795.4h1M343.8 805.7h1M357.8 811.6h1M367.5 819.7h1M337.2 820.9h1M365.7 811.5h1M345.9 816.6h1M349 808.2h1M373.1 795.6h1M353.2 785.9h1M345.3 781.8h1M364.1 779.9h1M348.2 781.9h1M357 777.3h1M342.7 783.7h1" stroke="#000" stroke-opacity="0.9" stroke-width="1" fill="none"/>
<rect x="295.5" y="658.8" width="166" height="165.9" fill="none" stroke="#000" stroke-width="1.75"/>
<path d="M290.5 824.7H295.5M295.5 824.7V829.7M292.5 812.2H295.5M308 824.7V827.7M292.5 804.9H295.5M315.3 824.7V827.7M292.5 799.7H295.5M320.5 824.7V827.7M291.3 795.7H295.5M324.5 824.7V828.9M292.5 792.4H295.5M327.8 824.7V827.7M292.5 789.6H295.5M330.6 824.7V827.7M292.5 787.2H295.5M333 824.7V827.7M292.5 785.1H295.5M335.1 824.7V827.7M290.5 783.2H295.5M337 824.7V829.7M292.5 770.7H295.5M349.5 824.7V827.7M292.5 763.4H295.5M356.8 824.7V827.7M292.5 758.3H295.5M362 824.7V827.7M291.3 754.2H295.5M366 824.7V828.9M292.5 751H295.5M369.3 824.7V827.7M292.5 748.2H295.5M372.1 824.7V827.7M292.5 745.8H295.5M374.5 824.7V827.7M292.5 743.6H295.5M376.6 824.7V827.7M290.5 741.8H295.5M378.5 824.7V829.7M292.5 729.3H295.5M391 824.7V827.7M292.5 722H295.5M398.3 824.7V827.7M292.5 716.8H295.5M403.5 824.7V827.7M291.3 712.8H295.5M407.5 824.7V828.9M292.5 709.5H295.5M410.8 824.7V827.7M292.5 706.7H295.5M413.6 824.7V827.7M292.5 704.3H295.5M416 824.7V827.7M292.5 702.2H295.5M418.1 824.7V827.7M290.5 700.3H295.5M420 824.7V829.7M292.5 687.8H295.5M432.5 824.7V827.7M292.5 680.5H295.5M439.8 824.7V827.7M292.5 675.3H295.5M445 824.7V827.7M291.3 671.3H295.5M449 824.7V828.9M292.5 668H295.5M452.3 824.7V827.7M292.5 665.2H295.5M455.1 824.7V827.7M292.5 662.8H295.5M457.5 824.7V827.7M292.5 660.7H295.5M459.6 824.7V827.7M290.5 658.8H295.5M461.5 824.7V829.7" stroke="#000" stroke-width="1.15" fill="none"/>
<line x1="336.6" y1="658.8" x2="336.6" y2="824.7" stroke="#000" stroke-width="1.15"/>
<line x1="295.5" y1="794.8" x2="461.5" y2="794.8" stroke="#000" stroke-width="1.15"/>
<text transform="translate(289.1 829.3) scale(0.95 1)" font-size="13.3" text-anchor="end" class="k">10<tspan font-size="7.0" dy="-4.9">0</tspan></text>
<text transform="translate(287.8 843.1) scale(0.87 1)" font-size="13.3" class="k">10<tspan font-size="7.0" dy="-4.9">0</tspan></text>
<text transform="translate(289.1 787.8) scale(0.95 1)" font-size="13.3" text-anchor="end" class="k">10<tspan font-size="7.0" dy="-4.9">1</tspan></text>
<text transform="translate(329.3 843.1) scale(0.87 1)" font-size="13.3" class="k">10<tspan font-size="7.0" dy="-4.9">1</tspan></text>
<text transform="translate(289.1 746.3) scale(0.95 1)" font-size="13.3" text-anchor="end" class="k">10<tspan font-size="7.0" dy="-4.9">2</tspan></text>
<text transform="translate(369.6 843.1) scale(0.87 1)" font-size="13.3" class="k">10<tspan font-size="7.0" dy="-4.9">2</tspan></text>
<text transform="translate(289.1 704.8) scale(0.95 1)" font-size="13.3" text-anchor="end" class="k">10<tspan font-size="7.0" dy="-4.9">3</tspan></text>
<text transform="translate(412.3 843.1) scale(0.87 1)" font-size="13.3" class="k">10<tspan font-size="7.0" dy="-4.9">3</tspan></text>
<text transform="translate(289.1 668.2) scale(0.95 1)" font-size="13.3" text-anchor="end" class="k">10<tspan font-size="7.0" dy="-4.9">3</tspan></text>
<text transform="translate(451.6 843.1) scale(0.87 1)" font-size="13.3" class="k">10<tspan font-size="7.0" dy="-4.9">4</tspan></text>
<text x="417.7" y="677.5" font-size="14.4" class="h">0.3%</text>
<text x="340.8" y="651.0" font-size="15.8" class="h">CD8<tspan font-size="8" dy="-5.6" dx="0.4" stroke-width="0.1">+</tspan><tspan dy="5.6" dx="1.2"> cells</tspan></text>
<line x1="72.4" y1="855.8" x2="245.6" y2="855.8" stroke="#111" stroke-width="1.0"/>
<line x1="289.2" y1="855.8" x2="460.6" y2="855.8" stroke="#111" stroke-width="1.0"/>
<text x="250.8" y="861" font-size="14" class="h">IFN-&#947;</text>
</g>
</svg>
</body>
</html>
